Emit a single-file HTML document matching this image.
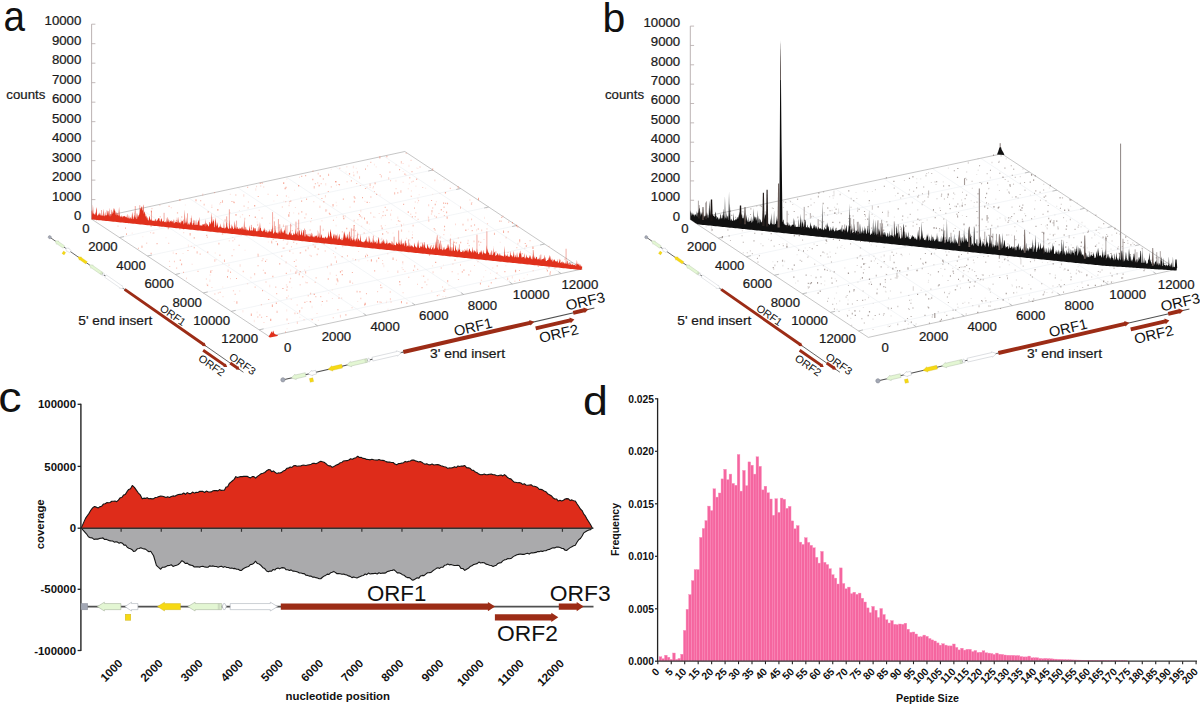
<!DOCTYPE html><html><head><meta charset="utf-8"><style>html,body{margin:0;padding:0;background:#fff;overflow:hidden}svg{display:block}text{font-family:"Liberation Sans",sans-serif}</style></head><body>
<svg width="1200" height="705" viewBox="0 0 1200 705">
<rect width="1200" height="705" fill="#fff"/>
<defs><g id="gm">
<line x1="0" y1="0" x2="512.5" y2="0" stroke="#505050" stroke-width="1.7"/>
<path d="M39.9,-3.05 L23.4,-3.05 L23.4,-4.4 L16.3,0 L23.4,4.4 L23.4,3.05 L39.9,3.05Z" fill="#e3f6d3" stroke="#a9b5a0" stroke-width="0.6"/>
<path d="M56.9,-3.05 L50.5,-3.05 L50.5,-4.4 L44,0 L50.5,4.4 L50.5,3.05 L56.9,3.05Z" fill="#ffffff" stroke="#aab0b8" stroke-width="0.6"/>
<rect x="44.2" y="7.6" width="5.6" height="6.1" fill="#f6d914" stroke="#c9b020" stroke-width="0.4"/>
<path d="M99.5,-3.05 L83.5,-3.05 L83.5,-4.4 L76.4,0 L83.5,4.4 L83.5,3.05 L99.5,3.05Z" fill="#f6d914" stroke="#c9b020" stroke-width="0.4"/>
<path d="M140.7,-3.05 L114.1,-3.05 L114.1,-4.4 L106.8,0 L114.1,4.4 L114.1,3.05 L140.7,3.05Z" fill="#e3f6d3" stroke="#a9b5a0" stroke-width="0.6"/>
<line x1="137.3" y1="-3" x2="137.3" y2="3" stroke="#a9b5a0" stroke-width="0.5"/>
<line x1="138.8" y1="-3" x2="138.8" y2="3" stroke="#a9b5a0" stroke-width="0.5"/>
<path d="M141.3,0 L142.5,-3 L144,-3 L145.3,0 L144,3 L142.5,3Z" fill="#ffffff" stroke="#aab0b8" stroke-width="0.6"/>
<path d="M149.2,-3.05 L189.3,-3.05 L189.3,-4.4 L196.6,0 L189.3,4.4 L189.3,3.05 L149.2,3.05Z" fill="#ffffff" stroke="#aab0b8" stroke-width="0.6"/>
<path d="M199.8,-3.15 L406.9,-3.15 L406.9,-4.6 L414.1,0 L406.9,4.6 L406.9,3.15 L199.8,3.15Z" fill="#9c2c16"/>
<path d="M477.8,-3.15 L495.7,-3.15 L495.7,-4.6 L502.8,0 L495.7,4.6 L495.7,3.15 L477.8,3.15Z" fill="#9c2c16"/>
<path d="M413.9,7.55 L470.3,7.55 L470.3,6.1 L477.3,10.7 L470.3,15.3 L470.3,13.85 L413.9,13.85Z" fill="#9c2c16"/>
</g>
<g id="gmt" font-size="22" fill="#111">
<text x="286.0" y="-6.0" textLength="59.3" lengthAdjust="spacingAndGlyphs">ORF1</text>
<text x="468.8" y="-5.7" textLength="60.9" lengthAdjust="spacingAndGlyphs">ORF3</text>
<text x="416.1" y="34.3" textLength="60.8" lengthAdjust="spacingAndGlyphs">ORF2</text>
</g>
<g id="gmt3" font-size="23" fill="#111">
<text x="286.0" y="-6.0" textLength="62" lengthAdjust="spacingAndGlyphs">ORF1</text>
<text x="468.8" y="-5.7" textLength="63.67" lengthAdjust="spacingAndGlyphs">ORF3</text>
<text x="416.1" y="35.0" textLength="63.56" lengthAdjust="spacingAndGlyphs">ORF2</text>
</g></defs>
<text transform="translate(3.6,31.4) scale(0.943,1.02)" font-size="41" fill="#111">a</text>
<text x="602.4" y="31.5" font-size="41" fill="#111">b</text>
<text transform="translate(-1.86,411.9) scale(1.11,1)" font-size="42" fill="#111">c</text>
<text transform="translate(583.0,414.8) scale(1.09,1.01)" font-size="41" fill="#111">d</text>
<line x1="91.6" y1="24.2" x2="91.6" y2="219.1" stroke="#b4aaaa" stroke-width="0.9"/>
<line x1="91.6" y1="219.1" x2="95.4" y2="219.1" stroke="#b4aaaa" stroke-width="0.8"/>
<text x="81.3" y="220" font-size="12" text-anchor="end" textLength="7.35" lengthAdjust="spacingAndGlyphs" fill="#1a1a1a" stroke="#1a1a1a" stroke-width="0.22">0</text>
<line x1="91.6" y1="199.61" x2="95.4" y2="199.61" stroke="#b4aaaa" stroke-width="0.8"/>
<text x="81.3" y="200.51" font-size="12" text-anchor="end" textLength="29.4" lengthAdjust="spacingAndGlyphs" fill="#1a1a1a" stroke="#1a1a1a" stroke-width="0.22">1000</text>
<line x1="91.6" y1="180.12" x2="95.4" y2="180.12" stroke="#b4aaaa" stroke-width="0.8"/>
<text x="81.3" y="181.02" font-size="12" text-anchor="end" textLength="29.4" lengthAdjust="spacingAndGlyphs" fill="#1a1a1a" stroke="#1a1a1a" stroke-width="0.22">2000</text>
<line x1="91.6" y1="160.63" x2="95.4" y2="160.63" stroke="#b4aaaa" stroke-width="0.8"/>
<text x="81.3" y="161.53" font-size="12" text-anchor="end" textLength="29.4" lengthAdjust="spacingAndGlyphs" fill="#1a1a1a" stroke="#1a1a1a" stroke-width="0.22">3000</text>
<line x1="91.6" y1="141.14" x2="95.4" y2="141.14" stroke="#b4aaaa" stroke-width="0.8"/>
<text x="81.3" y="142.04" font-size="12" text-anchor="end" textLength="29.4" lengthAdjust="spacingAndGlyphs" fill="#1a1a1a" stroke="#1a1a1a" stroke-width="0.22">4000</text>
<line x1="91.6" y1="121.65" x2="95.4" y2="121.65" stroke="#b4aaaa" stroke-width="0.8"/>
<text x="81.3" y="122.55" font-size="12" text-anchor="end" textLength="29.4" lengthAdjust="spacingAndGlyphs" fill="#1a1a1a" stroke="#1a1a1a" stroke-width="0.22">5000</text>
<line x1="91.6" y1="102.16" x2="95.4" y2="102.16" stroke="#b4aaaa" stroke-width="0.8"/>
<text x="81.3" y="103.06" font-size="12" text-anchor="end" textLength="29.4" lengthAdjust="spacingAndGlyphs" fill="#1a1a1a" stroke="#1a1a1a" stroke-width="0.22">6000</text>
<line x1="91.6" y1="82.67" x2="95.4" y2="82.67" stroke="#b4aaaa" stroke-width="0.8"/>
<text x="81.3" y="83.57" font-size="12" text-anchor="end" textLength="29.4" lengthAdjust="spacingAndGlyphs" fill="#1a1a1a" stroke="#1a1a1a" stroke-width="0.22">7000</text>
<line x1="91.6" y1="63.18" x2="95.4" y2="63.18" stroke="#b4aaaa" stroke-width="0.8"/>
<text x="81.3" y="64.08" font-size="12" text-anchor="end" textLength="29.4" lengthAdjust="spacingAndGlyphs" fill="#1a1a1a" stroke="#1a1a1a" stroke-width="0.22">8000</text>
<line x1="91.6" y1="43.69" x2="95.4" y2="43.69" stroke="#b4aaaa" stroke-width="0.8"/>
<text x="81.3" y="44.59" font-size="12" text-anchor="end" textLength="29.4" lengthAdjust="spacingAndGlyphs" fill="#1a1a1a" stroke="#1a1a1a" stroke-width="0.22">9000</text>
<line x1="91.6" y1="24.2" x2="95.4" y2="24.2" stroke="#b4aaaa" stroke-width="0.8"/>
<text x="81.3" y="25.1" font-size="12" text-anchor="end" textLength="36.75" lengthAdjust="spacingAndGlyphs" fill="#1a1a1a" stroke="#1a1a1a" stroke-width="0.22">10000</text>
<text x="6.3" y="98.7" font-size="12" textLength="39" lengthAdjust="spacingAndGlyphs" fill="#1a1a1a" stroke="#1a1a1a" stroke-width="0.22">counts</text>
<line x1="119.52" y1="237.56" x2="432.75" y2="170" stroke="#ebeef2" stroke-width="0.6"/>
<line x1="317.6" y1="325.84" x2="140.27" y2="208.59" stroke="#ebeef2" stroke-width="0.6"/>
<line x1="147.44" y1="256.01" x2="460.71" y2="188.51" stroke="#ebeef2" stroke-width="0.6"/>
<line x1="366.3" y1="315.38" x2="188.94" y2="198.09" stroke="#ebeef2" stroke-width="0.6"/>
<line x1="175.36" y1="274.47" x2="488.66" y2="207.01" stroke="#ebeef2" stroke-width="0.6"/>
<line x1="415.01" y1="304.92" x2="237.61" y2="187.58" stroke="#ebeef2" stroke-width="0.6"/>
<line x1="203.29" y1="292.93" x2="516.61" y2="225.52" stroke="#ebeef2" stroke-width="0.6"/>
<line x1="463.71" y1="294.47" x2="286.29" y2="177.08" stroke="#ebeef2" stroke-width="0.6"/>
<line x1="231.21" y1="311.38" x2="544.56" y2="244.02" stroke="#ebeef2" stroke-width="0.6"/>
<line x1="512.41" y1="284.01" x2="334.96" y2="166.57" stroke="#ebeef2" stroke-width="0.6"/>
<line x1="259.13" y1="329.84" x2="572.52" y2="262.52" stroke="#ebeef2" stroke-width="0.6"/>
<line x1="561.11" y1="273.55" x2="383.63" y2="156.07" stroke="#ebeef2" stroke-width="0.6"/>
<path d="M91.6,219.1 L404.8,151.5 L582.3,269 L268.9,336.3 Z" fill="none" stroke="#aeaeae" stroke-width="0.7"/>
<line x1="119.52" y1="237.56" x2="124.02" y2="236.56" stroke="#a8a8a8" stroke-width="0.7"/>
<line x1="432.75" y1="170" x2="428.25" y2="171" stroke="#a8a8a8" stroke-width="0.7"/>
<line x1="317.6" y1="325.84" x2="314.8" y2="323.94" stroke="#a8a8a8" stroke-width="0.7"/>
<line x1="147.44" y1="256.01" x2="151.94" y2="255.01" stroke="#a8a8a8" stroke-width="0.7"/>
<line x1="460.71" y1="188.51" x2="456.21" y2="189.51" stroke="#a8a8a8" stroke-width="0.7"/>
<line x1="366.3" y1="315.38" x2="363.5" y2="313.48" stroke="#a8a8a8" stroke-width="0.7"/>
<line x1="175.36" y1="274.47" x2="179.86" y2="273.47" stroke="#a8a8a8" stroke-width="0.7"/>
<line x1="488.66" y1="207.01" x2="484.16" y2="208.01" stroke="#a8a8a8" stroke-width="0.7"/>
<line x1="415.01" y1="304.92" x2="412.21" y2="303.02" stroke="#a8a8a8" stroke-width="0.7"/>
<line x1="203.29" y1="292.93" x2="207.79" y2="291.93" stroke="#a8a8a8" stroke-width="0.7"/>
<line x1="516.61" y1="225.52" x2="512.11" y2="226.52" stroke="#a8a8a8" stroke-width="0.7"/>
<line x1="463.71" y1="294.47" x2="460.91" y2="292.57" stroke="#a8a8a8" stroke-width="0.7"/>
<line x1="231.21" y1="311.38" x2="235.71" y2="310.38" stroke="#a8a8a8" stroke-width="0.7"/>
<line x1="544.56" y1="244.02" x2="540.06" y2="245.02" stroke="#a8a8a8" stroke-width="0.7"/>
<line x1="512.41" y1="284.01" x2="509.61" y2="282.11" stroke="#a8a8a8" stroke-width="0.7"/>
<line x1="259.13" y1="329.84" x2="263.63" y2="328.84" stroke="#a8a8a8" stroke-width="0.7"/>
<line x1="572.52" y1="262.52" x2="568.02" y2="263.52" stroke="#a8a8a8" stroke-width="0.7"/>
<line x1="561.11" y1="273.55" x2="558.31" y2="271.65" stroke="#a8a8a8" stroke-width="0.7"/>
<path d="M380.84,175.16h1v2.4h-1zM439.57,236.63h1v1.8h-1zM286.42,318.62h1.2v1.8h-1.2zM219.24,254.46h1.2v1.5h-1.2zM271,240.86h1.2v2.4h-1.2zM285.08,201.16h1.2v1h-1.2zM440.7,267.35h1v1.3h-1zM159.76,216.05h1v1.5h-1zM414.18,265.09h1v2.4h-1zM262.87,269.87h1v1h-1zM426.32,284.34h1v1h-1zM470.89,202.48h1.2v2.4h-1.2zM557.29,259.29h1v1.3h-1zM290.09,277.65h1v1.5h-1zM406.24,302.27h1.2v1.8h-1.2zM380.69,301.76h1v1.2h-1zM443.8,214.97h1.2v1h-1.2zM294.44,312.47h1v1.8h-1zM342.8,215.47h1.2v1.8h-1.2zM332.74,317.22h1.2v1h-1.2zM359.79,185.01h1v1h-1zM471.08,218.42h1v1.8h-1zM485.13,256.15h1.2v1h-1.2zM214.11,191.91h1v1.3h-1zM412.53,224.63h1.2v1.8h-1.2zM417.01,283.73h1v1h-1zM310.97,218.08h1v1h-1zM322.74,178.37h1.2v1.5h-1.2zM349.22,235.24h1v1h-1zM430.84,245.01h1.2v2.4h-1.2zM369.52,183.51h1.2v2.4h-1.2zM282.95,224.61h1v2.4h-1zM486.88,223.18h1.2v1h-1.2zM310.61,255.57h1.2v1.3h-1.2zM199.59,253.49h1.2v1.3h-1.2zM281.8,206.6h1.2v1h-1.2zM450.91,250.68h1v1.8h-1zM260.24,185.53h1v1h-1zM117.52,225.54h1v1.3h-1zM240.64,234.49h1v1.2h-1zM410.56,159.66h1v1.3h-1zM337.23,279.76h1.2v2.4h-1.2zM131.56,216.76h1.2v1.5h-1.2zM524.67,258.88h1v1.3h-1zM214.3,259.27h1v2.4h-1zM284.49,231.58h1v1h-1zM298.25,212.8h1v1.8h-1zM473.49,240.45h1v1.8h-1zM420.39,242.54h1.2v1h-1.2zM457.7,237.6h1.2v1h-1.2zM276.48,310.66h1.2v2.4h-1.2zM247.59,207.37h1v1.2h-1zM382.16,263.31h1.2v1h-1.2zM227.6,269.51h1v2.4h-1zM387.47,232.24h1v1.2h-1zM176.91,212.03h1.2v1.8h-1.2zM123.11,216.88h1v1.8h-1zM211.23,206.87h1.2v1h-1.2zM351.48,307.2h1.2v1h-1.2zM428.3,219.29h1v2.4h-1zM469.42,199.62h1v1h-1zM417.22,268.66h1v1.3h-1zM423.04,275.38h1.2v1.5h-1.2zM434.51,229.25h1.2v1.5h-1.2zM516.33,247h1v1.2h-1zM233.38,249.26h1v1h-1zM549.89,271.08h1v1.8h-1zM339.93,316.56h1v1h-1zM468.64,245.02h1v1.3h-1zM219.35,203.53h1v1h-1zM309.6,229.32h1v1.5h-1zM434.11,215.45h1v1h-1zM233.17,201.34h1.2v1.5h-1.2zM532.66,270.23h1v1h-1zM502.36,215.84h1.2v1h-1.2zM296.88,313.09h1v1h-1zM377.1,291.04h1v1.2h-1zM320.12,295.94h1.2v1.3h-1.2zM500.74,220.62h1v1.5h-1zM417.6,218.79h1v1.2h-1zM263.24,186.51h1v1h-1zM183.06,227.91h1.2v1.8h-1.2zM443.05,290.28h1v1.5h-1zM435.75,216.27h1.2v1.8h-1.2zM443.85,229.17h1.2v1.5h-1.2zM296.65,232.73h1v1.8h-1zM330.71,186.15h1.2v1.3h-1.2zM462.57,254.69h1.2v1.8h-1.2zM353.63,219.72h1v1.8h-1zM313.64,186.11h1.2v2.4h-1.2zM181.07,216.16h1.2v1.5h-1.2zM159.36,204.84h1v1h-1zM353.36,174.39h1v1.8h-1zM459.54,251.03h1v1.2h-1zM315.2,295.98h1.2v1.2h-1.2zM112.48,219.03h1.2v1h-1.2zM275.71,241.01h1v1h-1zM180.51,219.68h1v1h-1zM203.57,203.75h1.2v1.8h-1.2zM418.08,199.98h1v1.2h-1zM151.42,207.95h1v1.2h-1zM169.1,266.04h1.2v1h-1.2zM235.34,194.13h1v1.5h-1zM379.99,284.5h1.2v1.5h-1.2zM430.88,213.42h1.2v1.2h-1.2zM409.17,177.12h1.2v1.5h-1.2zM242.67,270.83h1.2v1.5h-1.2zM389.7,291.23h1v1.5h-1zM444.4,288.86h1v1.3h-1zM496.42,272.61h1.2v1h-1.2zM384.79,214.87h1.2v1.2h-1.2zM313.28,201.37h1v1h-1zM411.27,181.41h1v1.2h-1zM310.09,301.5h1.2v1h-1.2zM359.05,176.29h1v2.4h-1zM362.98,242.37h1v1h-1zM412.64,180.85h1.2v1h-1.2zM477.45,261.28h1v1h-1zM254.57,286.43h1.2v1.2h-1.2zM267.59,193.72h1v1h-1zM197.41,270.76h1.2v1.3h-1.2zM173.92,260.78h1v1.5h-1zM402.57,292.29h1v1h-1zM346.95,254.98h1v1.8h-1zM405.69,152.67h1v1.3h-1zM400.28,190.37h1.2v2.4h-1.2zM399.16,220.82h1.2v1.2h-1.2zM419.55,166.27h1v1.5h-1zM370.29,212.31h1v1.5h-1zM514.37,280.83h1v1h-1zM257.53,254.29h1.2v2.4h-1.2zM303.52,319.33h1v1h-1zM317.21,182.17h1v1.3h-1zM360.31,297.68h1v1.5h-1zM457.56,186.03h1.2v2.4h-1.2zM402.29,261.24h1v1.8h-1zM296.13,243.25h1.2v1h-1.2zM240.23,231.55h1v1.2h-1zM243.5,205.4h1.2v1.3h-1.2zM546.21,268.81h1.2v1h-1.2zM325.26,209.28h1.2v2.4h-1.2zM310.29,221.37h1v1h-1zM459.97,264.33h1v1.5h-1zM432.09,168.16h1.2v2.4h-1.2zM254.15,272.89h1v2.4h-1zM335.31,247.33h1v1.8h-1zM354.81,229.96h1.2v1.3h-1.2zM400.92,229.42h1.2v2.4h-1.2zM317.67,172.63h1v1.8h-1zM352.62,228.63h1.2v2.4h-1.2zM283.99,236.86h1v1.8h-1zM318.33,193.77h1v1.2h-1zM260.97,316.79h1.2v1.2h-1.2zM413.99,207.29h1v1.8h-1zM257.21,223.67h1v2.4h-1zM301.15,210.99h1.2v1.8h-1.2zM356.02,182.88h1.2v1h-1.2zM244.33,217.82h1v1.8h-1zM422.22,187.09h1v1h-1zM554.39,267.61h1.2v1.2h-1.2zM341.45,270.05h1.2v1.5h-1.2zM467.43,253.74h1v1.5h-1zM457.9,279.11h1.2v1h-1.2zM507.19,277.57h1v2.4h-1zM309.95,292.68h1.2v1.8h-1.2zM238.15,228.27h1.2v2.4h-1.2zM262.5,258.32h1v1.2h-1zM295.58,233.15h1v1h-1zM373.94,190.88h1v1.2h-1zM261.61,259.93h1v1.3h-1zM481.23,229.51h1v1.8h-1zM217.76,292.48h1v1h-1zM470.15,270.41h1v1.3h-1zM432.23,207.15h1v1.5h-1zM205.08,224.46h1v1h-1zM438.48,294.43h1v1h-1zM339.05,184h1v1.5h-1zM564.16,258.49h1.2v1.2h-1.2zM389.43,171.29h1v1.8h-1zM381.49,227.27h1.2v1.3h-1.2zM206.79,236.61h1v1.5h-1zM357.38,219.14h1v1h-1zM336.02,260.54h1v2.4h-1zM296.64,304.62h1v1h-1zM400.81,160.99h1v2.4h-1zM183.27,223.76h1v1.8h-1z" fill="#ef5a3a" fill-opacity="0.31"/>
<path d="M350.84,180.18h1.2v1.3h-1.2zM260.84,304.19h1v1h-1zM490.75,282.1h1v1.5h-1zM329.42,213.63h1.2v1.3h-1.2zM206.84,284.8h1.2v1h-1.2zM356.57,290.69h1v1.8h-1zM359.38,240.64h1v1.3h-1zM424.38,281.53h1.2v1h-1.2zM451.66,271.25h1v1h-1zM298.76,273.36h1v1.8h-1zM183,271.73h1v1.3h-1zM140.64,209.49h1v1.8h-1zM474.07,224.19h1v1.5h-1zM318.69,185.12h1.2v1.2h-1.2zM218.44,242.64h1v1.8h-1zM187.36,250.11h1.2v1h-1.2zM323.25,201.06h1.2v1.5h-1.2zM295.34,271.51h1v2.4h-1zM397.16,192.13h1.2v1.3h-1.2zM288.92,212.27h1v1.3h-1zM480.29,241.68h1v1.2h-1zM464.19,249.26h1.2v1.3h-1.2zM460,206.38h1v2.4h-1zM224.59,219.16h1v2.4h-1zM221.98,200.25h1v2.4h-1zM407.68,211.17h1.2v1.8h-1.2zM416.04,178.49h1.2v1.5h-1.2zM330.71,263.58h1v1.8h-1zM379.24,156.19h1.2v2.4h-1.2zM386.41,209.49h1.2v1.3h-1.2zM250.77,313.53h1.2v2.4h-1.2zM321.3,198.05h1.2v1h-1.2zM223.96,259.55h1v2.4h-1zM314.67,281.65h1v1h-1zM344.81,239.52h1.2v1.8h-1.2zM233.67,201.94h1v1.3h-1zM529.56,240.27h1v1h-1zM95.97,219.25h1v1.3h-1zM478.21,240.63h1v1.8h-1zM153.33,232.38h1v1h-1zM259.23,314.4h1.2v1h-1.2zM324.69,250.42h1v1h-1zM293.78,260.89h1.2v1.2h-1.2zM444.1,290.69h1v1h-1zM248.96,215.02h1v1.2h-1zM317.62,248.34h1v1.5h-1zM306.4,282.16h1.2v1h-1.2zM259.69,182.81h1.2v1.3h-1.2zM517.22,226.32h1.2v1.2h-1.2zM540.71,259.49h1v2.4h-1zM224.45,229.83h1v2.4h-1zM349.54,280.52h1v2.4h-1zM196.62,251.21h1v2.4h-1zM411.82,216.08h1v1.3h-1zM158.68,218.28h1v2.4h-1zM265.49,281.57h1v1h-1zM302.32,276.08h1v1.5h-1zM379.63,173.99h1v1h-1zM443.57,206.4h1v1.5h-1zM206.1,234.71h1.2v1.2h-1.2zM220.85,228.63h1v1.5h-1zM299.19,310.04h1v2.4h-1zM548.49,266.74h1v1.8h-1zM353.74,225.02h1v1h-1zM286.56,243.43h1v1.2h-1zM453.73,241.72h1.2v1.3h-1.2zM293.11,241.77h1.2v1h-1.2zM518.93,269.95h1v1h-1zM306.07,198.61h1v1.5h-1zM488.03,285.64h1.2v1.2h-1.2zM519.01,279.59h1v1.5h-1zM327.74,190.93h1.2v1h-1.2zM304.4,217.33h1v1.2h-1zM305.29,249.57h1v1.8h-1zM261.48,217.48h1.2v1.2h-1.2zM320.66,183.28h1v1h-1zM357.48,233.65h1.2v1h-1.2zM141.47,245.64h1v2.4h-1zM398.33,247.9h1.2v1h-1.2zM312.5,170.45h1v1.2h-1zM431.47,210.12h1v2.4h-1zM179.72,259.44h1.2v1.5h-1.2zM507.53,251.9h1v1h-1zM445.98,211.44h1.2v1.8h-1.2zM365.94,292.99h1v1.3h-1zM449.76,187.83h1v1.2h-1zM390.08,180.15h1v1.2h-1zM399.47,284.11h1v1.2h-1zM477.76,228.33h1v1.5h-1zM394.17,192.2h1v2.4h-1zM275.29,286.42h1v1.3h-1zM127.69,222.09h1.2v1.5h-1.2zM328.1,173.67h1v2.4h-1zM470.72,225.31h1v1.5h-1zM467.32,242.87h1v1.2h-1zM230.04,271.6h1v1.3h-1zM436.83,294.93h1v1.3h-1zM384.72,206.66h1v1.3h-1zM290.16,200.47h1.2v1.3h-1.2zM341.5,255.95h1.2v1.3h-1.2zM265.88,233.51h1.2v1.5h-1.2zM382.41,214.94h1v1.2h-1zM289.26,201.05h1v1h-1zM339.31,167.86h1v1h-1zM335.26,181.3h1.2v1.5h-1.2zM304.97,174.99h1.2v1.3h-1.2zM461.78,271.07h1v1.8h-1zM412.92,269.85h1.2v1h-1.2zM126.03,233.26h1v1.8h-1zM316.66,253.74h1v1.5h-1zM193.71,237.06h1v1.8h-1zM328.79,212.68h1.2v1.2h-1.2zM364.92,187.91h1.2v1h-1.2zM353.69,200.8h1.2v1.8h-1.2zM549.52,272.72h1v2.4h-1zM341.81,231.15h1v1.3h-1zM493.95,232.63h1v2.4h-1zM168.24,242.75h1v1h-1zM454.4,259.6h1.2v1.2h-1.2zM397.86,219.94h1v1.5h-1zM222.29,232.88h1v1.5h-1zM264.69,272.56h1.2v1.2h-1.2zM257.66,195.93h1.2v1h-1.2zM381.58,228.37h1.2v1h-1.2zM266.23,315.91h1.2v1.2h-1.2zM380.48,287.07h1v1.3h-1zM370.31,161.65h1v1.3h-1zM447.21,279.93h1v2.4h-1zM166.95,221.22h1v1.8h-1zM276.2,293.12h1v1.2h-1zM400.96,225.34h1v1.2h-1zM359.36,291.1h1.2v1.3h-1.2zM245.35,227.18h1v1h-1zM285.74,272.75h1.2v1.3h-1.2zM251.01,227.29h1v1.8h-1zM301.07,175.81h1.2v1.2h-1.2zM291.8,230h1v1.2h-1zM379.47,301.54h1v1h-1zM501.11,216.64h1.2v1.3h-1.2zM410.7,195.72h1.2v1h-1.2zM220.23,202.03h1v1h-1zM144.93,213.71h1.2v2.4h-1.2zM462.5,223.81h1v1.8h-1zM386.26,155.79h1.2v1.5h-1.2zM366.58,221.24h1.2v2.4h-1.2zM272.25,275.64h1.2v1.5h-1.2zM391.32,243.95h1v2.4h-1zM286.23,289.43h1.2v1.3h-1.2zM345.4,313.97h1v1.8h-1zM210.12,270.62h1.2v2.4h-1.2zM301.32,307.48h1.2v1h-1.2zM496.63,265.16h1.2v1.3h-1.2zM286.35,297.27h1v1.2h-1zM408.27,276.71h1v1h-1zM366.9,244.12h1v1.2h-1zM348.91,173.05h1.2v1.8h-1.2zM388.39,162.04h1.2v1.3h-1.2zM128.01,221.17h1v1.3h-1zM314.56,245.6h1v2.4h-1zM231.48,255.34h1.2v1h-1.2zM315.61,277.13h1v1.3h-1zM318.51,184.78h1v1.8h-1zM305.16,271.21h1v2.4h-1z" fill="#ef5a3a" fill-opacity="0.403"/>
<path d="M291.18,287.2h1v1h-1zM214.74,252.21h1v1.5h-1zM257.34,253.21h1.2v1.5h-1.2zM152.34,232.6h1v1.5h-1zM330.83,168.73h1v1h-1zM180.32,218.49h1v1h-1zM244.43,249.82h1.2v1h-1.2zM286.37,178.44h1v1.3h-1zM486.16,208.26h1v1h-1zM288.22,196.7h1v1h-1zM344.72,215.07h1v2.4h-1zM443.58,179.09h1v1.3h-1zM384.8,224.92h1.2v1h-1.2zM270.93,228.88h1v1.3h-1zM239.82,215.68h1v2.4h-1zM321.33,219.99h1.2v1.5h-1.2zM141.44,245.45h1v1h-1zM410.85,190.07h1v1.8h-1zM523.53,277.79h1v1.2h-1zM273.58,217.22h1v1.5h-1zM267.83,241.38h1v1.2h-1zM524.31,247.5h1v1.5h-1zM233.76,300.89h1v1h-1zM424.94,187.74h1.2v1h-1.2zM311.58,305.86h1v2.4h-1zM292.54,252.43h1v1.5h-1zM427.34,278.73h1.2v1.8h-1.2zM294.07,189.73h1v1h-1zM439.42,192.99h1v1h-1zM242.41,310h1v2.4h-1zM336.05,216.66h1v1h-1zM485.21,269.96h1v1h-1zM184.88,204.62h1v1h-1zM402.6,181.67h1.2v1.3h-1.2zM187.85,244.62h1v2.4h-1zM387.25,270.69h1.2v1h-1.2zM484.03,216.65h1v2.4h-1zM229.84,193.7h1.2v1.2h-1.2zM385.8,301.89h1v1.3h-1zM417.27,167.94h1.2v1h-1.2zM269.05,284.83h1.2v2.4h-1.2zM443.01,264.52h1v1h-1zM285.9,283.93h1.2v1.8h-1.2zM364.42,200.75h1v1.3h-1zM232.16,237.05h1v1h-1zM415.27,185.44h1.2v1.2h-1.2zM335.97,184.16h1v1.8h-1zM519.17,241.95h1v1h-1zM432.09,264.94h1v1.8h-1zM408.47,164.72h1v2.4h-1zM358.22,260.28h1.2v1.2h-1.2zM283.26,200.72h1v1h-1zM432.06,252.69h1.2v1.8h-1.2zM379.69,194.46h1.2v1h-1.2zM335.59,224.8h1v1.8h-1zM256.68,221.19h1v1.5h-1zM396.1,223.97h1.2v1h-1.2zM346.21,166.05h1.2v1.5h-1.2zM437.06,238.98h1.2v1.2h-1.2zM345.52,171.39h1v1h-1zM508.93,280.61h1v1h-1zM206.31,283.28h1v1.5h-1zM357.02,300.88h1.2v1.2h-1.2zM387.13,253.12h1.2v1.3h-1.2zM381.55,286.72h1.2v1.5h-1.2zM418.61,194.37h1.2v1h-1.2zM352.84,165.8h1.2v2.4h-1.2zM471.64,202.08h1v1h-1zM448.43,285.01h1v1.2h-1zM293.13,212.18h1v1.2h-1zM532.86,258.15h1.2v1.2h-1.2zM505.35,265.29h1v1h-1zM360.18,209.82h1.2v2.4h-1.2zM263.63,227.5h1v1.5h-1zM386.01,300.74h1.2v1h-1.2zM343.1,243.92h1v1h-1zM286.48,328.16h1.2v1h-1.2zM390.78,219.28h1v1h-1zM226.74,222.49h1v2.4h-1zM131.71,232.57h1v1.2h-1zM176.11,217.59h1.2v1.8h-1.2zM383.32,264.75h1v2.4h-1zM532.43,258.85h1.2v1.5h-1.2zM369.22,229.33h1v1h-1zM411.32,246.38h1.2v1.2h-1.2zM249.95,276.66h1.2v1.8h-1.2zM408.81,182.96h1v1.5h-1zM335.68,201.84h1v1.5h-1zM317.87,319.74h1v1.3h-1zM367.22,260.05h1v1.3h-1zM256.62,311.55h1v1.8h-1zM366.54,186.3h1v1.5h-1zM269.14,222.83h1.2v1.2h-1.2zM442.48,295.98h1v1.2h-1zM165.67,217.71h1v1h-1zM490.06,272.64h1v1.2h-1zM380.87,216.65h1v1.8h-1zM304.98,281.44h1v1.8h-1zM355.8,167.63h1v1h-1zM209.24,279.58h1.2v2.4h-1.2zM402.52,170.88h1.2v1.2h-1.2zM417,202.18h1.2v1h-1.2zM352.94,171.63h1v1.5h-1zM467.77,228.72h1v1.2h-1zM526.2,244.41h1.2v1.3h-1.2zM273.34,200.41h1v1h-1zM222.26,286.38h1v1.3h-1zM433.27,244.38h1.2v1.5h-1.2zM419.39,243.2h1v1.5h-1zM365.85,253.4h1.2v1.5h-1.2zM142.32,236.37h1v1h-1zM290.1,269.39h1v2.4h-1zM526.88,273.89h1v1.3h-1zM325.06,182.98h1.2v2.4h-1.2zM286.24,309.17h1v2.4h-1zM228.74,240.12h1.2v1.3h-1.2zM326.21,209.46h1.2v1.2h-1.2zM308.77,266.19h1v1h-1zM421.49,275.39h1v1.2h-1zM511.77,276.04h1.2v2.4h-1.2zM432.16,193.75h1v1h-1zM172.73,251.5h1v2.4h-1zM408.29,230.65h1v1.5h-1zM250.65,276.9h1.2v1.3h-1.2zM373.91,163.76h1v1.8h-1zM227.04,220.14h1v1.8h-1zM246.94,283.02h1.2v1.5h-1.2zM375.6,166.35h1.2v1.2h-1.2zM333.19,238.37h1v2.4h-1zM253.82,319.85h1v2.4h-1zM445.07,295.92h1.2v1.3h-1.2zM395.46,179.83h1v1.8h-1zM182.46,252.88h1.2v1.2h-1.2zM226.58,228.57h1.2v1h-1.2zM457.48,272.92h1.2v1.8h-1.2zM367.55,245.22h1v1.8h-1zM320.93,304.46h1v1h-1zM256.45,218.58h1v1h-1zM427.81,215.64h1v1.5h-1zM238.94,209.94h1v1h-1zM403.15,223.38h1v1.3h-1zM331.79,289.56h1v1h-1zM483,276.3h1.2v1.3h-1.2zM409.2,238.91h1.2v2.4h-1.2zM397.13,216.6h1.2v2.4h-1.2zM335.82,283.59h1.2v1.3h-1.2zM402.33,262.95h1v1.5h-1zM416.13,167.46h1.2v1h-1.2zM221.97,262.71h1v1h-1zM165.38,237.13h1.2v1h-1.2zM417.48,197.64h1v1.8h-1zM328.2,292.38h1v1.3h-1zM449.1,240.12h1.2v1.5h-1.2zM299.25,316.67h1.2v1h-1.2zM271.43,242.28h1v1.5h-1zM143.29,222.18h1v1.3h-1zM329.6,272.32h1v2.4h-1zM476.12,228.96h1v2.4h-1zM499.7,241.78h1v1.3h-1zM211.33,204.47h1v1.8h-1zM255.12,188.24h1.2v2.4h-1.2zM411.89,231.49h1v1h-1zM287.9,295.08h1v1.8h-1zM336.21,205.04h1v1.3h-1zM300.35,196.78h1v1h-1zM493.1,246.57h1v1.2h-1zM287.38,241.2h1v2.4h-1zM374.52,216.68h1.2v1h-1.2zM450.17,234.49h1v1h-1zM392.53,232.56h1v1.2h-1zM368.81,223.52h1.2v1h-1.2zM331.53,242.92h1v1.5h-1zM387.41,308.73h1.2v1h-1.2z" fill="#ef5a3a" fill-opacity="0.124"/>
<path d="M299,176.81h1v1h-1zM431.27,290.6h1v1.2h-1zM389.83,297.92h1.2v2.4h-1.2zM397.22,270.53h1.2v2.4h-1.2zM428.02,204.34h1.2v1.8h-1.2zM290.78,298.86h1v1.2h-1zM567.19,267h1v1.3h-1zM341.02,297.54h1.2v1.2h-1.2zM264.46,272.11h1v1.5h-1zM300.2,251.99h1v1.2h-1zM388.01,177.13h1.2v2.4h-1.2zM282.78,238.65h1v2.4h-1zM239.18,290.47h1v1h-1zM412.03,234.28h1v1.2h-1zM373.01,185.91h1v1.5h-1zM402.57,162.97h1v1h-1zM478.79,244.31h1v1.5h-1zM432.46,271.37h1.2v1.8h-1.2zM258.69,209.73h1v1h-1zM395.92,259.45h1v1.5h-1zM150.08,231.95h1v1.3h-1zM342.22,245.4h1v1.8h-1zM175.98,267.3h1.2v1.8h-1.2zM346.58,180.92h1v1.5h-1zM480.85,279.63h1.2v1.2h-1.2zM214.24,293.25h1.2v1.5h-1.2zM299.6,284.03h1.2v1.5h-1.2zM390.95,209.63h1v1h-1zM414.74,201.59h1.2v1h-1.2zM331.89,298.06h1v1h-1zM263.36,321.9h1.2v1h-1.2zM234,238.44h1.2v1.2h-1.2zM319.25,205.72h1.2v2.4h-1.2zM211.55,269.92h1v1.2h-1zM467.45,218.85h1v2.4h-1zM209.51,274.49h1v1h-1zM548.55,245.83h1v1.2h-1zM277.25,243.9h1v1.3h-1zM296.41,269.73h1v2.4h-1zM266.34,259.36h1v1h-1zM352.44,258.59h1v1h-1zM405.9,237.8h1.2v1h-1.2zM98.63,217.04h1.2v1.2h-1.2zM395.43,164.5h1.2v1.2h-1.2zM296.77,321.5h1.2v2.4h-1.2zM205.85,278.31h1v1.5h-1zM222.5,296.08h1v1.2h-1zM405.32,174.61h1.2v1h-1.2zM490.54,256.69h1.2v1h-1.2zM307.68,295.06h1.2v1.5h-1.2zM271.29,330.93h1v1h-1zM361.15,216.57h1.2v1.8h-1.2zM415.36,211.88h1v1.8h-1zM291.03,245.88h1v1.5h-1zM427.91,216.92h1.2v1.8h-1.2zM309.34,254.7h1.2v1h-1.2zM232.87,290.09h1.2v1.5h-1.2zM146.05,242.48h1.2v1.5h-1.2zM400.72,223.89h1.2v1h-1.2zM158.82,226.56h1v1.2h-1zM373.17,216.31h1.2v1.5h-1.2zM381.98,260.01h1v1h-1zM349.51,206.55h1v1.3h-1zM247.88,201.36h1v1.5h-1zM316.98,230.62h1v1.8h-1zM332.97,252.99h1v1h-1zM390.12,213.51h1v2.4h-1zM540.14,264.52h1v1.2h-1zM211.32,286.91h1.2v1h-1.2zM387.08,243.53h1.2v1h-1.2zM550.24,259.41h1v1.3h-1zM369.1,201.91h1v1.2h-1zM295.62,259.48h1.2v1.2h-1.2zM170.73,207.22h1.2v1h-1.2zM284.08,247.19h1v1.5h-1zM505.49,236.72h1.2v1.8h-1.2zM434.26,179.5h1.2v1.8h-1.2zM358.08,251.02h1v1h-1zM324.9,195.11h1v2.4h-1zM334.72,255.88h1v2.4h-1zM285.87,195.08h1v1.8h-1zM229.55,211.97h1v1.3h-1zM241.93,214.16h1.2v1.2h-1.2zM217.45,299.41h1v1h-1zM435.85,201.15h1v1h-1zM239.61,264.31h1v2.4h-1zM191.62,263.85h1v1h-1zM369.56,186.7h1.2v1h-1.2zM483.46,238.93h1v1h-1zM221.62,233.77h1v1h-1zM339.85,314.69h1.2v1.8h-1.2zM442.95,210.96h1v1h-1zM190.74,245.65h1v1h-1zM443.21,234.05h1.2v1.2h-1.2zM438.33,213.06h1.2v1h-1.2zM372.42,187.57h1v1h-1zM142.18,223.26h1v1h-1zM326.9,265.97h1v2.4h-1zM202.25,193.43h1v2.4h-1zM559.27,268.48h1v1h-1zM452.28,263.45h1.2v1.2h-1.2zM207.37,284.42h1v1.8h-1zM168.96,260.75h1v1.3h-1zM316.5,313.04h1v1h-1zM367.08,165.33h1v1.2h-1zM215.62,259.23h1v1h-1zM338.56,294.23h1v1h-1zM285.58,261.13h1v2.4h-1zM390.46,301.61h1.2v1.2h-1.2zM243.31,194.37h1v2.4h-1zM335.79,274.74h1.2v1.3h-1.2zM404.45,270.79h1v1.3h-1zM381.31,237.73h1v2.4h-1zM508.04,221.17h1.2v1.8h-1.2zM492.29,267.4h1v1h-1zM407.74,188.21h1v1h-1zM288.91,202.39h1v1h-1zM352.61,243.98h1v1.2h-1zM402.57,269.1h1.2v1h-1.2zM346.82,243.37h1v2.4h-1zM288.55,204.74h1v1.5h-1zM385.98,231.01h1.2v1.3h-1.2zM256.04,185.87h1v1.3h-1zM474.03,264.93h1v1h-1zM228.5,264.53h1v1.3h-1zM305.5,213.33h1.2v1.8h-1.2zM486.47,227.92h1v1.8h-1zM288.08,323.03h1v1h-1zM352.13,282.49h1v1.5h-1zM291,224.93h1.2v1.5h-1.2zM229.98,278.05h1v1.2h-1zM322.68,228.71h1.2v2.4h-1.2zM378.68,213.04h1v1h-1zM395.47,188.08h1.2v1.2h-1.2zM192.11,225.96h1.2v2.4h-1.2zM467.64,239.81h1v1.8h-1zM401.58,267.32h1v1h-1zM99.68,217.43h1v2.4h-1zM356.82,171.12h1v2.4h-1zM361.21,225.72h1v1h-1zM307.6,246.84h1.2v2.4h-1.2zM312.67,243.88h1v1.5h-1zM304.08,269.59h1v1h-1zM505.62,257.46h1v1.3h-1zM238.88,233.8h1v1h-1zM232.3,240.07h1.2v1.5h-1.2zM375.98,259.75h1.2v2.4h-1.2zM455.03,223.5h1v1.8h-1zM382.74,210.99h1.2v1.5h-1.2zM183.2,232.11h1v1.2h-1zM517.46,242.64h1v1.8h-1zM306.32,300.89h1.2v1.2h-1.2zM410.26,213.61h1v1.5h-1zM442.08,286.36h1v1.3h-1zM185.96,277.45h1v1.8h-1zM294.87,206.96h1v1h-1z" fill="#ef5a3a" fill-opacity="0.217"/>
<path d="M524.76,242.91h1v1h-1zM217.23,208.98h1.2v1.8h-1.2zM314.82,183.36h1v1h-1zM319.61,175.15h1.2v1.5h-1.2zM289.32,250.61h1v1.2h-1zM433.68,228.04h1v1.2h-1zM168.47,205.86h1.2v1h-1.2zM313.7,293.75h1.2v1.2h-1.2zM428.93,254.34h1v1.5h-1zM335.62,235.52h1v1h-1zM510.84,254.93h1.2v2.4h-1.2zM364.57,302.71h1.2v2.4h-1.2zM125.03,227.43h1v1.2h-1zM219.62,291.84h1v1h-1zM156.56,243.05h1v1.3h-1zM465.2,229.4h1.2v1.5h-1.2zM207.27,251.48h1v1.3h-1zM327.74,278.13h1v1.5h-1zM447.07,202.83h1v1.3h-1zM553.24,259.76h1v1h-1zM370.38,196.52h1v1h-1zM304.41,301.83h1v1.2h-1zM446.63,216.38h1v2.4h-1zM338.44,183.89h1v1.2h-1zM399.11,169.01h1v1.3h-1zM179.24,199.29h1.2v1.5h-1.2zM380.76,225.55h1v1h-1zM495.38,251.2h1v2.4h-1zM323.81,243.31h1v1h-1zM339.9,271.05h1v1.8h-1zM434.72,203.75h1v1.5h-1zM343.18,217.65h1.2v1.5h-1.2zM546.89,270h1v1.5h-1zM338.48,297.57h1v1.3h-1zM359.43,240.32h1.2v2.4h-1.2zM332.9,219.71h1v1h-1zM404.37,173.52h1v1.2h-1zM559.79,259.86h1v2.4h-1zM275.83,302.42h1v1.5h-1zM321.76,301.05h1.2v1h-1.2zM308.48,233.68h1.2v1.2h-1.2zM167.82,226.94h1v1.8h-1zM150.57,224.71h1v2.4h-1zM282.31,288.04h1.2v1h-1.2zM298.03,184.92h1.2v1.5h-1.2zM479.89,282.82h1v1.8h-1zM207.68,210.91h1v1.8h-1zM444.08,225.79h1v1.5h-1zM299.68,270.93h1v1.2h-1zM515.97,224.69h1.2v1.8h-1.2zM511.97,222h1v1.5h-1zM181.13,263.56h1v1.8h-1zM559.14,260.92h1v1.2h-1zM175.86,219.66h1.2v1.5h-1.2zM270.09,318.64h1.2v2.4h-1.2zM189.62,233.11h1v2.4h-1zM193.75,247.13h1v1.2h-1zM471.68,230h1v1.3h-1zM366.93,254.66h1v1.5h-1zM378.07,257.51h1.2v1.5h-1.2zM460.21,241.72h1v1.5h-1zM332.54,204.11h1v2.4h-1zM312.33,178.67h1v1.5h-1zM337.43,309.14h1v1.2h-1zM285.54,186.69h1v1.5h-1zM440.78,208.96h1v1.5h-1zM353.67,196.33h1v1.2h-1zM370.83,259.17h1.2v2.4h-1.2zM137.88,247.69h1v1h-1zM150.83,210.38h1.2v1.8h-1.2zM179.33,228.02h1v1.5h-1zM272.75,238.83h1v1h-1zM445.19,202.8h1v1.3h-1zM295.36,265.64h1.2v1h-1.2zM478.01,197.84h1v2.4h-1zM335.16,180.9h1.2v1h-1.2zM195.5,199.34h1v1.8h-1zM283.08,182.29h1.2v1.8h-1.2zM247.15,186.7h1v1h-1zM102.18,219.42h1.2v1h-1.2zM507.65,231.32h1.2v1.3h-1.2zM175.72,253.06h1v1.3h-1zM532.35,246.6h1.2v2.4h-1.2zM503.05,230.57h1v2.4h-1zM392.56,257.54h1v2.4h-1zM150.62,252.8h1v1.2h-1zM167.74,228.03h1v1.2h-1zM403.15,203.71h1v1.3h-1zM414.72,216.26h1v1h-1zM261.67,182.59h1v1.2h-1zM200.19,200.16h1v1h-1zM376.18,193.65h1v1.3h-1zM282.72,247.5h1v1.3h-1zM134.52,211.5h1v1h-1zM234.63,293.65h1v1h-1zM336.64,278.14h1v2.4h-1zM365.04,168.58h1v1.2h-1zM284.56,187.67h1.2v1.5h-1.2zM421.53,287.06h1v1.3h-1zM359.68,215.16h1v1.5h-1zM278.3,231.98h1.2v1.5h-1.2zM411.77,237.11h1v1.5h-1zM341.72,273.92h1.2v1.3h-1.2zM354.44,197.49h1v1.3h-1zM364.04,217.58h1v1.8h-1zM281.3,255.55h1v1.2h-1zM354.93,244.72h1v1.2h-1zM364.16,304.11h1v1.5h-1zM521.93,253.28h1v1h-1zM442.98,202.49h1.2v1.2h-1.2zM254.05,204.96h1.2v1.5h-1.2zM235.99,277.88h1v1h-1zM377.09,301.14h1v1.3h-1zM363.66,232.42h1v1h-1zM463.33,269.41h1.2v1.3h-1.2zM431.09,200h1v1h-1zM435.07,261.79h1.2v1.3h-1.2zM226.99,276.02h1v1.8h-1zM257.54,265.2h1v1h-1zM326.34,300.53h1v1h-1zM455.74,242.23h1v1.3h-1zM468.35,274.25h1v1.3h-1zM235.4,213.9h1.2v1.8h-1.2zM295.2,234.58h1v1h-1zM444.86,192.01h1.2v1.5h-1.2zM525.75,245.19h1v1.8h-1zM299.67,252.38h1v1h-1zM231.45,201.05h1v1h-1zM201.91,224.17h1.2v1h-1.2zM265.08,260.8h1v1.3h-1zM254.71,216.62h1.2v1.3h-1.2zM351.85,272.02h1v1h-1zM374.19,270.23h1v1.3h-1zM106.32,217.64h1v1.2h-1zM309.66,301.04h1.2v1.2h-1.2zM400.95,300.93h1v2.4h-1zM399.06,281.1h1.2v1.5h-1.2zM279.07,263.18h1.2v1.2h-1.2zM565.15,265.48h1.2v1h-1.2zM276.97,242.88h1v2.4h-1zM537.69,265.72h1.2v1h-1.2zM366.59,201.76h1.2v1.3h-1.2zM361.98,197.07h1v1.2h-1zM358.8,214.07h1.2v1h-1.2zM411.41,171.13h1.2v1.2h-1.2zM382.02,233.17h1.2v1.5h-1.2zM271.84,304.53h1v2.4h-1zM517.89,262.19h1v1h-1zM238.6,244.85h1v1h-1zM288.22,214.26h1.2v2.4h-1.2zM495.34,277.71h1v1.2h-1zM276.77,194.64h1v1h-1zM499.22,220.53h1v1.2h-1zM236.38,301.37h1v2.4h-1zM364.99,255.45h1v1.8h-1zM374.6,182.41h1v1.8h-1zM346.28,227.82h1v1.5h-1zM195,224.96h1v1.5h-1zM504.39,271.02h1v1.2h-1zM257.3,316.38h1v1.2h-1zM311.65,319.12h1v1.2h-1zM355.1,259.3h1v1h-1zM268.23,298.95h1v1h-1zM289.2,281.56h1.2v1h-1.2zM262.06,290.12h1v1.2h-1zM300.96,200.49h1.2v1.3h-1.2zM286.66,286.42h1.2v1h-1.2zM342.8,198.39h1v1.3h-1zM284.95,331.54h1v1h-1zM297.27,227.94h1v1.5h-1zM519.21,239.26h1v2.4h-1zM514.95,269.75h1.2v2.4h-1.2z" fill="#ef5a3a" fill-opacity="0.496"/>
<path d="M91.6,211.41 L92.05,209.85 L92.5,214.99 L92.95,204.39 L93.4,213.14 L93.85,213.7 L94.3,213.68 L94.75,215.17 L95.2,211.96 L95.65,215.26 L96.1,209.47 L96.55,206.94 L97,214.57 L97.45,215.58 L97.9,215.81 L98.35,214.87 L98.8,213.67 L99.25,212.31 L99.7,215.17 L100.15,213.01 L100.6,215.54 L101.05,215.22 L101.5,216.08 L101.95,214.82 L102.4,216.2 L102.85,214.62 L103.3,208.74 L103.75,215.76 L104.21,216.44 L104.66,215.29 L105.11,211.63 L105.56,215.49 L106.01,215.4 L106.46,215.02 L106.91,216.04 L107.36,213.3 L107.81,210.92 L108.26,210.88 L108.71,215.93 L109.16,207.49 L109.61,215.14 L110.06,216.66 L110.51,214.2 L110.96,213.66 L111.41,216.08 L111.86,211.55 L112.31,211.54 L112.76,213.92 L113.21,212.76 L113.66,207.62 L114.11,211.47 L114.56,208.32 L115.01,210.36 L115.46,212.32 L115.91,215.31 L116.36,211.5 L116.81,215.4 L117.26,215.02 L117.71,212.38 L118.16,216.35 L118.61,214.3 L119.06,206.85 L119.51,214.35 L119.96,216.6 L120.41,215.91 L120.86,217.57 L121.31,215.07 L121.76,217.25 L122.21,215.75 L122.66,217.84 L123.11,216.18 L123.56,216.43 L124.01,215.98 L124.46,216.47 L124.91,215.74 L125.36,216.67 L125.81,217.2 L126.26,217.14 L126.71,217.13 L127.16,213.43 L127.61,218.51 L128.06,217.24 L128.52,218.78 L128.97,214.65 L129.42,218.54 L129.87,218.58 L130.32,218.48 L130.77,216.74 L131.22,218.78 L131.67,218.67 L132.12,211.66 L132.57,214.82 L133.02,219.32 L133.47,218.82 L133.92,216.45 L134.37,214.67 L134.82,217.49 L135.27,217.03 L135.72,218.79 L136.17,212.54 L136.62,218.9 L137.07,218.98 L137.52,212.73 L137.97,217.53 L138.42,215.67 L138.87,214.97 L139.32,214.44 L139.77,212.44 L140.22,207.92 L140.67,209.87 L141.12,206.36 L141.57,206.99 L142.02,209.23 L142.47,210.92 L142.92,206.45 L143.37,204.16 L143.82,214.12 L144.27,211.76 L144.72,211.86 L145.17,215.21 L145.62,216.72 L146.07,215.42 L146.52,216.6 L146.97,218.72 L147.42,216.76 L147.87,220.11 L148.32,220.77 L148.77,219.6 L149.22,215.85 L149.67,217.11 L150.12,219.47 L150.57,220.49 L151.02,218.36 L151.47,220.02 L151.92,220.7 L152.37,220.92 L152.82,220.28 L153.28,220.85 L153.73,220.75 L154.18,221.14 L154.63,220.8 L155.08,218.92 L155.53,219.15 L155.98,221.46 L156.43,220.06 L156.88,221.51 L157.33,218.91 L157.78,220.77 L158.23,218.11 L158.68,218.5 L159.13,218.05 L159.58,220.95 L160.03,220.81 L160.48,222.07 L160.93,218.92 L161.38,218.2 L161.83,219.6 L162.28,222.02 L162.73,221.22 L163.18,220.4 L163.63,221 L164.08,222.03 L164.53,221.89 L164.98,222.36 L165.43,220.98 L165.88,222.57 L166.33,222.35 L166.78,218.94 L167.23,216.86 L167.68,221.84 L168.13,221.99 L168.58,218.27 L169.03,222.13 L169.48,222.13 L169.93,219.94 L170.38,221.13 L170.83,221.28 L171.28,221.89 L171.73,219.91 L172.18,221.85 L172.63,220.76 L173.08,223.42 L173.53,221.04 L173.98,219.01 L174.43,222.91 L174.88,223.26 L175.33,222.02 L175.78,221.52 L176.23,221.93 L176.68,221.15 L177.13,223.07 L177.59,221.37 L178.04,216.87 L178.49,220.45 L178.94,223.62 L179.39,221.78 L179.84,223.12 L180.29,223.76 L180.74,221.57 L181.19,222.69 L181.64,220.6 L182.09,221.36 L182.54,220.39 L182.99,221.86 L183.44,224.46 L183.89,224.3 L184.34,222.73 L184.79,209.1 L185.24,222.01 L185.69,223.68 L186.14,216.89 L186.59,223.78 L187.04,220.73 L187.49,224.63 L187.94,224.55 L188.39,222.86 L188.84,224.85 L189.29,224.65 L189.74,223.44 L190.19,221.4 L190.64,222.72 L191.09,223.85 L191.54,214.38 L191.99,225.27 L192.44,225.11 L192.89,222.98 L193.34,223.51 L193.79,219.64 L194.24,220.29 L194.69,224.98 L195.14,225.2 L195.59,224.27 L196.04,219.37 L196.49,224.73 L196.94,225.1 L197.39,225.05 L197.84,222.13 L198.29,220.09 L198.74,221.97 L199.19,216.66 L199.64,225.86 L200.09,224.81 L200.54,225.95 L200.99,225.08 L201.44,226.26 L201.89,224.87 L202.35,225.83 L202.8,224.59 L203.25,224.78 L203.7,224.15 L204.15,223.8 L204.6,223.7 L205.05,226.53 L205.5,218.73 L205.95,226.63 L206.4,223.71 L206.85,222.9 L207.3,224.79 L207.75,224.54 L208.2,226.44 L208.65,226.32 L209.1,225.24 L209.55,221.96 L210,221.98 L210.45,224.61 L210.9,223.33 L211.35,220.74 L211.8,212.49 L212.25,221.36 L212.7,223.7 L213.15,218.63 L213.6,221.1 L214.05,221.57 L214.5,227.36 L214.95,227.25 L215.4,217.17 L215.85,220.48 L216.3,224.07 L216.75,226.82 L217.2,224.74 L217.65,221.97 L218.1,227.94 L218.55,226.88 L219,227.91 L219.45,226.45 L219.9,226.59 L220.35,226.9 L220.8,223.28 L221.25,227.71 L221.7,227.15 L222.15,227.85 L222.6,227.99 L223.05,227.79 L223.5,228.28 L223.95,221.05 L224.4,228.13 L224.85,228.6 L225.3,228.34 L225.75,227.29 L226.2,227.2 L226.66,221.53 L227.11,225.04 L227.56,227.48 L228.01,227.68 L228.46,228.94 L228.91,228.9 L229.36,219.28 L229.81,228.58 L230.26,228.78 L230.71,227.55 L231.16,229.09 L231.61,223.78 L232.06,228.09 L232.51,225.35 L232.96,228.26 L233.41,228.74 L233.86,229.36 L234.31,227.29 L234.76,220.76 L235.21,225.16 L235.66,228.07 L236.11,229.34 L236.56,228.55 L237.01,226.76 L237.46,227.26 L237.91,228.9 L238.36,228.84 L238.81,229.14 L239.26,227.32 L239.71,229.81 L240.16,227.86 L240.61,228.95 L241.06,228.14 L241.51,226.56 L241.96,230.04 L242.41,228.01 L242.86,226.17 L243.31,229.89 L243.76,227.91 L244.21,218.11 L244.66,229.39 L245.11,229.96 L245.56,226.28 L246.01,230.58 L246.46,227.9 L246.91,230.76 L247.36,229.18 L247.81,230.43 L248.26,230.73 L248.71,230.16 L249.16,229.4 L249.61,225.28 L250.06,229.62 L250.51,231.09 L250.96,230.34 L251.42,229.78 L251.87,231.3 L252.32,230.22 L252.77,230.64 L253.22,226.9 L253.67,227.55 L254.12,231.3 L254.57,227.67 L255.02,228.71 L255.47,227.85 L255.92,231.09 L256.37,231.55 L256.82,231.06 L257.27,231.45 L257.72,230.6 L258.17,225.93 L258.62,230.8 L259.07,231.31 L259.52,228.37 L259.97,221.89 L260.42,228.29 L260.87,227.74 L261.32,231.26 L261.77,230.53 L262.22,231.46 L262.67,231.56 L263.12,231.06 L263.57,230.46 L264.02,228.4 L264.47,230.69 L264.92,227.56 L265.37,232.37 L265.82,231.67 L266.27,229.78 L266.72,232.5 L267.17,230.7 L267.62,232.71 L268.07,232.7 L268.52,230.68 L268.97,231.94 L269.42,229.16 L269.87,231.8 L270.32,231.91 L270.77,231.03 L271.22,231.91 L271.67,228.81 L272.12,231.14 L272.57,224.71 L273.02,233.08 L273.47,233.54 L273.92,233.5 L274.37,231.42 L274.82,232.5 L275.27,232.57 L275.73,228.99 L276.18,232.68 L276.63,233.08 L277.08,231.99 L277.53,233.61 L277.98,233.38 L278.43,233.54 L278.88,232.54 L279.33,230.57 L279.78,232.9 L280.23,233.6 L280.68,229.78 L281.13,227.76 L281.58,229.95 L282.03,232.75 L282.48,231 L282.93,233.21 L283.38,232.85 L283.83,231.29 L284.28,229.4 L284.73,231.51 L285.18,224.2 L285.63,233.78 L286.08,233.56 L286.53,233.53 L286.98,234.84 L287.43,234.06 L287.88,234.95 L288.33,234.59 L288.78,234.49 L289.23,232.03 L289.68,232.91 L290.13,229.82 L290.58,234.8 L291.03,233.51 L291.48,233.28 L291.93,235.38 L292.38,234.95 L292.83,235.33 L293.28,234.4 L293.73,232.17 L294.18,234.81 L294.63,234.29 L295.08,233.1 L295.53,228.72 L295.98,234.8 L296.43,233.65 L296.88,233.67 L297.33,229.98 L297.78,235.05 L298.23,235.95 L298.68,232.75 L299.13,230.36 L299.58,230.44 L300.03,235.41 L300.49,234.87 L300.94,234.29 L301.39,231.77 L301.84,229.56 L302.29,235.81 L302.74,234.94 L303.19,230.09 L303.64,230.27 L304.09,234.29 L304.54,236.64 L304.99,236.26 L305.44,236.67 L305.89,233.85 L306.34,233.92 L306.79,235.32 L307.24,236.44 L307.69,233.82 L308.14,236.68 L308.59,235.66 L309.04,234.94 L309.49,236.53 L309.94,237.01 L310.39,236.21 L310.84,233.22 L311.29,236.7 L311.74,232.46 L312.19,233.64 L312.64,237.08 L313.09,236.11 L313.54,237.08 L313.99,237.46 L314.44,237.04 L314.89,235.61 L315.34,235.81 L315.79,236.69 L316.24,235.38 L316.69,235.43 L317.14,237.4 L317.59,237.62 L318.04,231.04 L318.49,235.99 L318.94,236.95 L319.39,237.92 L319.84,232.17 L320.29,237.37 L320.74,237.98 L321.19,235.13 L321.64,233.9 L322.09,238.06 L322.54,237.62 L322.99,238.04 L323.44,237.35 L323.89,238.3 L324.34,238.46 L324.8,237.6 L325.25,236.55 L325.7,236.69 L326.15,238.63 L326.6,237.2 L327.05,238.39 L327.5,237.44 L327.95,236.39 L328.4,230.99 L328.85,235.81 L329.3,236.21 L329.75,237.93 L330.2,228.82 L330.65,231.58 L331.1,233.03 L331.55,235.89 L332,237.29 L332.45,238.31 L332.9,239.03 L333.35,233.17 L333.8,236.24 L334.25,233.58 L334.7,237.95 L335.15,238.78 L335.6,234.11 L336.05,236.44 L336.5,234.43 L336.95,238.93 L337.4,239.77 L337.85,232.92 L338.3,239.38 L338.75,237.62 L339.2,233.55 L339.65,236.69 L340.1,239 L340.55,239.32 L341,239.43 L341.45,240.38 L341.9,237.18 L342.35,240.26 L342.8,239.96 L343.25,231.87 L343.7,239.52 L344.15,234.3 L344.6,230.99 L345.05,234.5 L345.5,236.81 L345.95,238.42 L346.4,238.14 L346.85,236.21 L347.3,233.5 L347.75,237.02 L348.2,238.31 L348.65,239.47 L349.1,229.94 L349.56,239.42 L350.01,236.74 L350.46,236.35 L350.91,241.15 L351.36,237.77 L351.81,238.76 L352.26,240.69 L352.71,239.73 L353.16,236.45 L353.61,239.87 L354.06,239.47 L354.51,239.19 L354.96,241.72 L355.41,240.71 L355.86,239.31 L356.31,237.89 L356.76,240.57 L357.21,230.96 L357.66,241.89 L358.11,238.8 L358.56,238.61 L359.01,239.9 L359.46,241.39 L359.91,240.34 L360.36,234.07 L360.81,240.32 L361.26,242.25 L361.71,240.73 L362.16,241.64 L362.61,242.18 L363.06,241.53 L363.51,242.1 L363.96,242.64 L364.41,240.67 L364.86,241.89 L365.31,238.67 L365.76,240.8 L366.21,241.84 L366.66,236.2 L367.11,240.78 L367.56,242.48 L368.01,240.92 L368.46,241.82 L368.91,242.94 L369.36,240.83 L369.81,237.21 L370.26,241.48 L370.71,243.21 L371.16,241.37 L371.61,242.51 L372.06,242.22 L372.51,243.53 L372.96,237.47 L373.41,243.62 L373.87,239.69 L374.32,241.25 L374.77,243.12 L375.22,241.78 L375.67,242.76 L376.12,239.77 L376.57,243.41 L377.02,243.63 L377.47,243.01 L377.92,240.76 L378.37,238.99 L378.82,236.81 L379.27,241.84 L379.72,243.8 L380.17,243.53 L380.62,243.72 L381.07,241.38 L381.52,243.88 L381.97,240.72 L382.42,240.69 L382.87,243.29 L383.32,241.56 L383.77,239.1 L384.22,241.2 L384.67,243.55 L385.12,243.15 L385.57,243.98 L386.02,243.12 L386.47,243.14 L386.92,238.87 L387.37,242.92 L387.82,244.56 L388.27,243.31 L388.72,243.46 L389.17,242.32 L389.62,243.14 L390.07,242.96 L390.52,243.03 L390.97,244.6 L391.42,244.39 L391.87,240.66 L392.32,241.89 L392.77,245.1 L393.22,245.42 L393.67,242.57 L394.12,245.04 L394.57,244.58 L395.02,245.28 L395.47,245.25 L395.92,244.95 L396.37,241.2 L396.82,243.39 L397.27,244.03 L397.72,243.5 L398.17,245.13 L398.63,241.69 L399.08,243.42 L399.53,243.64 L399.98,239.16 L400.43,244.26 L400.88,245.01 L401.33,243.77 L401.78,238.15 L402.23,245.44 L402.68,243.19 L403.13,243.65 L403.58,242.39 L404.03,245.27 L404.48,246.57 L404.93,241.36 L405.38,240.06 L405.83,243.66 L406.28,242.59 L406.73,246.84 L407.18,246.28 L407.63,245.5 L408.08,245.4 L408.53,246.78 L408.98,244.49 L409.43,247.21 L409.88,242.07 L410.33,246.92 L410.78,245.76 L411.23,244.91 L411.68,246.12 L412.13,247.04 L412.58,245.44 L413.03,246.61 L413.48,247.57 L413.93,247.32 L414.38,242.56 L414.83,245.09 L415.28,246.88 L415.73,246.23 L416.18,247.38 L416.63,247.35 L417.08,247.88 L417.53,241.35 L417.98,246.69 L418.43,239.51 L418.88,246.66 L419.33,247.93 L419.78,247.83 L420.23,247.26 L420.68,245.83 L421.13,245.69 L421.58,246.97 L422.03,247.18 L422.48,244.06 L422.94,242.05 L423.39,248.54 L423.84,244.29 L424.29,246.39 L424.74,242.52 L425.19,247.44 L425.64,247.61 L426.09,248.69 L426.54,248.39 L426.99,247.74 L427.44,243.64 L427.89,245.46 L428.34,246.88 L428.79,248.35 L429.24,247.23 L429.69,249.22 L430.14,247.91 L430.59,245.17 L431.04,249.43 L431.49,249.22 L431.94,248.86 L432.39,246.81 L432.84,248.54 L433.29,244.22 L433.74,249.59 L434.19,249.35 L434.64,248.3 L435.09,248.03 L435.54,240.88 L435.99,247.76 L436.44,235.99 L436.89,248.72 L437.34,246.97 L437.79,248.62 L438.24,249.84 L438.69,249.39 L439.14,242.24 L439.59,244.45 L440.04,249.36 L440.49,249.35 L440.94,248.86 L441.39,249.42 L441.84,242.96 L442.29,250.42 L442.74,249.83 L443.19,249.87 L443.64,247.89 L444.09,246.44 L444.54,249.07 L444.99,250.34 L445.44,249.19 L445.89,249.08 L446.34,248.53 L446.79,248.11 L447.24,243.65 L447.7,248.28 L448.15,247.71 L448.6,243.51 L449.05,247.93 L449.5,251.12 L449.95,246.05 L450.4,247.19 L450.85,250.79 L451.3,251.21 L451.75,247.26 L452.2,247.14 L452.65,251.39 L453.1,249.37 L453.55,239.22 L454,250.45 L454.45,250.72 L454.9,251.05 L455.35,244.49 L455.8,247.69 L456.25,250.7 L456.7,249.33 L457.15,251.73 L457.6,251.26 L458.05,247.19 L458.5,251.18 L458.95,249.05 L459.4,249.92 L459.85,249.31 L460.3,252.3 L460.75,251.81 L461.2,251.94 L461.65,252.02 L462.1,251.72 L462.55,251.2 L463,249.62 L463.45,252.64 L463.9,250.28 L464.35,252.25 L464.8,250.72 L465.25,251.23 L465.7,250.09 L466.15,250.27 L466.6,251.59 L467.05,247.67 L467.5,252.86 L467.95,249.68 L468.4,252.68 L468.85,250.05 L469.3,248.23 L469.75,249.32 L470.2,251.03 L470.65,250.74 L471.1,253.1 L471.55,251.25 L472.01,252.22 L472.46,246.39 L472.91,251.33 L473.36,252.99 L473.81,249.99 L474.26,251.77 L474.71,249.8 L475.16,251.27 L475.61,251.53 L476.06,252.41 L476.51,253.54 L476.96,248.16 L477.41,252.36 L477.86,252.24 L478.31,254.17 L478.76,254.06 L479.21,253.85 L479.66,252.37 L480.11,251.84 L480.56,252.9 L481.01,250 L481.46,252.98 L481.91,249.99 L482.36,254.17 L482.81,254.43 L483.26,249.39 L483.71,252.81 L484.16,252.83 L484.61,253.51 L485.06,253.56 L485.51,253.19 L485.96,254.15 L486.41,250.84 L486.86,244.88 L487.31,252.22 L487.76,248.55 L488.21,252.19 L488.66,252.73 L489.11,253.32 L489.56,254.7 L490.01,255.22 L490.46,254.76 L490.91,252.12 L491.36,249.8 L491.81,255.25 L492.26,254.72 L492.71,255.47 L493.16,247.21 L493.61,254.6 L494.06,252.41 L494.51,252.59 L494.96,251.56 L495.41,255.89 L495.86,255.85 L496.31,255.05 L496.77,255.16 L497.22,253.36 L497.67,253.19 L498.12,255.65 L498.57,255.12 L499.02,253.46 L499.47,255.94 L499.92,253.04 L500.37,256.27 L500.82,254.53 L501.27,255.88 L501.72,255.2 L502.17,256.34 L502.62,255.76 L503.07,255.62 L503.52,256.52 L503.97,256.53 L504.42,245.79 L504.87,255.23 L505.32,256.89 L505.77,254.35 L506.22,255.73 L506.67,255.7 L507.12,256.43 L507.57,253.61 L508.02,257.05 L508.47,256.14 L508.92,256.58 L509.37,257.12 L509.82,256.24 L510.27,251.08 L510.72,255.1 L511.17,256.35 L511.62,254.98 L512.07,257.58 L512.52,255.89 L512.97,256.52 L513.42,254.36 L513.87,250.65 L514.32,256.65 L514.77,257.83 L515.22,254.49 L515.67,256.73 L516.12,257.58 L516.57,256.98 L517.02,251.97 L517.47,256.34 L517.92,257.84 L518.37,256.77 L518.82,257.7 L519.27,253.56 L519.72,253.28 L520.17,250.28 L520.62,254.09 L521.08,252.88 L521.53,256.47 L521.98,258.37 L522.43,256.6 L522.88,257.23 L523.33,256.94 L523.78,257.08 L524.23,253.12 L524.68,257.77 L525.13,258.91 L525.58,257.03 L526.03,258.15 L526.48,254.13 L526.93,256.83 L527.38,257.84 L527.83,257.28 L528.28,258.44 L528.73,257.82 L529.18,257.62 L529.63,254.84 L530.08,258.8 L530.53,255.01 L530.98,257.07 L531.43,259 L531.88,259.21 L532.33,259.52 L532.78,255.08 L533.23,258.91 L533.68,250.39 L534.13,259.4 L534.58,256.08 L535.03,258.34 L535.48,259.13 L535.93,257.49 L536.38,257.07 L536.83,256.85 L537.28,259.52 L537.73,259.17 L538.18,259.25 L538.63,259.24 L539.08,257.84 L539.53,260.28 L539.98,254.57 L540.43,259.36 L540.88,260.52 L541.33,260.3 L541.78,258.96 L542.23,259.33 L542.68,259.04 L543.13,259.25 L543.58,258.32 L544.03,258.44 L544.48,254.53 L544.93,260.35 L545.38,256.57 L545.84,260.91 L546.29,261.05 L546.74,261.08 L547.19,259.82 L547.64,260.15 L548.09,260.36 L548.54,257.16 L548.99,259.94 L549.44,254.66 L549.89,257.48 L550.34,260.5 L550.79,255.49 L551.24,260.02 L551.69,260.59 L552.14,258.49 L552.59,261.55 L553.04,261.79 L553.49,260 L553.94,260.75 L554.39,259.6 L554.84,259.39 L555.29,261.87 L555.74,261.09 L556.19,261.14 L556.64,261.77 L557.09,261.13 L557.54,260.11 L557.99,262.98 L558.44,262.69 L558.89,262.12 L559.34,258.38 L559.79,261.9 L560.24,262.37 L560.69,263.13 L561.14,261.74 L561.59,262.05 L562.04,263.73 L562.49,261.95 L562.94,261.15 L563.39,263.44 L563.84,261.65 L564.29,263.15 L564.74,263.4 L565.19,264.19 L565.64,262.32 L566.09,263.46 L566.54,264.2 L566.99,260.88 L567.44,260.52 L567.89,264.34 L568.34,264.59 L568.79,263.63 L569.24,262.04 L569.69,264.92 L570.15,264.38 L570.6,262.89 L571.05,265.05 L571.5,264.09 L571.95,265.33 L572.4,262.91 L572.85,265.35 L573.3,264.62 L573.75,265.23 L574.2,264.9 L574.65,264.85 L575.1,265.43 L575.55,265.73 L576,262.41 L576.45,265.88 L576.9,259.81 L577.35,264.39 L577.8,263.74 L578.25,265.33 L578.7,263.59 L579.15,263.87 L579.6,266.51 L580.05,263.75 L580.5,266.85 L580.95,264.67 L581.4,267.12 L581.85,266.02 L582.3,266.95 L581.4,270.01 L579.6,269.82 L577.8,269.63 L576,269.45 L574.2,269.26 L572.4,269.08 L570.6,268.89 L568.79,268.7 L566.99,268.52 L565.19,268.33 L563.39,268.15 L561.59,267.96 L559.79,267.77 L557.99,267.59 L556.19,267.4 L554.39,267.22 L552.59,267.03 L550.79,266.84 L548.99,266.66 L547.19,266.47 L545.38,266.29 L543.58,266.1 L541.78,265.91 L539.98,265.73 L538.18,265.54 L536.38,265.36 L534.58,265.17 L532.78,264.98 L530.98,264.8 L529.18,264.61 L527.38,264.43 L525.58,264.24 L523.78,264.05 L521.98,263.87 L520.17,263.68 L518.37,263.5 L516.57,263.31 L514.77,263.12 L512.97,262.94 L511.17,262.75 L509.37,262.56 L507.57,262.38 L505.77,262.19 L503.97,262.01 L502.17,261.82 L500.37,261.63 L498.57,261.45 L496.77,261.26 L494.96,261.08 L493.16,260.89 L491.36,260.7 L489.56,260.52 L487.76,260.33 L485.96,260.15 L484.16,259.96 L482.36,259.77 L480.56,259.59 L478.76,259.4 L476.96,259.22 L475.16,259.03 L473.36,258.84 L471.55,258.66 L469.75,258.47 L467.95,258.29 L466.15,258.1 L464.35,257.91 L462.55,257.73 L460.75,257.54 L458.95,257.36 L457.15,257.17 L455.35,256.98 L453.55,256.8 L451.75,256.61 L449.95,256.42 L448.15,256.24 L446.34,256.05 L444.54,255.87 L442.74,255.68 L440.94,255.49 L439.14,255.31 L437.34,255.12 L435.54,254.94 L433.74,254.75 L431.94,254.56 L430.14,254.38 L428.34,254.19 L426.54,254.01 L424.74,253.82 L422.94,253.63 L421.13,253.45 L419.33,253.26 L417.53,253.08 L415.73,252.89 L413.93,252.7 L412.13,252.52 L410.33,252.33 L408.53,252.15 L406.73,251.96 L404.93,251.77 L403.13,251.59 L401.33,251.4 L399.53,251.22 L397.72,251.03 L395.92,250.84 L394.12,250.66 L392.32,250.47 L390.52,250.29 L388.72,250.1 L386.92,249.91 L385.12,249.73 L383.32,249.54 L381.52,249.35 L379.72,249.17 L377.92,248.98 L376.12,248.8 L374.32,248.61 L372.51,248.42 L370.71,248.24 L368.91,248.05 L367.11,247.87 L365.31,247.68 L363.51,247.49 L361.71,247.31 L359.91,247.12 L358.11,246.94 L356.31,246.75 L354.51,246.56 L352.71,246.38 L350.91,246.19 L349.1,246.01 L347.3,245.82 L345.5,245.63 L343.7,245.45 L341.9,245.26 L340.1,245.08 L338.3,244.89 L336.5,244.7 L334.7,244.52 L332.9,244.33 L331.1,244.15 L329.3,243.96 L327.5,243.77 L325.7,243.59 L323.89,243.4 L322.09,243.22 L320.29,243.03 L318.49,242.84 L316.69,242.66 L314.89,242.47 L313.09,242.28 L311.29,242.1 L309.49,241.91 L307.69,241.73 L305.89,241.54 L304.09,241.35 L302.29,241.17 L300.49,240.98 L298.68,240.8 L296.88,240.61 L295.08,240.42 L293.28,240.24 L291.48,240.05 L289.68,239.87 L287.88,239.68 L286.08,239.49 L284.28,239.31 L282.48,239.12 L280.68,238.94 L278.88,238.75 L277.08,238.56 L275.27,238.38 L273.47,238.19 L271.67,238.01 L269.87,237.82 L268.07,237.63 L266.27,237.45 L264.47,237.26 L262.67,237.08 L260.87,236.89 L259.07,236.7 L257.27,236.52 L255.47,236.33 L253.67,236.14 L251.87,235.96 L250.06,235.77 L248.26,235.59 L246.46,235.4 L244.66,235.21 L242.86,235.03 L241.06,234.84 L239.26,234.66 L237.46,234.47 L235.66,234.28 L233.86,234.1 L232.06,233.91 L230.26,233.73 L228.46,233.54 L226.66,233.35 L224.85,233.17 L223.05,232.98 L221.25,232.8 L219.45,232.61 L217.65,232.42 L215.85,232.24 L214.05,232.05 L212.25,231.87 L210.45,231.68 L208.65,231.49 L206.85,231.31 L205.05,231.12 L203.25,230.94 L201.44,230.75 L199.64,230.56 L197.84,230.38 L196.04,230.19 L194.24,230.01 L192.44,229.82 L190.64,229.63 L188.84,229.45 L187.04,229.26 L185.24,229.07 L183.44,228.89 L181.64,228.7 L179.84,228.52 L178.04,228.33 L176.23,228.14 L174.43,227.96 L172.63,227.77 L170.83,227.59 L169.03,227.4 L167.23,227.21 L165.43,227.03 L163.63,226.84 L161.83,226.66 L160.03,226.47 L158.23,226.28 L156.43,226.1 L154.63,225.91 L152.82,225.73 L151.02,225.54 L149.22,225.35 L147.42,225.17 L145.62,224.98 L143.82,224.8 L142.02,224.61 L140.22,224.42 L138.42,224.24 L136.62,224.05 L134.82,223.87 L133.02,223.68 L131.22,223.49 L129.42,223.31 L127.61,223.12 L125.81,222.94 L124.01,222.75 L122.21,222.56 L120.41,222.38 L118.61,222.19 L116.81,222 L115.01,221.82 L113.21,221.63 L111.41,221.45 L109.61,221.26 L107.81,221.07 L106.01,220.89 L104.21,220.7 L102.4,220.52 L100.6,220.33 L98.8,220.14 L97,219.96 L95.2,219.77 L93.4,219.59 L91.6,219.4Z" fill="#e0301c"/>
<path d="M101.5,218.11V210.08M106.91,218.66V210.37M111.41,219.11V209.82M134.82,221.49V212.8M135.27,221.54V206.03M139.77,222V205.21M151.47,223.19V211.3M164.08,224.47V212.84M183.44,226.44V219.64M187.49,226.85V213.35M191.09,227.22V218.1M226.66,230.83V216.37M229.36,231.11V209.3M236.56,231.84V220.63M251.42,233.35V224.9M272.57,235.5V212.12M274.37,235.69V221.37M275.27,235.78V225.93M278.43,236.1V219.09M279.78,236.24V224.28M286.98,236.97V225.48M290.58,237.33V223.66M295.98,237.88V221.64M298.68,238.16V219.6M304.54,238.75V228.56M305.44,238.85V229.95M320.29,240.36V225.56M349.56,243.33V231.86M351.36,243.51V228.34M354.06,243.79V225.11M368.91,245.3V236.37M373.41,245.76V235.6M394.12,247.86V236.7M398.63,248.32V230.47M408.53,249.33V239.4M424.29,250.93V242.01M437.34,252.26V235.28M438.24,252.35V239.92M440.49,252.58V240.65M450.4,253.59V238.51M459.4,254.5V244.36M476.96,256.29V234.69M486.86,257.29V231.32M533.23,262.01V250M540.88,262.79V254.55M566.09,265.35V248.74" stroke="#e0301c" stroke-width="0.8" stroke-opacity="0.5" fill="none"/>
<text x="89.6" y="232.9" font-size="12" text-anchor="end" textLength="7.35" lengthAdjust="spacingAndGlyphs" fill="#1a1a1a" stroke="#1a1a1a" stroke-width="0.22">0</text>
<text x="117.68" y="251.3" font-size="12" text-anchor="end" textLength="29.4" lengthAdjust="spacingAndGlyphs" fill="#1a1a1a" stroke="#1a1a1a" stroke-width="0.22">2000</text>
<text x="145.76" y="269.7" font-size="12" text-anchor="end" textLength="29.4" lengthAdjust="spacingAndGlyphs" fill="#1a1a1a" stroke="#1a1a1a" stroke-width="0.22">4000</text>
<text x="173.84" y="288.1" font-size="12" text-anchor="end" textLength="29.4" lengthAdjust="spacingAndGlyphs" fill="#1a1a1a" stroke="#1a1a1a" stroke-width="0.22">6000</text>
<text x="201.92" y="306.5" font-size="12" text-anchor="end" textLength="29.4" lengthAdjust="spacingAndGlyphs" fill="#1a1a1a" stroke="#1a1a1a" stroke-width="0.22">8000</text>
<text x="230" y="324.9" font-size="12" text-anchor="end" textLength="36.75" lengthAdjust="spacingAndGlyphs" fill="#1a1a1a" stroke="#1a1a1a" stroke-width="0.22">10000</text>
<text x="258.08" y="343.3" font-size="12" text-anchor="end" textLength="36.75" lengthAdjust="spacingAndGlyphs" fill="#1a1a1a" stroke="#1a1a1a" stroke-width="0.22">12000</text>
<text x="287.7" y="351.6" font-size="12" text-anchor="middle" textLength="7.35" lengthAdjust="spacingAndGlyphs" fill="#1a1a1a" stroke="#1a1a1a" stroke-width="0.22">0</text>
<text x="336.4" y="341.13" font-size="12" text-anchor="middle" textLength="29.4" lengthAdjust="spacingAndGlyphs" fill="#1a1a1a" stroke="#1a1a1a" stroke-width="0.22">2000</text>
<text x="385.1" y="330.66" font-size="12" text-anchor="middle" textLength="29.4" lengthAdjust="spacingAndGlyphs" fill="#1a1a1a" stroke="#1a1a1a" stroke-width="0.22">4000</text>
<text x="433.8" y="320.19" font-size="12" text-anchor="middle" textLength="29.4" lengthAdjust="spacingAndGlyphs" fill="#1a1a1a" stroke="#1a1a1a" stroke-width="0.22">6000</text>
<text x="482.5" y="309.72" font-size="12" text-anchor="middle" textLength="29.4" lengthAdjust="spacingAndGlyphs" fill="#1a1a1a" stroke="#1a1a1a" stroke-width="0.22">8000</text>
<text x="531.2" y="299.25" font-size="12" text-anchor="middle" textLength="36.75" lengthAdjust="spacingAndGlyphs" fill="#1a1a1a" stroke="#1a1a1a" stroke-width="0.22">10000</text>
<text x="579.9" y="288.78" font-size="12" text-anchor="middle" textLength="36.75" lengthAdjust="spacingAndGlyphs" fill="#1a1a1a" stroke="#1a1a1a" stroke-width="0.22">12000</text>
<text x="78.3" y="325.3" font-size="12" textLength="74" lengthAdjust="spacingAndGlyphs" fill="#1a1a1a" stroke="#1a1a1a" stroke-width="0.22">5' end insert</text>
<text x="430" y="357.6" font-size="12" textLength="75" lengthAdjust="spacingAndGlyphs" fill="#1a1a1a" stroke="#1a1a1a" stroke-width="0.22">3' end insert</text>
<use href="#gm" transform="translate(48.8,236.5) rotate(34.9) scale(0.463)"/>
<circle cx="2.6" cy="0" r="3.4" fill="#a3a8b5" stroke="#80848e" stroke-width="0.8" transform="translate(48.8,236.5) rotate(34.9) scale(0.463)"/>
<use href="#gmt3" transform="translate(48.8,236.5) rotate(34.9) scale(0.463)"/>
<use href="#gm" transform="translate(281.3,380.2) rotate(-13.0) scale(0.627)"/>
<circle cx="2.6" cy="0" r="3.4" fill="#a3a8b5" stroke="#80848e" stroke-width="0.8" transform="translate(281.3,380.2) rotate(-13.0) scale(0.627)"/>
<use href="#gmt3" transform="translate(281.3,380.2) rotate(-13.0) scale(0.627)"/>
<path d="M268.5,336.8 L270.5,333.5 L271.5,331.5 L272.3,333 L273.2,330.5 L274.2,333.5 L276,334.8 L278,335.2 L277.5,336 L270,337.5Z" fill="#e0301c"/>
<line x1="690.3" y1="26.1" x2="690.3" y2="219.6" stroke="#b4aaaa" stroke-width="0.9"/>
<line x1="690.3" y1="219.6" x2="694.1" y2="219.6" stroke="#b4aaaa" stroke-width="0.8"/>
<text x="680.2" y="220.5" font-size="12" text-anchor="end" textLength="7.35" lengthAdjust="spacingAndGlyphs" fill="#1a1a1a" stroke="#1a1a1a" stroke-width="0.22">0</text>
<line x1="690.3" y1="200.25" x2="694.1" y2="200.25" stroke="#b4aaaa" stroke-width="0.8"/>
<text x="680.2" y="201.15" font-size="12" text-anchor="end" textLength="29.4" lengthAdjust="spacingAndGlyphs" fill="#1a1a1a" stroke="#1a1a1a" stroke-width="0.22">1000</text>
<line x1="690.3" y1="180.9" x2="694.1" y2="180.9" stroke="#b4aaaa" stroke-width="0.8"/>
<text x="680.2" y="181.8" font-size="12" text-anchor="end" textLength="29.4" lengthAdjust="spacingAndGlyphs" fill="#1a1a1a" stroke="#1a1a1a" stroke-width="0.22">2000</text>
<line x1="690.3" y1="161.55" x2="694.1" y2="161.55" stroke="#b4aaaa" stroke-width="0.8"/>
<text x="680.2" y="162.45" font-size="12" text-anchor="end" textLength="29.4" lengthAdjust="spacingAndGlyphs" fill="#1a1a1a" stroke="#1a1a1a" stroke-width="0.22">3000</text>
<line x1="690.3" y1="142.2" x2="694.1" y2="142.2" stroke="#b4aaaa" stroke-width="0.8"/>
<text x="680.2" y="143.1" font-size="12" text-anchor="end" textLength="29.4" lengthAdjust="spacingAndGlyphs" fill="#1a1a1a" stroke="#1a1a1a" stroke-width="0.22">4000</text>
<line x1="690.3" y1="122.85" x2="694.1" y2="122.85" stroke="#b4aaaa" stroke-width="0.8"/>
<text x="680.2" y="123.75" font-size="12" text-anchor="end" textLength="29.4" lengthAdjust="spacingAndGlyphs" fill="#1a1a1a" stroke="#1a1a1a" stroke-width="0.22">5000</text>
<line x1="690.3" y1="103.5" x2="694.1" y2="103.5" stroke="#b4aaaa" stroke-width="0.8"/>
<text x="680.2" y="104.4" font-size="12" text-anchor="end" textLength="29.4" lengthAdjust="spacingAndGlyphs" fill="#1a1a1a" stroke="#1a1a1a" stroke-width="0.22">6000</text>
<line x1="690.3" y1="84.15" x2="694.1" y2="84.15" stroke="#b4aaaa" stroke-width="0.8"/>
<text x="680.2" y="85.05" font-size="12" text-anchor="end" textLength="29.4" lengthAdjust="spacingAndGlyphs" fill="#1a1a1a" stroke="#1a1a1a" stroke-width="0.22">7000</text>
<line x1="690.3" y1="64.8" x2="694.1" y2="64.8" stroke="#b4aaaa" stroke-width="0.8"/>
<text x="680.2" y="65.7" font-size="12" text-anchor="end" textLength="29.4" lengthAdjust="spacingAndGlyphs" fill="#1a1a1a" stroke="#1a1a1a" stroke-width="0.22">8000</text>
<line x1="690.3" y1="45.45" x2="694.1" y2="45.45" stroke="#b4aaaa" stroke-width="0.8"/>
<text x="680.2" y="46.35" font-size="12" text-anchor="end" textLength="29.4" lengthAdjust="spacingAndGlyphs" fill="#1a1a1a" stroke="#1a1a1a" stroke-width="0.22">9000</text>
<line x1="690.3" y1="26.1" x2="694.1" y2="26.1" stroke="#b4aaaa" stroke-width="0.8"/>
<text x="680.2" y="27" font-size="12" text-anchor="end" textLength="36.75" lengthAdjust="spacingAndGlyphs" fill="#1a1a1a" stroke="#1a1a1a" stroke-width="0.22">10000</text>
<text x="605" y="99.2" font-size="12" textLength="39" lengthAdjust="spacingAndGlyphs" fill="#1a1a1a" stroke="#1a1a1a" stroke-width="0.22">counts</text>
<line x1="718.33" y1="238.15" x2="1029.39" y2="171.97" stroke="#ebeef2" stroke-width="0.6"/>
<line x1="916.27" y1="326.8" x2="738.71" y2="209.37" stroke="#ebeef2" stroke-width="0.6"/>
<line x1="746.36" y1="256.7" x2="1056.98" y2="190.15" stroke="#ebeef2" stroke-width="0.6"/>
<line x1="964.24" y1="316.2" x2="787.11" y2="199.15" stroke="#ebeef2" stroke-width="0.6"/>
<line x1="774.39" y1="275.25" x2="1084.57" y2="208.32" stroke="#ebeef2" stroke-width="0.6"/>
<line x1="1012.22" y1="305.61" x2="835.52" y2="188.92" stroke="#ebeef2" stroke-width="0.6"/>
<line x1="802.43" y1="293.8" x2="1112.16" y2="226.49" stroke="#ebeef2" stroke-width="0.6"/>
<line x1="1060.19" y1="295.01" x2="883.93" y2="178.7" stroke="#ebeef2" stroke-width="0.6"/>
<line x1="830.46" y1="312.36" x2="1139.75" y2="244.67" stroke="#ebeef2" stroke-width="0.6"/>
<line x1="1108.16" y1="284.41" x2="932.34" y2="168.47" stroke="#ebeef2" stroke-width="0.6"/>
<line x1="858.49" y1="330.91" x2="1167.34" y2="262.84" stroke="#ebeef2" stroke-width="0.6"/>
<line x1="1156.13" y1="273.81" x2="980.74" y2="158.25" stroke="#ebeef2" stroke-width="0.6"/>
<path d="M690.3,219.6 L1001.8,153.8 L1177,269.2 L868.3,337.4 Z" fill="none" stroke="#aeaeae" stroke-width="0.7"/>
<line x1="718.33" y1="238.15" x2="722.83" y2="237.15" stroke="#a8a8a8" stroke-width="0.7"/>
<line x1="1029.39" y1="171.97" x2="1024.89" y2="172.97" stroke="#a8a8a8" stroke-width="0.7"/>
<line x1="916.27" y1="326.8" x2="913.47" y2="324.9" stroke="#a8a8a8" stroke-width="0.7"/>
<line x1="746.36" y1="256.7" x2="750.86" y2="255.7" stroke="#a8a8a8" stroke-width="0.7"/>
<line x1="1056.98" y1="190.15" x2="1052.48" y2="191.15" stroke="#a8a8a8" stroke-width="0.7"/>
<line x1="964.24" y1="316.2" x2="961.44" y2="314.3" stroke="#a8a8a8" stroke-width="0.7"/>
<line x1="774.39" y1="275.25" x2="778.89" y2="274.25" stroke="#a8a8a8" stroke-width="0.7"/>
<line x1="1084.57" y1="208.32" x2="1080.07" y2="209.32" stroke="#a8a8a8" stroke-width="0.7"/>
<line x1="1012.22" y1="305.61" x2="1009.42" y2="303.71" stroke="#a8a8a8" stroke-width="0.7"/>
<line x1="802.43" y1="293.8" x2="806.93" y2="292.8" stroke="#a8a8a8" stroke-width="0.7"/>
<line x1="1112.16" y1="226.49" x2="1107.66" y2="227.49" stroke="#a8a8a8" stroke-width="0.7"/>
<line x1="1060.19" y1="295.01" x2="1057.39" y2="293.11" stroke="#a8a8a8" stroke-width="0.7"/>
<line x1="830.46" y1="312.36" x2="834.96" y2="311.36" stroke="#a8a8a8" stroke-width="0.7"/>
<line x1="1139.75" y1="244.67" x2="1135.25" y2="245.67" stroke="#a8a8a8" stroke-width="0.7"/>
<line x1="1108.16" y1="284.41" x2="1105.36" y2="282.51" stroke="#a8a8a8" stroke-width="0.7"/>
<line x1="858.49" y1="330.91" x2="862.99" y2="329.91" stroke="#a8a8a8" stroke-width="0.7"/>
<line x1="1167.34" y1="262.84" x2="1162.84" y2="263.84" stroke="#a8a8a8" stroke-width="0.7"/>
<line x1="1156.13" y1="273.81" x2="1153.33" y2="271.91" stroke="#a8a8a8" stroke-width="0.7"/>
<path d="M1155.72,268.85h1.1v1h-1.1zM1045.36,199.97h1.2v1.2h-1.2zM863.62,269.09h1v1h-1zM1078.03,224.42h1.2v1.5h-1.2zM948.41,251.14h1.1v1.3h-1.1zM1086.69,274.41h1v1h-1zM973.75,202.04h1.1v1h-1.1zM935.54,184.07h1v1h-1zM1017.53,197.18h1.1v1.2h-1.1zM789.86,200.82h1.1v1.5h-1.1zM999.2,266.45h1.2v1h-1.2zM931.96,313.98h1.2v1.8h-1.2zM997.29,225.47h1.2v1.8h-1.2zM989.89,291.68h1.1v1h-1.1zM1117.86,246.13h1.2v1.2h-1.2zM854.42,271.12h1.2v1.5h-1.2zM814.07,263.61h1.2v1.5h-1.2zM957.4,306.65h1.1v1h-1.1zM1087.81,251.54h1v1h-1zM1019.74,176.07h1v1.1h-1zM991.48,161.76h1v1.5h-1zM902.76,232.31h1.1v3.42h-1.1zM1109.87,272.42h1.2v1.3h-1.2zM1068.59,234.96h1.2v1.5h-1.2zM1040.83,223.96h1v1h-1zM979.34,201.65h1.2v1.1h-1.2zM1019.77,257.64h1v1h-1zM963.38,270.11h1v1h-1zM1101.19,247.8h1.2v1.2h-1.2zM1118.14,252.67h1v1h-1zM856.67,264.88h1.1v1h-1.1zM907.93,233.32h1v1.2h-1zM889.93,290.58h1v1h-1zM870.13,281.45h1.2v1h-1.2zM813.76,202.06h1v1.3h-1zM835.95,280.12h1.1v1.1h-1.1zM983.16,256.02h1.1v1h-1.1zM860.17,254.74h1.1v1.3h-1.1zM1059.58,266.68h1.1v1h-1.1zM909.85,235.18h1.2v1.1h-1.2zM810.36,198.58h1.1v1.2h-1.1zM749.77,250.26h1.1v1.3h-1.1zM960.49,266.6h1.2v1.1h-1.2zM1022.32,168.52h1.2v1h-1.2zM809.24,247.06h1v1h-1zM929.89,274.18h1.2v1.2h-1.2zM864.91,219.1h1v1h-1zM823.11,191.2h1v1.5h-1zM827.56,256.23h1.1v1.8h-1.1zM786.43,221.99h1v1.8h-1zM1020.51,297.38h1.1v1.5h-1.1zM835.13,252.75h1.1v1.2h-1.1zM797.35,280.38h1.2v1.1h-1.2zM851,324.8h1.2v1h-1.2zM908.19,295.01h1.2v1h-1.2zM1101.47,269.37h1.2v1.3h-1.2zM1052.35,285.58h1.2v1h-1.2zM822.87,265.16h1.2v1h-1.2zM829.93,256.29h1.1v1.1h-1.1zM756.13,205.87h1.2v1h-1.2zM884.82,281.47h1v1.5h-1zM1100.94,284.38h1v1.8h-1zM742.76,252.21h1v1h-1zM917.27,209.37h1v1.1h-1zM976.58,201.81h1v1h-1zM1046.65,228.27h1.2v1.1h-1.2zM787.72,228.84h1.2v1.1h-1.2zM968.56,230.61h1.1v1.8h-1.1zM787.85,213.76h1v1.2h-1zM1135.78,266.94h1v1.2h-1zM782.84,207.03h1v1h-1zM876.71,288.58h1.1v1.3h-1.1zM966.06,171.61h1.2v1h-1.2zM829.69,270.51h1v1.3h-1zM850.62,197.67h1.2v1.5h-1.2zM829.06,196.17h1.1v1.2h-1.1zM786.38,243.36h1v4.65h-1zM920.63,289.68h1v1h-1zM1028.36,299.78h1.2v1.1h-1.2zM875.03,258.22h1v1.2h-1zM900.35,291.74h1.1v1.5h-1.1zM968.52,247.66h1.1v1.1h-1.1zM810.45,204.51h1.2v1.2h-1.2zM917.09,269.5h1v1.8h-1zM817.72,230.43h1.1v1.5h-1.1zM1082.85,247.48h1.2v1h-1.2zM1054.31,233.76h1.1v1h-1.1zM967.74,161.84h1.1v1.8h-1.1zM1099.53,271.25h1.2v1.5h-1.2zM1127.34,242.79h1.1v1.2h-1.1zM1155.61,257.26h1.1v1h-1.1zM844.36,267.44h1v1.1h-1zM962.34,302.82h1.1v1.1h-1.1zM827.07,214.62h1.1v1.1h-1.1zM971.77,187.65h1.1v1.2h-1.1zM877.02,262.98h1.1v1h-1.1zM1007.14,256.37h1v1.5h-1zM998.73,160.72h1.1v1.5h-1.1zM944.4,245.72h1v1h-1zM930.78,181.99h1v1h-1zM1132.22,242.47h1.2v1h-1.2zM1007.53,180.78h1.2v1.1h-1.2zM992.29,273.81h1.2v1.2h-1.2zM943.25,224.56h1v1.2h-1zM770.29,240.28h1v1h-1zM924.15,199.96h1v1.8h-1zM922.32,221.93h1.2v1h-1.2zM988.9,275.25h1.1v1h-1.1zM783.07,201.31h1.1v1h-1.1zM812.66,215.82h1.1v1.2h-1.1zM989.93,305.59h1v1.1h-1zM1016,286.33h1.1v1.8h-1.1zM998.77,250.12h1v1h-1zM721.12,218.86h1.1v1.1h-1.1zM885.57,273.76h1v1h-1zM1127.22,240.07h1v1.3h-1zM953.15,192.25h1v1.8h-1zM920.34,219.47h1.1v1.1h-1.1zM1038.68,250.3h1v1.1h-1zM1049.27,242.18h1.2v1h-1.2zM1120.28,246.92h1v1.2h-1zM1095.39,245.59h1v1.3h-1zM888.1,211.9h1v1.3h-1zM1144.13,268.91h1.1v1.2h-1.1zM1008.29,234.14h1v1.3h-1zM1049.53,233.82h1v1h-1zM978.07,225.31h1.2v1h-1.2zM1043.18,183.72h1.1v1h-1.1zM972.12,305.33h1.2v1h-1.2zM908.96,189.17h1.1v1.3h-1.1zM954.22,205.65h1.1v1.2h-1.1zM959.95,287.4h1.1v1.2h-1.1zM1132.55,265.53h1.1v1h-1.1zM927.98,172.2h1v1h-1zM792.12,204.01h1.2v1.1h-1.2zM992.49,283.56h1.2v1.5h-1.2zM827.82,297.84h1.2v1.1h-1.2zM836.03,303.15h1v1h-1zM868.62,283.06h1.1v1.5h-1.1zM856.27,197.96h1.1v1h-1.1zM801.99,239.27h1.1v1.8h-1.1zM845.57,296.19h1.1v1.8h-1.1zM851.84,303.34h1.2v1.5h-1.2zM757.42,261.17h1.1v1.8h-1.1zM1020.39,258.84h1v5.59h-1zM874.86,189.09h1.1v1.2h-1.1zM912.75,286.28h1v4.39h-1zM852.23,228.2h1.1v1h-1.1zM867.57,315.41h1.2v1.1h-1.2zM868.07,296.75h1v1.5h-1zM911.83,201.72h1v1.8h-1zM903.91,179.96h1v1.1h-1zM1086.6,209.99h1.2v1.8h-1.2zM977.48,217.02h1v1.5h-1zM1051.49,292.13h1.2v1h-1.2zM939.24,207.41h1.1v1.2h-1.1zM791.96,268.8h1.2v1.5h-1.2zM918.87,219.76h1v1.2h-1zM774.29,264.41h1.2v1.8h-1.2zM903.48,328.77h1.2v1h-1.2zM1050.91,219.38h1v1.1h-1zM820.66,283.04h1.2v1.1h-1.2zM731.88,220.51h1v1.1h-1zM835.9,280.52h1v1.3h-1zM1095.29,214.15h1.2v1.8h-1.2zM871.78,205.62h1.2v4.01h-1.2zM882.93,314.59h1.1v1.5h-1.1zM1122.6,241.68h1v1h-1zM1075.73,272.67h1.1v1.5h-1.1zM893.66,187.26h1.2v1.8h-1.2zM1120.11,238.25h1v1.2h-1zM968.2,302.23h1.2v1.2h-1.2zM989.35,288.35h1v1.8h-1zM987.95,203.2h1.1v1h-1.1zM998.92,189.9h1.1v1.1h-1.1zM872.46,328.9h1.2v1h-1.2zM976.66,231.13h1v1.8h-1zM778.78,243.9h1.2v1.1h-1.2zM1012.95,183.4h1.1v1.5h-1.1zM961.07,199.41h1v1.2h-1zM1098.36,242.49h1.1v1.3h-1.1zM910.82,265.08h1.2v1h-1.2zM741.83,230.24h1.1v1h-1.1zM862.07,234.18h1.1v1.1h-1.1zM742.47,210.97h1v1.3h-1zM1136.42,261.5h1v1.3h-1zM832.35,195.24h1.1v1.1h-1.1zM1105.03,258.96h1v1.1h-1zM839.22,300.4h1v1h-1zM952.64,198.15h1.2v1.1h-1.2zM894.73,277.3h1.1v1.3h-1.1zM972.91,259.6h1v1.5h-1zM859.34,255.16h1v1.3h-1zM1068.58,236.44h1.2v1.8h-1.2zM927.73,272.95h1.2v1h-1.2zM924.23,236.88h1v1.8h-1zM887.47,266.72h1.1v1h-1.1zM839.93,233.91h1.2v1.2h-1.2zM918,194.75h1.2v1.3h-1.2zM988.04,188.29h1.2v1h-1.2zM977.18,256.88h1v1.1h-1zM908.82,309.09h1.2v1h-1.2zM883.49,246.81h1.1v1.2h-1.1zM895.91,252.66h1.2v1h-1.2zM933.24,264.28h1.2v1h-1.2zM1081.06,271.75h1.2v1h-1.2zM857.06,210.45h1v1.3h-1zM934.5,181.36h1.1v1.5h-1.1zM773.21,268.53h1.1v1.2h-1.1zM981.9,301.05h1.1v1.3h-1.1zM771.8,207.2h1v1.2h-1zM973.61,262.27h1v1h-1zM1033.99,259.54h1.1v1.8h-1.1zM935.83,237.65h1v1.3h-1zM998.55,260.98h1v1h-1zM926.02,173.09h1.2v1h-1.2zM1066.23,241.91h1.1v1h-1.1zM1052.24,291.45h1v1h-1zM1075.99,269.38h1.2v1.2h-1.2zM937.84,285.09h1.1v1.2h-1.1zM883.62,254.59h1.1v1.8h-1.1zM937.73,310.98h1v1.5h-1zM957.01,216.27h1.2v1.8h-1.2zM987.44,221.19h1.2v1.5h-1.2zM1015.86,279.52h1v1h-1zM889.32,201.17h1v1.2h-1zM887.61,210.41h1v6.7h-1zM990.08,301.5h1.1v1.1h-1.1zM807.2,256.58h1.2v1.5h-1.2z" fill="#5e4c47" fill-opacity="0.24499999999999997"/>
<path d="M1029.92,261.13h1v1.1h-1zM908.87,177.78h1.2v1.2h-1.2zM884.72,279.2h1.2v1.1h-1.2zM977.34,277.99h1.2v1.1h-1.2zM807.78,282.75h1v1.3h-1zM939.74,320.26h1v1.2h-1zM772.7,267.03h1.1v1.3h-1.1zM967.36,252.28h1v1.5h-1zM933.45,227.04h1.2v1.8h-1.2zM1045.13,195.41h1.1v1.1h-1.1zM868.9,311.02h1.2v1.5h-1.2zM841.58,225.52h1.2v1h-1.2zM1046.73,224.48h1.2v1.1h-1.2zM899.26,269.93h1v1.8h-1zM979.11,165.33h1v1h-1zM912.43,176.1h1v1.3h-1zM808.65,286.54h1v1h-1zM910.77,321.56h1.1v1.1h-1.1zM832.26,221.63h1.2v1.3h-1.2zM853.53,289.03h1.1v1.5h-1.1zM1011.22,215.99h1v1h-1zM1030.09,274.45h1v1h-1zM1019.14,205.67h1v1.2h-1zM1064.13,209.46h1.1v1.5h-1.1zM876.45,292.41h1v1.8h-1zM922.39,262.78h1v1h-1zM870.49,235.94h1v1.8h-1zM832.78,238.63h1.2v1.1h-1.2zM1070.61,276.49h1.2v1.1h-1.2zM817.57,292.54h1.1v1.1h-1.1zM994.75,252.23h1v1.5h-1zM935.83,227.41h1.1v1.5h-1.1zM987.11,182.2h1v1.8h-1zM974.54,281.19h1.1v1.2h-1.1zM879.77,283.34h1.1v1.8h-1.1zM1110.33,252.88h1v1h-1zM1021.51,287.57h1v1.3h-1zM953.8,170.27h1v1h-1zM955.78,205.77h1v1.5h-1zM1130.38,244.34h1v1.2h-1zM950.06,244.35h1v1.1h-1zM932.93,208.98h1v1.8h-1zM1068.25,209.61h1v1.5h-1zM963.4,223.45h1.2v1.8h-1.2zM1007.5,221.8h1.1v1h-1.1zM1031.06,218.29h1.1v1h-1.1zM934.69,217.01h1v1.3h-1zM979.61,243.03h1.2v1h-1.2zM981.22,299.93h1.1v1.2h-1.1zM907.47,267.36h1v1h-1zM927.56,196.55h1.1v1h-1.1zM1029.03,232.48h1.1v1.1h-1.1zM1072.45,246.93h1.1v1.2h-1.1zM1080.87,241.49h1.1v1.8h-1.1zM825.08,225.56h1.1v1.2h-1.1zM1043.66,196.47h1.1v1.2h-1.1zM834.24,212.25h1.2v1.8h-1.2zM1052.56,247.17h1v1.1h-1zM1094.77,284.85h1.2v1.2h-1.2zM825.57,239.38h1.2v1.5h-1.2zM1017.14,220.58h1v1.2h-1zM940.92,318.68h1v1.5h-1zM853.12,200.27h1.2v1h-1.2zM833.67,271.22h1.1v1.2h-1.1zM963.97,178.37h1.1v6.51h-1.1zM1015.36,196.15h1.2v1.3h-1.2zM901.33,241.37h1.2v1.1h-1.2zM967.82,279.44h1.2v1.2h-1.2zM817.01,281.96h1.1v1.8h-1.1zM893.75,239.43h1.1v1.2h-1.1zM1049.33,258.98h1.2v1.1h-1.2zM998.8,254.84h1v3.81h-1zM987.71,217.41h1v1h-1zM892.23,267.63h1.2v1.8h-1.2zM1030.97,173.88h1.2v1.8h-1.2zM942.21,259.84h1.2v1.8h-1.2zM793.7,264.58h1.2v1.2h-1.2zM754.29,232.82h1v1h-1zM883.22,286.17h1.2v1.1h-1.2zM1052.62,263.16h1.2v1.3h-1.2zM957.31,168h1.1v1h-1.1zM883.79,185.71h1.1v1.1h-1.1zM810.96,281.99h1.1v1.5h-1.1zM855.44,239.89h1.2v1.1h-1.2zM987.17,207.68h1.1v1.1h-1.1zM977.19,311.68h1.2v1.3h-1.2zM924.55,245.93h1.1v1.1h-1.1zM942.96,185.47h1.2v1h-1.2zM1047.35,238.66h1.2v1.2h-1.2zM1047.71,256.89h1v1.3h-1zM917.06,293.71h1.1v1.2h-1.1zM883.55,313.17h1v1h-1zM833.89,308.52h1v1h-1zM868.77,200.03h1.1v1.3h-1.1zM897.65,208.25h1.1v1.3h-1.1zM811.7,248.14h1.1v1.2h-1.1zM917.39,218.58h1v1.5h-1zM934.19,312.88h1.2v5h-1.2zM1080.55,245.65h1v1.3h-1zM986.18,192.84h1v1.5h-1zM958.87,266.88h1.1v1h-1.1zM820.22,255.27h1v1h-1zM1035.48,225.77h1v1.2h-1zM1015.3,239.24h1v1h-1zM985.08,196.97h1v1.2h-1zM919.76,240.95h1.1v1.3h-1.1zM1087.51,284.62h1.1v1.3h-1.1zM989.91,169.7h1.1v1.1h-1.1zM1094.87,245.63h1.2v1.1h-1.2zM819.72,290.4h1v1.5h-1zM1029.68,181.48h1.1v1.3h-1.1zM1095.54,263.13h1.1v1h-1.1zM958.01,278.8h1v1.1h-1zM988.69,243.36h1.2v1.1h-1.2zM964.39,266.15h1.2v1h-1.2zM1067.49,269.44h1.2v1.5h-1.2zM1034.7,175.34h1.1v1.2h-1.1zM904.63,320.58h1v1.5h-1zM798.62,234.93h1.2v1.2h-1.2zM1070.43,279.17h1v1.1h-1zM949.66,208.01h1v1.2h-1zM1021.55,206.93h1v1.8h-1zM961.62,204.85h1.2v1.8h-1.2zM925.13,261.69h1.2v1.5h-1.2zM939,228.22h1.2v1.1h-1.2zM867.08,218.39h1.2v1.3h-1.2zM852.43,229.15h1.1v1.8h-1.1zM956.92,176.8h1.2v1.3h-1.2zM861.91,258.29h1.2v1.1h-1.2zM1118.98,253.06h1v1.5h-1zM1143.5,269.9h1v1.3h-1zM957.27,203.38h1.1v1h-1.1zM1110.91,281.55h1v1.1h-1zM968.91,268.24h1.2v1h-1.2zM861.82,277.02h1.1v1.8h-1.1zM992.95,154.57h1.1v1.3h-1.1zM870.95,283.81h1.1v1.3h-1.1zM976.36,210.98h1.1v1h-1.1zM949.03,203.67h1v1.2h-1zM780.65,209.59h1.2v1h-1.2zM847.83,272.44h1.2v1.5h-1.2zM962.89,241.86h1.1v1h-1.1zM861.06,235.9h1.1v1.8h-1.1zM854.7,314.87h1.2v1.2h-1.2zM877.61,206.25h1.2v1.2h-1.2zM1066.2,225.29h1v1.5h-1zM835.69,227.81h1.1v1.1h-1.1zM1005.68,292.86h1.1v1.5h-1.1zM965.08,245.26h1.1v1.1h-1.1zM848.23,190.32h1.1v1.3h-1.1zM1056.15,220.62h1.2v1.1h-1.2zM1002.46,176.45h1.1v1.5h-1.1zM1002.63,298.98h1v1.8h-1zM1012.99,252.53h1.2v1.2h-1.2zM1032.26,300.73h1.2v1.3h-1.2zM893.35,180.77h1.1v1.2h-1.1zM868.89,278.4h1.2v1.5h-1.2zM1103.16,223.3h1.1v1h-1.1zM838.93,239.59h1v1.3h-1zM928.09,298.3h1.1v1.3h-1.1zM805.64,274.59h1v1.1h-1zM860.09,240.9h1v1.1h-1zM809.8,282.68h1v1.5h-1zM936.04,181.2h1.2v1h-1.2zM949.88,275.27h1v1.5h-1zM907.52,268.34h1v1.5h-1zM847.03,315.2h1.1v1.3h-1.1zM947.63,193.62h1.2v1.8h-1.2zM863.71,263.29h1v1.3h-1zM991.1,235.78h1v1.1h-1zM1059.91,207.83h1v1h-1zM802.98,250.34h1v1.3h-1zM930.88,253.03h1.1v1.8h-1.1zM731.29,214.87h1v1.1h-1zM1041.7,231.84h1v1.1h-1zM999.32,277h1v1h-1zM975.08,245.74h1.2v1.1h-1.2zM1105.47,237.69h1.2v1.8h-1.2zM729.73,210.4h1v1.3h-1zM834.27,234.7h1v1h-1zM1034.52,269.01h1.1v1.3h-1.1zM917.16,240.59h1.1v1.2h-1.1zM1107.04,235.77h1.1v1.1h-1.1zM824.16,268.73h1.1v1.5h-1.1zM902.34,195.28h1.1v1.3h-1.1zM804.19,219.9h1.2v1.2h-1.2zM1103.07,280.54h1.2v1.8h-1.2zM721.84,235.99h1.2v1.8h-1.2zM935.23,248.45h1.2v1.3h-1.2zM1123.77,242h1.1v1h-1.1zM864.13,214.1h1.2v1h-1.2zM868.67,266.83h1.1v1h-1.1zM1121.31,277.21h1v1.5h-1z" fill="#5e4c47" fill-opacity="0.5599999999999999"/>
<path d="M1028.8,294.43h1v1.2h-1zM1102.25,244.39h1v1h-1zM835.88,292.4h1.2v1h-1.2zM796.52,254.14h1.2v1h-1.2zM772.38,261.18h1v1h-1zM873.36,255.58h1.2v1.3h-1.2zM890.07,324.9h1v1.5h-1zM1024.48,249.54h1.1v1h-1.1zM766.92,222.68h1.2v1.2h-1.2zM1080.55,226.01h1.1v1.5h-1.1zM1076.88,286.07h1.1v1h-1.1zM1113.61,253.68h1.2v1.8h-1.2zM931.64,235.82h1.1v1h-1.1zM963.04,270.3h1.2v1.3h-1.2zM1065.94,220.42h1v1.2h-1zM829.47,251.52h1v1.3h-1zM936.04,241.6h1v1h-1zM1034.76,199.96h1.2v1.3h-1.2zM855.51,191.9h1v1.2h-1zM887.85,308.37h1.1v1.3h-1.1zM874.28,215.93h1v1h-1zM977.64,169.38h1.1v1.5h-1.1zM1054.33,214.47h1.1v1.1h-1.1zM907.39,326.91h1v1.5h-1zM868.5,202.71h1v1h-1zM1011.78,196.41h1.1v1.5h-1.1zM1011.75,284.96h1v1.8h-1zM834.58,278.22h1.1v1h-1.1zM863.58,190.54h1.2v1h-1.2zM920.13,178.22h1.1v1.2h-1.1zM1098.99,232.72h1.2v1h-1.2zM955.28,264.97h1.1v1.3h-1.1zM1112.66,254.16h1v1.3h-1zM833.4,190.57h1.2v5.69h-1.2zM1049.68,260.67h1.1v1.1h-1.1zM904.73,245.38h1.1v1.1h-1.1zM703.05,218.57h1.2v1.2h-1.2zM843.92,247.99h1v1h-1zM1008.77,264.25h1.2v1h-1.2zM872.71,302.99h1v1h-1zM989.8,176.74h1.2v1.8h-1.2zM1034.41,270.11h1v1.8h-1zM795.09,282.42h1v1h-1zM1063.2,269.44h1.2v1h-1.2zM952.16,267.8h1.1v1.1h-1.1zM705.57,226.37h1.1v1.2h-1.1zM1070.12,205.71h1v1h-1zM1081.38,221.63h1.2v1.5h-1.2zM893.85,216.57h1.1v1.1h-1.1zM1076.83,202.53h1v1h-1zM1024.21,212.92h1v1.3h-1zM710.93,226.15h1.2v5.12h-1.2zM897.55,275.54h1.1v1.8h-1.1zM814.95,229.9h1v1.8h-1zM988.46,187.68h1.1v1h-1.1zM1056.23,205.71h1v1.2h-1zM973.39,205.73h1v1h-1zM1091.31,236.91h1.1v1.8h-1.1zM887.56,325.4h1.1v1.8h-1.1zM1028.32,283.97h1v1h-1zM1046.42,227.05h1.1v1h-1.1zM1081.45,281.83h1v1.8h-1zM807.85,255.66h1.1v1h-1.1zM1110.42,248.48h1.1v1.2h-1.1zM1034.06,216.11h1.1v1.1h-1.1zM824.06,284.54h1.1v1h-1.1zM841.42,244.93h1.1v1.1h-1.1zM1041.84,261.83h1v1.2h-1zM907.14,216.85h1.2v1.5h-1.2zM782.36,243.26h1.1v1.1h-1.1zM916.19,182.03h1.1v1.5h-1.1zM981.59,274h1v1.3h-1zM1047.14,262.08h1.1v1.1h-1.1zM807.33,285.97h1.1v1.2h-1.1zM859.91,278.44h1v1.5h-1zM910.6,299.37h1.2v1.1h-1.2zM1084.48,225.59h1v1.2h-1zM947.84,167.6h1.1v1.2h-1.1zM1112.53,281.16h1v1h-1zM1053.41,242.4h1.2v1.8h-1.2zM929.67,298.34h1.1v1.5h-1.1zM901.56,254.83h1.2v1.3h-1.2zM961.87,214.96h1v1.1h-1zM961.91,202.34h1.1v1.8h-1.1zM942.71,181.28h1.2v1.2h-1.2zM1070.73,244.32h1v1.3h-1zM1011.44,284.33h1v1h-1zM847.62,299.62h1v1h-1zM1046.43,291.98h1v1.1h-1zM894.91,195.15h1v1.2h-1zM831.51,209.73h1.1v1.5h-1.1zM954.11,193.8h1.2v1.3h-1.2zM1128.26,256.4h1.1v1.1h-1.1zM800.83,223.72h1.1v1.1h-1.1zM1018.56,209.5h1v1h-1zM820.88,214.14h1v1.3h-1zM959.52,280.33h1.2v1.1h-1.2zM872.43,318.22h1.1v1.8h-1.1zM916.13,178.15h1.1v1.1h-1.1zM836.51,308.79h1.1v1.1h-1.1zM848.28,221.07h1v1.2h-1zM721.36,238.07h1.1v1h-1.1zM938.89,229.99h1.2v1.8h-1.2zM995.43,228.12h1v1.2h-1zM1048.3,259.61h1v1.3h-1zM1045.11,225.39h1v1.1h-1zM760.4,243.08h1v1.5h-1zM1082.65,232.56h1.2v1.2h-1.2zM1048.84,187.43h1v1h-1zM984.65,297.54h1v1.1h-1zM995.33,198.39h1v1.5h-1zM987.8,287.43h1.1v1.3h-1.1zM942.45,233.95h1v1h-1zM866.9,190.96h1.1v1.3h-1.1zM1011.17,234.47h1v1.3h-1zM1067.37,249.07h1.1v1.1h-1.1zM955.6,289.33h1.1v1h-1.1zM890.49,315.3h1.2v1.1h-1.2zM1094.03,233.67h1v1h-1zM871.87,191.07h1v1h-1zM857.08,207.3h1.1v4.14h-1.1zM1086.78,247.3h1v1.2h-1zM1015.96,230.34h1.1v1.3h-1.1zM848.5,309.78h1.2v1.2h-1.2zM944.24,312.18h1v1h-1zM837.23,286.37h1.1v1.2h-1.1zM862.79,306.92h1.1v1h-1.1zM827.43,225.66h1.1v1h-1.1zM1141.56,247.3h1.2v1.5h-1.2zM937.74,285.68h1.1v1.1h-1.1zM1097.74,232.08h1.1v1h-1.1zM840.36,246.47h1v1.5h-1zM768.08,238.75h1v1h-1zM959.18,205.54h1.1v1.8h-1.1zM1006.73,188.94h1.1v1.5h-1.1zM979.53,279.85h1.1v1.5h-1.1zM850.21,317.72h1.2v1.3h-1.2zM976.38,201.09h1.1v1.8h-1.1zM940.26,268.01h1.2v1.1h-1.2zM942.07,275.34h1v1.1h-1zM718.21,216.69h1.1v1.2h-1.1zM806.95,250.05h1.1v1h-1.1zM970.61,297.91h1.1v1h-1.1zM1023.23,234.86h1.1v1.3h-1.1zM857.44,281.41h1v1.5h-1zM994.38,307.93h1v1.2h-1zM873.87,260.36h1v1.1h-1zM1067.51,208.48h1.1v1.1h-1.1zM927.83,281.87h1v1.1h-1zM1001.76,261.66h1.2v1.1h-1.2zM833.95,297.65h1.1v1.5h-1.1zM823.8,213.86h1v1.2h-1zM1029.84,194.45h1.1v1.1h-1.1zM909.04,253.38h1v1.3h-1zM818.99,223.86h1.2v1.5h-1.2zM832.71,197.51h1v1.2h-1zM1005.65,157.96h1.1v1.5h-1.1zM1060.64,279.57h1v1.3h-1zM868.57,255.55h1.1v1h-1.1zM956.8,303.49h1.2v1.2h-1.2zM804.71,221.77h1.2v1.2h-1.2zM889.69,255.26h1v5.74h-1zM1005.01,219.46h1.2v1.8h-1.2zM1056.78,285.9h1.1v1h-1.1zM832.91,191.46h1.1v1h-1.1zM870.73,244.21h1.1v1.3h-1.1zM934.11,252.41h1.1v1.8h-1.1zM820.89,221.32h1.1v1.8h-1.1zM1126.74,262.78h1.1v1.5h-1.1zM826.68,235.18h1.2v1.2h-1.2zM846.47,314.05h1.1v1.2h-1.1zM884.89,290.66h1.2v1.5h-1.2zM928.09,279.8h1v1.5h-1zM885.56,291.04h1v1.8h-1zM949.44,291.62h1v1.1h-1zM1096.11,243.97h1v1.5h-1zM931.58,295.6h1v1h-1zM1054.81,274.57h1.1v1.8h-1.1zM1100.42,227h1.1v1.5h-1.1zM968.61,281.43h1.1v1h-1.1zM880.52,256.44h1.2v1h-1.2zM977.54,158.35h1.1v1h-1.1zM836.89,246.75h1.1v1.8h-1.1zM907.77,323.18h1v1.8h-1zM926.61,219.33h1v1.3h-1zM874.05,238.47h1.1v1.5h-1.1zM813.55,243.31h1.1v1.5h-1.1zM903.03,229.44h1v1h-1zM1077.53,266.2h1.1v1h-1.1zM948.78,185.35h1.1v1.3h-1.1zM747.34,228.62h1.1v1.3h-1.1zM1073.96,289.01h1v1.1h-1zM804.7,247.59h1v1h-1zM833.96,206.81h1.2v1.2h-1.2zM1136.28,242.46h1.2v1h-1.2zM999.02,243.28h1.1v1h-1.1zM838,208.53h1.1v5.45h-1.1zM1016.17,291.66h1.1v1.5h-1.1zM979.36,237.46h1.2v3.88h-1.2zM1072.8,260.25h1v1h-1zM964.24,301.69h1.1v1.1h-1.1zM976.17,174.01h1.1v1.1h-1.1zM935.06,212h1.2v1.1h-1.2zM967.72,270.93h1.2v1.3h-1.2zM915.48,323.34h1.2v1.3h-1.2zM996.63,218.69h1.2v1h-1.2zM945.53,240.43h1.2v1.8h-1.2zM1094.22,234.73h1.2v1.2h-1.2zM1111.35,234.33h1.1v1.5h-1.1zM945.24,251h1.1v1.5h-1.1zM981.26,182.55h1.2v1.1h-1.2zM823.84,252.28h1.1v1.2h-1.1zM1008.1,298.87h1v1.5h-1zM1004.54,217.62h1v1.8h-1zM1108.93,256.57h1.2v1.1h-1.2zM887.98,297.23h1.2v1.8h-1.2zM970.69,200.07h1v1.3h-1zM836.3,213.6h1v1.5h-1zM896.52,238.82h1.2v1.1h-1.2zM1120.01,252.66h1.1v1h-1.1zM1115.09,259.19h1.1v1.2h-1.1zM782.25,264.8h1.2v1.8h-1.2zM825.36,242.92h1.2v1.2h-1.2zM772.81,228.61h1v1.1h-1zM962.73,274.64h1.2v1.5h-1.2zM865.07,262.92h1.2v1h-1.2zM1069.92,272.65h1.2v1.3h-1.2zM1097.33,274.22h1.1v1.8h-1.1zM784.13,260.44h1v1.8h-1zM875.86,245.61h1.2v1.2h-1.2zM997.07,184.3h1.2v1.3h-1.2zM810.6,275.11h1.1v1.1h-1.1zM999.39,216.91h1.1v1.8h-1.1zM824.17,280.38h1.2v1.1h-1.2z" fill="#5e4c47" fill-opacity="0.13999999999999999"/>
<path d="M893.15,254.73h1v1.3h-1zM1022.28,204.51h1.1v1.2h-1.1zM797.41,216.39h1v1.8h-1zM1086.25,274.34h1v1.8h-1zM1042.5,213.79h1.1v1h-1.1zM826.74,269.68h1.2v1.1h-1.2zM977.5,193.1h1.1v1.3h-1.1zM856.68,300.1h1.1v1h-1.1zM945.34,212.86h1v1h-1zM1049.43,273.37h1v1h-1zM827.22,207.17h1.1v1.5h-1.1zM927.48,306.45h1.1v1h-1.1zM902.12,215.45h1.2v1.2h-1.2zM1116.62,273.29h1v1.1h-1zM826.27,240.68h1v1.3h-1zM776.92,261.25h1.2v1.1h-1.2zM1091.29,252.25h1v1h-1zM954.77,289.09h1.1v1.5h-1.1zM946.15,254.42h1.2v1.3h-1.2zM886.21,221.14h1.2v1h-1.2zM983.41,239.35h1.1v1h-1.1zM931.66,316.39h1.1v1h-1.1zM988.2,234.79h1.2v1.2h-1.2zM840.69,212.96h1v1.2h-1zM766.87,228.83h1.1v1.5h-1.1zM850.1,243.28h1v1.2h-1zM920.12,258.27h1v1.2h-1zM969.7,281.56h1.1v1.2h-1.1zM990.98,250h1v1.3h-1zM946.82,296.51h1.2v1h-1.2zM942.31,263.66h1.1v1.1h-1.1zM1087.81,230.61h1.2v1.1h-1.2zM908.51,193.81h1v1.2h-1zM867.69,236.96h1v1.8h-1zM867.66,314.81h1.1v1.3h-1.1zM863.8,322.49h1v1h-1zM862.82,272.3h1.2v1.3h-1.2zM998.16,161.77h1.1v1h-1.1zM1052.81,234.35h1v1.8h-1zM1062.97,291.47h1.1v1.3h-1.1zM856.77,257.5h1.2v1.1h-1.2zM890.86,307.85h1.1v1.1h-1.1zM923.07,186.48h1.2v1h-1.2zM897.43,192.75h1v1.3h-1zM798.15,249.52h1v1.5h-1zM1017.51,253.45h1v1.2h-1zM818.38,192.51h1v1.5h-1zM993.02,206.35h1.2v1.2h-1.2zM1078.21,270.48h1.1v1h-1.1zM1141.65,248.36h1v1h-1zM883.62,260.93h1.2v1.3h-1.2zM1069.4,198.92h1.1v1.5h-1.1zM955.18,309.45h1.1v1.3h-1.1zM817.83,195.73h1v1.8h-1zM830.9,261.54h1.1v1h-1.1zM1059.46,197.01h1.2v1.5h-1.2zM916.11,186.92h1v1.5h-1zM759.72,205.32h1.2v1h-1.2zM880.56,266.15h1.2v1.3h-1.2zM928.9,322.59h1.1v1.2h-1.1zM906.47,274.07h1v1.8h-1zM946.16,314.65h1.2v1.2h-1.2zM1079.27,271.4h1v1.1h-1zM1125.27,236.03h1v1.3h-1zM924.37,314.83h1.2v1.2h-1.2zM1095.69,229.86h1v1h-1zM993.74,206.15h1.1v1.3h-1.1zM861.26,318.27h1.2v1.1h-1.2zM1070.38,199.41h1.1v1.3h-1.1zM1048.18,217.87h1.1v1.3h-1.1zM1043.1,189.44h1.1v1h-1.1zM852.57,215.56h1.1v1h-1.1zM816.49,244.89h1.2v1h-1.2zM981.66,218.54h1v1.8h-1zM827.76,228.44h1.2v1h-1.2zM1047.6,205.05h1.2v1h-1.2zM1011.72,174.84h1.2v1h-1.2zM943.87,198.5h1v1.1h-1zM964.35,241.3h1.2v1h-1.2zM862.06,299.8h1.2v1.2h-1.2zM728.57,235.3h1.1v1.1h-1.1zM781.95,259.86h1.2v1.8h-1.2zM1122.5,273.58h1.2v1.2h-1.2zM832.22,303.86h1v1h-1zM756.88,257.81h1v1.3h-1zM1049.67,184.83h1.2v1.3h-1.2zM988.28,305.58h1.2v1h-1.2zM964.55,198.27h1.2v1h-1.2zM1007.41,243.38h1v1.2h-1zM931.14,297.33h1.1v1.5h-1.1zM965.94,194.52h1.2v1.3h-1.2zM1057.63,227.82h1v1.8h-1zM950.48,232.85h1v5.92h-1zM1018.72,286.14h1.1v1h-1.1zM916.26,269.64h1.1v1.5h-1.1zM1092.49,253.98h1.2v1h-1.2zM858.59,208.79h1.1v1.1h-1.1zM799.68,259.69h1v1h-1zM928.05,307.09h1.2v1.3h-1.2zM1026.51,251.41h1.2v1.1h-1.2zM883.09,229.46h1.2v1.8h-1.2zM1048.32,243.22h1.1v1h-1.1zM893.5,261.87h1.2v1.5h-1.2zM793.32,276.2h1.1v1.8h-1.1zM906.94,317.9h1.1v1.1h-1.1zM1102.13,260.41h1.1v1.3h-1.1zM1024.1,181.91h1v1h-1zM793.73,234.7h1.2v1.8h-1.2zM910.38,302.65h1.1v1.1h-1.1zM966.05,264.84h1.2v1.1h-1.2zM1019.81,182.65h1v1.1h-1zM1009.8,184.59h1.2v1.1h-1.2zM1054.77,277.32h1v1.2h-1zM1006.5,275.2h1.1v1.1h-1.1zM1063.8,284.03h1.1v1h-1.1zM885.09,286.77h1v1.1h-1zM801.24,260.74h1v1h-1zM839.15,221.68h1.1v1.5h-1.1zM827.06,300.71h1v1h-1zM882.02,211.73h1v1.2h-1zM766.76,225.38h1.2v1h-1.2zM853.28,290.6h1.1v1h-1.1zM952.57,309.6h1v1.1h-1zM938.54,283.91h1.2v1.8h-1.2zM859.06,236.79h1.1v1.8h-1.1zM999.2,172.67h1.2v1h-1.2zM924.8,252.89h1.2v1h-1.2zM716.71,218.38h1.1v1.2h-1.1zM761.15,205.39h1v1.5h-1zM732.76,225.66h1.1v1h-1.1zM922.49,201.58h1.1v1h-1.1zM958.24,255.85h1.2v1.8h-1.2zM916.26,223.66h1.1v1h-1.1zM941.2,229.07h1.1v1.8h-1.1zM863.11,263.21h1v1.8h-1zM986.51,215.02h1.2v5.82h-1.2zM1049.81,221.03h1.1v1.8h-1.1zM734.96,216.84h1.2v1h-1.2zM973.71,285.56h1v1.1h-1zM1064.28,268.54h1.2v1h-1.2zM851.73,312.77h1.1v1.8h-1.1zM1087.36,231.81h1v1.3h-1zM854.34,309.88h1.2v1.8h-1.2zM1126.09,257.97h1.1v1.1h-1.1zM1013.67,213.25h1.1v1.1h-1.1zM1065.17,246.14h1.2v1.8h-1.2zM722.96,217.17h1.2v1.1h-1.2zM1006.27,234.56h1.2v1h-1.2zM1110,260.36h1.1v1.8h-1.1zM997.66,206.91h1.2v1.8h-1.2zM742.72,241.64h1.1v1h-1.1zM1008.27,216.98h1v1.5h-1zM1074.5,228.79h1.1v1.2h-1.1zM847.38,303.43h1.1v1.2h-1.1zM958.06,211.9h1v1h-1zM1075.58,249.03h1v1h-1zM1129.69,254.11h1.1v1h-1.1zM1057.39,226.45h1v1h-1zM1058.63,244.08h1v1.5h-1zM896.96,269.89h1.1v1.5h-1.1zM1102.52,236.49h1.1v1.8h-1.1zM831.23,277.58h1v1.1h-1zM890.32,278.71h1v1h-1zM835.59,208.39h1v1.5h-1zM829.5,210.17h1.1v1h-1.1zM758.85,255.26h1.1v1h-1.1zM750,213.91h1v1.1h-1zM821.32,229.72h1.1v6.41h-1.1zM1043.22,232.49h1.1v1.8h-1.1zM1102.34,255.39h1v1h-1zM753.38,240.29h1.2v1.2h-1.2zM1114.36,227.74h1.2v1.8h-1.2zM870.74,260.49h1v1.3h-1zM867.4,226.16h1.2v1h-1.2zM793.62,211.1h1.2v1h-1.2zM952.56,270.41h1.2v1.8h-1.2zM991.78,236.33h1.1v1.5h-1.1zM1125.21,236.73h1v1.2h-1zM1013.22,292.24h1v1.3h-1zM770.62,233.04h1.2v1.1h-1.2zM812.17,232.23h1v1.2h-1zM956.54,285.46h1.2v1h-1.2zM980.96,183.14h1v1.2h-1zM997.12,297.98h1.2v1h-1.2zM1061.33,240.15h1v1h-1zM823.66,212.36h1v1h-1zM948.44,184.89h1.2v1.3h-1.2zM1041.19,283.21h1.1v1h-1.1zM849.36,215.25h1.2v1.3h-1.2zM1033.18,298.42h1.1v1.2h-1.1zM939.93,209.97h1.1v1.1h-1.1zM1117.34,247.65h1v1.8h-1zM849.07,290.72h1v1.8h-1zM1033.01,179.16h1.2v1.8h-1.2zM1042.61,294.21h1.1v1.3h-1.1zM738.27,220.44h1v1.8h-1zM1047.34,210.76h1.1v1.5h-1.1zM910.54,316.03h1.2v1h-1.2zM905.33,225.31h1v1.8h-1zM765.99,214.16h1.2v1.1h-1.2zM917.43,195.99h1v1.8h-1zM807.69,206.02h1.1v1.2h-1.1zM822.36,251.58h1.2v1.1h-1.2zM1052.52,222.25h1v1.2h-1zM863.97,210.91h1.1v1.2h-1.1zM1035.23,190.34h1.1v1.2h-1.1zM921.94,193.3h1v1h-1zM849.75,226.34h1.2v1.5h-1.2zM911.58,242.65h1v1.3h-1zM1063.62,234.18h1.1v1.5h-1.1zM937.84,271.08h1.2v1.3h-1.2zM1024.97,215.25h1.2v1h-1.2zM1019.98,209.14h1.2v1.5h-1.2zM1000.1,307.98h1v1.1h-1zM864.85,215.57h1.1v1h-1.1zM1009.2,184.25h1.1v1.5h-1.1zM1119.69,233.59h1.2v1.1h-1.2zM885.85,176.92h1v1.5h-1zM1043.88,291.57h1.2v1h-1.2zM925.27,293.75h1.1v1.8h-1.1zM786.34,246.06h1.2v1.5h-1.2zM1133.12,254.27h1v1.1h-1zM835.73,230.04h1.1v1.8h-1.1zM969.06,286.63h1v1.5h-1zM761.43,233.6h1.1v1h-1.1zM874.62,314.91h1.2v1.1h-1.2zM1151.61,259.6h1.2v1.3h-1.2zM727.29,229.42h1.2v1h-1.2zM1039.53,191.77h1.1v1h-1.1zM782.77,245.25h1.1v1.1h-1.1zM815.52,276.63h1v1.5h-1zM878.86,313.76h1.1v1h-1.1zM1010.72,165.25h1.1v1h-1.1zM822.73,202.67h1.1v1.5h-1.1zM946.19,314.65h1.1v1.3h-1.1zM984.12,205.71h1.2v1.8h-1.2zM886.6,237.06h1.2v1h-1.2zM1060.31,285.71h1.1v1.8h-1.1zM980.24,278.71h1v1.2h-1zM912.54,225.58h1.1v1h-1.1zM1065.65,228.44h1.1v1.5h-1.1zM961.01,253.92h1v1.2h-1zM750.32,208.3h1.1v1.3h-1.1zM1003.89,259.24h1.2v1.1h-1.2zM940.87,195.54h1v1.3h-1zM1009.73,186.03h1v1h-1zM986.05,202.13h1v1.3h-1z" fill="#5e4c47" fill-opacity="0.45499999999999996"/>
<path d="M1060.89,263.33h1.2v1.8h-1.2zM948.56,293.07h1.1v1.2h-1.1zM1111.5,275h1.2v1.8h-1.2zM891.52,251.57h1v1.5h-1zM943.21,218.16h1.1v1.5h-1.1zM1069.75,218.83h1.2v1.3h-1.2zM948.07,262.89h1v1.3h-1zM974.2,270.97h1v1.1h-1zM805.5,214.24h1.2v1h-1.2zM975.71,275.09h1.1v1.5h-1.1zM944.18,240.05h1.1v1.1h-1.1zM965.23,177.72h1v1.2h-1zM857.95,238.42h1.1v1.1h-1.1zM909.63,213.82h1.2v1.2h-1.2zM964.57,203.99h1.2v1.3h-1.2zM1056.41,255.86h1.2v1.8h-1.2zM864.41,230.75h1v1h-1zM860.65,266.15h1.2v1.8h-1.2zM1107.27,281.27h1.1v1.1h-1.1zM741.53,235.16h1v1.2h-1zM1021.87,220.73h1.1v1.3h-1.1zM839.37,235.86h1.1v1h-1.1zM905.5,202.84h1v1.5h-1zM1091.16,276.42h1.1v1h-1.1zM921.65,203.77h1v1.5h-1zM823.05,221.21h1.2v1.1h-1.2zM859.16,310.57h1v1.2h-1zM831.51,282.14h1.2v1.8h-1.2zM820.3,276.13h1.2v1.5h-1.2zM1010.17,217.4h1.1v1h-1.1zM991.24,224.64h1.1v1.5h-1.1zM1030.25,288.27h1.2v1.2h-1.2zM711.67,229.04h1.2v1.8h-1.2zM943.06,261.24h1v1.5h-1zM1021.36,210.12h1v1h-1zM1008.84,192.49h1.2v1.3h-1.2zM819.46,220.27h1.2v1h-1.2zM791.5,268.59h1.1v1h-1.1zM755.34,225.75h1v1.2h-1zM897.28,323.54h1v1.8h-1zM1133.69,244.05h1.1v1h-1.1zM1113.47,267.58h1.2v1.3h-1.2zM887.07,224.09h1.2v1.8h-1.2zM975.64,224.45h1.2v1.8h-1.2zM809.87,213.07h1.1v5.34h-1.1zM848.21,217.89h1.2v1h-1.2zM1004.69,179.06h1v1h-1zM987.63,255.14h1v1.8h-1zM765.4,211.21h1.2v1.8h-1.2zM912.71,221.64h1.1v1h-1.1zM1063.08,217.1h1v1.1h-1zM1039.94,199.65h1.1v1.1h-1.1zM836.78,203.56h1v1h-1zM728.51,218.33h1v1h-1zM1043.34,293.39h1v1.2h-1zM908,308.22h1.2v1h-1.2zM776.54,226.48h1.1v1.3h-1.1zM771.03,239.82h1v1h-1zM973.64,226.44h1.1v1.2h-1.1zM789.25,230.87h1v1.1h-1zM925.47,174.65h1v1.8h-1zM907.67,240.57h1.2v1.1h-1.2zM751.77,252.96h1.1v1.3h-1.1zM1116.15,232.53h1v1.5h-1zM1033.97,208.44h1.2v1h-1.2zM1060.76,203.67h1v1.1h-1zM971.48,180.77h1.2v1h-1.2zM967.44,258.44h1.2v1.8h-1.2zM819.61,230.12h1.2v1h-1.2zM1008.14,220.05h1.2v1.1h-1.2zM870.97,227.41h1.2v1.3h-1.2zM957.4,268.63h1.2v1h-1.2zM1122.14,277.37h1.1v1.1h-1.1zM859.87,247.33h1.2v1.1h-1.2zM746.8,252.35h1v1h-1zM1011.52,206.46h1v1.2h-1zM895.36,267.05h1.2v1.2h-1.2zM1105.87,239.76h1v1h-1zM841.84,233.46h1.2v1.5h-1.2zM986.63,173.1h1v1.2h-1zM953,272.82h1.1v1.3h-1.1zM947.84,301.88h1.1v1h-1.1zM1111.57,240.41h1v1.2h-1zM1090.39,252.41h1.2v1.2h-1.2zM998.31,206.24h1.2v1.8h-1.2zM941.08,193.38h1.1v1.8h-1.1zM1022.66,265.58h1.1v1.1h-1.1zM1053.4,220.02h1.1v6.16h-1.1zM1008.21,255.77h1.1v1h-1.1zM1155.83,257.15h1v1.3h-1zM900.19,228.8h1v1.3h-1zM962.53,266.49h1v1h-1zM927.96,190.42h1.2v5.14h-1.2zM956.79,260.17h1v1.8h-1zM1014.56,269.39h1.1v1.3h-1.1zM875.68,274.63h1.2v1.8h-1.2zM947.13,196.61h1v1.3h-1zM1024.47,189.62h1v1.3h-1zM762.4,245.26h1.1v1.1h-1.1zM965.61,313.39h1.2v1.2h-1.2zM1079.15,289.64h1.2v1h-1.2zM987.47,228.63h1v1h-1zM899.85,226.33h1.2v1.1h-1.2zM758.43,219.45h1.2v1.5h-1.2zM921.64,267.79h1.2v1.5h-1.2zM1034.02,192.78h1v1.1h-1zM1082.12,286.96h1.1v1.1h-1.1zM900.57,253.69h1.2v1.3h-1.2zM913.03,190.64h1.2v1h-1.2zM1055.05,240.89h1.1v1h-1.1zM922.73,263.65h1.2v1.1h-1.2zM729.96,239.9h1v1h-1zM1004.37,167.26h1.1v1.8h-1.1zM839.59,193.74h1.1v1.5h-1.1zM985.63,225.9h1v1.3h-1zM965.97,215.93h1.2v1h-1.2zM888.92,325.92h1.1v1h-1.1zM1083.36,246.52h1.2v1.3h-1.2zM921.99,239.38h1v1.1h-1zM952.58,317.21h1.1v1.3h-1.1zM982.53,274.3h1.1v1.8h-1.1zM954.66,227.9h1.1v1h-1.1zM1004.47,258.26h1v1.2h-1zM1014.71,176.7h1.1v1.2h-1.1zM862.55,290.44h1.1v1h-1.1zM817.28,269.2h1.2v1h-1.2zM912.37,307.36h1.2v1.5h-1.2zM1007.47,259.76h1.2v1.5h-1.2zM850.53,206.75h1v1h-1zM952.93,230.37h1.2v1.5h-1.2zM970.89,236.11h1v1h-1zM835.92,231.6h1.1v1.1h-1.1zM1008.35,191.25h1v1.8h-1zM1077.56,226.49h1.2v1.3h-1.2zM871.54,213.83h1.1v1h-1.1zM1021.77,218.63h1.2v1.2h-1.2zM838.43,311.01h1.2v1.1h-1.2zM864.69,299.2h1v1.1h-1zM1121.7,245.92h1v1h-1zM909.1,299.83h1v1.2h-1zM1049.81,220.08h1.1v1.8h-1.1zM932.61,236.69h1.2v1.1h-1.2zM885.99,274h1.2v1h-1.2zM787.72,267.98h1v1.2h-1zM901.81,219.32h1v1.2h-1zM807.82,287.42h1.2v1h-1.2zM847.98,285.05h1v1h-1zM1097.76,270.9h1.2v1.1h-1.2zM985.29,300h1.2v1.5h-1.2zM944,291.8h1v1.5h-1zM810.78,216.24h1.2v1.3h-1.2zM931.09,172.98h1.2v1h-1.2zM1000.47,155.32h1.2v1.1h-1.2zM947.54,279.97h1v1.1h-1zM957.09,215.09h1v1.8h-1zM815.58,235.68h1.2v1h-1.2zM978.48,305.37h1.1v1.8h-1.1zM846.67,294.88h1v1h-1zM1014.36,226.2h1v1h-1zM962.46,275.6h1.1v1.8h-1.1zM930.37,288.44h1v1.3h-1zM1098.31,226.65h1.2v1.1h-1.2zM982.68,278.72h1v1.8h-1zM1129.08,261.26h1.2v1h-1.2zM1058.71,284.09h1v1.5h-1zM796.97,198.58h1.2v1.3h-1.2zM1019.63,193.91h1v1.2h-1zM897.34,305.82h1v1.5h-1zM896.43,272.76h1v6.02h-1zM1168.48,264.34h1.2v1.5h-1.2zM941.61,230.31h1.1v1h-1.1zM916.73,242.7h1v1.3h-1zM900.19,197.46h1v1h-1zM1100.96,256.92h1v1.5h-1zM962.01,191.81h1v1h-1zM936.47,198.2h1v1h-1zM1031.82,276.18h1.2v1.5h-1.2zM869.02,241.88h1.2v1h-1.2zM956.29,213.62h1.2v1.3h-1.2zM1022.34,220.87h1.1v1.3h-1.1zM1007.03,277.35h1v1.8h-1zM785.15,201.85h1.1v1.2h-1.1zM971.67,269.44h1.1v1h-1.1zM985.21,261.56h1.1v1.5h-1.1zM1061.88,197.32h1.2v1.1h-1.2zM965.98,179.32h1.2v1h-1.2zM826.63,253.55h1v1h-1zM944.28,268.78h1.1v1h-1.1zM773.61,245.45h1.1v1.3h-1.1zM887.66,307.32h1v1.3h-1zM1106.2,233.96h1v1.1h-1zM1013.07,168.46h1.2v1.5h-1.2zM1133.81,257.83h1v1.1h-1zM852.06,237.64h1.1v1h-1.1zM979.47,181.97h1.1v1h-1.1zM1073.35,237.26h1v1.1h-1zM772.67,208h1.2v1h-1.2z" fill="#5e4c47" fill-opacity="0.35"/>
<path d="M690.3,213.08 L690.75,210.29 L691.2,216.33 L691.65,212.78 L692.1,212.54 L692.55,214.84 L693,214.27 L693.45,215.55 L693.9,212.96 L694.35,216.76 L694.8,214.46 L695.25,214.67 L695.7,214.03 L696.15,216.47 L696.6,210.72 L697.05,217.16 L697.5,212.14 L697.95,213.22 L698.4,212.21 L698.85,209.68 L699.3,207.46 L699.75,209.26 L700.21,216.83 L700.66,210.88 L701.11,214.9 L701.56,213.55 L702.01,211.99 L702.46,213.67 L702.91,215.74 L703.36,217.5 L703.81,218.02 L704.26,217.04 L704.71,215.65 L705.16,215.52 L705.61,216.55 L706.06,212.36 L706.51,216.4 L706.96,210.91 L707.41,218.49 L707.86,212.9 L708.31,218.46 L708.76,214.33 L709.21,200.39 L709.66,208.03 L710.11,215.93 L710.56,213.37 L711.01,208.78 L711.46,215.64 L711.91,213.74 L712.36,214.34 L712.81,214.82 L713.26,216.03 L713.71,215.27 L714.16,217.09 L714.61,216.43 L715.06,213.18 L715.51,211.61 L715.96,216.48 L716.41,215.32 L716.86,219.37 L717.31,216.82 L717.76,217.38 L718.21,217.9 L718.66,219.38 L719.11,219.51 L719.57,217.58 L720.02,219.47 L720.47,214.3 L720.92,214.6 L721.37,218.36 L721.82,218.45 L722.27,218.29 L722.72,214.26 L723.17,215.91 L723.62,208.16 L724.07,215.6 L724.52,219.83 L724.97,196.14 L725.42,216.66 L725.87,218.78 L726.32,212.1 L726.77,218.9 L727.22,216.58 L727.67,215.44 L728.12,220.55 L728.57,214.79 L729.02,191.71 L729.47,216.55 L729.92,203.06 L730.37,218.55 L730.82,220.63 L731.27,220.29 L731.72,218.57 L732.17,220.48 L732.62,220.96 L733.07,221.05 L733.52,212.63 L733.97,220.18 L734.42,220.21 L734.87,220.57 L735.32,220.08 L735.77,218.52 L736.22,219.85 L736.67,219.3 L737.12,216.65 L737.57,217.81 L738.02,219.58 L738.47,214.19 L738.92,217.71 L739.38,211.48 L739.83,214.25 L740.28,217.28 L740.73,213.46 L741.18,215.59 L741.63,213.37 L742.08,218.23 L742.53,218.2 L742.98,213.97 L743.43,218.68 L743.88,217.8 L744.33,212.62 L744.78,220.93 L745.23,220.11 L745.68,221.78 L746.13,218.1 L746.58,214.47 L747.03,222.12 L747.48,219.37 L747.93,222.19 L748.38,221.92 L748.83,216.52 L749.28,222.36 L749.73,221.21 L750.18,220.57 L750.63,221.2 L751.08,216.24 L751.53,221.5 L751.98,223.16 L752.43,218.26 L752.88,221.96 L753.33,220.26 L753.78,208.04 L754.23,219.16 L754.68,215.88 L755.13,217.67 L755.58,216.43 L756.03,221.33 L756.48,216.44 L756.93,220.48 L757.38,210.1 L757.83,223.56 L758.28,222.36 L758.74,215.24 L759.19,223.88 L759.64,218.15 L760.09,219.59 L760.54,219.86 L760.99,222.56 L761.44,222.15 L761.89,221.57 L762.34,220.93 L762.79,217.41 L763.24,201.47 L763.69,205.52 L764.14,216.56 L764.59,219.39 L765.04,214.13 L765.49,215.82 L765.94,212.9 L766.39,212.02 L766.84,221.9 L767.29,219.28 L767.74,222.6 L768.19,223.72 L768.64,223.68 L769.09,224.3 L769.54,224.38 L769.99,224.93 L770.44,218.21 L770.89,223.7 L771.34,223.29 L771.79,213 L772.24,224.44 L772.69,224.32 L773.14,223.82 L773.59,224.88 L774.04,210.17 L774.49,225.35 L774.94,223.64 L775.39,223.97 L775.84,223.87 L776.29,215.69 L776.74,222.11 L777.19,218.08 L777.64,221.28 L778.1,221.41 L778.55,219.64 L779,219.53 L779.45,222.82 L779.9,219.15 L780.35,220.18 L780.8,218.65 L781.25,221.19 L781.7,221.26 L782.15,222.16 L782.6,221.62 L783.05,219.83 L783.5,219.85 L783.95,224.22 L784.4,223.24 L784.85,225.17 L785.3,224.62 L785.75,225.17 L786.2,225.5 L786.65,224.78 L787.1,225.34 L787.55,221.68 L788,224.84 L788.45,226.27 L788.9,222.3 L789.35,225.99 L789.8,224.44 L790.25,225.24 L790.7,227.13 L791.15,224.6 L791.6,226.56 L792.05,225.11 L792.5,224.14 L792.95,225.17 L793.4,224.39 L793.85,217.94 L794.3,220.94 L794.75,227.14 L795.2,224.11 L795.65,226.73 L796.1,227.12 L796.55,227.08 L797,226.61 L797.46,226.87 L797.91,227.1 L798.36,226.95 L798.81,218.19 L799.26,226.89 L799.71,226.95 L800.16,221.72 L800.61,213.71 L801.06,227.89 L801.51,224.76 L801.96,218.17 L802.41,224.1 L802.86,221.12 L803.31,226.72 L803.76,226.8 L804.21,218.17 L804.66,226.31 L805.11,221.36 L805.56,219.87 L806.01,228.13 L806.46,226.9 L806.91,227.12 L807.36,224.28 L807.81,227.63 L808.26,227.52 L808.71,227.05 L809.16,227.85 L809.61,228.65 L810.06,225.29 L810.51,222.03 L810.96,226.69 L811.41,225.14 L811.86,227.82 L812.31,229.22 L812.76,227.67 L813.21,228.29 L813.66,224.38 L814.11,227.84 L814.56,224.38 L815.01,225.47 L815.46,228.92 L815.91,225.53 L816.36,228.87 L816.81,225.59 L817.27,228.63 L817.72,229.73 L818.17,226.46 L818.62,227.3 L819.07,228.64 L819.52,228.61 L819.97,228.49 L820.42,228.5 L820.87,228.18 L821.32,229.03 L821.77,230.02 L822.22,202.04 L822.67,228.46 L823.12,230.05 L823.57,230.19 L824.02,228.52 L824.47,226.81 L824.92,229.91 L825.37,228.95 L825.82,228.87 L826.27,223.15 L826.72,229.97 L827.17,226.91 L827.62,222.28 L828.07,227.08 L828.52,226.26 L828.97,229.25 L829.42,230.83 L829.87,231.13 L830.32,226.49 L830.77,230.77 L831.22,228.88 L831.67,231.23 L832.12,227.74 L832.57,230.45 L833.02,225.56 L833.47,229.83 L833.92,230.15 L834.37,231.41 L834.82,231.3 L835.27,230.71 L835.72,228.38 L836.17,228.51 L836.63,231.6 L837.08,230.07 L837.53,230.8 L837.98,230.78 L838.43,229.74 L838.88,230.33 L839.33,229.99 L839.78,229.6 L840.23,229.09 L840.68,230.7 L841.13,226.54 L841.58,232.04 L842.03,224.98 L842.48,232.15 L842.93,230.42 L843.38,228.17 L843.83,229.98 L844.28,229.18 L844.73,231.19 L845.18,227.56 L845.63,231.37 L846.08,226.49 L846.53,224.79 L846.98,230.3 L847.43,231.85 L847.88,232.86 L848.33,229.38 L848.78,224.98 L849.23,226.74 L849.68,203.52 L850.13,227.13 L850.58,233.09 L851.03,228.86 L851.48,231.09 L851.93,223.61 L852.38,233.35 L852.83,232.38 L853.28,232.1 L853.73,232.25 L854.18,231.4 L854.63,223.3 L855.08,233.59 L855.53,232.21 L855.99,229.43 L856.44,231.14 L856.89,230.95 L857.34,232.57 L857.79,228.83 L858.24,232.32 L858.69,231.3 L859.14,223.12 L859.59,232.9 L860.04,233.98 L860.49,223.16 L860.94,233.9 L861.39,230.43 L861.84,233.95 L862.29,226.37 L862.74,232.04 L863.19,233.76 L863.64,230.22 L864.09,231.03 L864.54,225.81 L864.99,234.1 L865.44,227.43 L865.89,229.67 L866.34,233.73 L866.79,233.92 L867.24,229.93 L867.69,225.19 L868.14,233.39 L868.59,232.21 L869.04,209.38 L869.49,228.51 L869.94,232.38 L870.39,235 L870.84,234.77 L871.29,233.35 L871.74,234.32 L872.19,229.42 L872.64,234.86 L873.09,218.15 L873.54,230.72 L873.99,233.27 L874.44,225.75 L874.89,235.24 L875.35,231.86 L875.8,219.58 L876.25,233.75 L876.7,235.52 L877.15,219.75 L877.6,233.43 L878.05,234.66 L878.5,230.09 L878.95,228.4 L879.4,230.51 L879.85,231.92 L880.3,235.93 L880.75,234.32 L881.2,225.6 L881.65,235.67 L882.1,228.63 L882.55,235.37 L883,231.12 L883.45,235.24 L883.9,232.48 L884.35,231.78 L884.8,234.68 L885.25,235.68 L885.7,232.04 L886.15,235.69 L886.6,236.83 L887.05,236.57 L887.5,233.53 L887.95,232.53 L888.4,235.86 L888.85,237.22 L889.3,235.72 L889.75,230.61 L890.2,236.88 L890.65,234.87 L891.1,235.29 L891.55,235.39 L892,226.56 L892.45,235.86 L892.9,235.87 L893.35,237.41 L893.8,235.16 L894.25,234.03 L894.7,221.98 L895.16,236.74 L895.61,234.96 L896.06,233.75 L896.51,225.34 L896.96,228.08 L897.41,233.4 L897.86,233.28 L898.31,231.15 L898.76,237.97 L899.21,236.71 L899.66,230.72 L900.11,238.38 L900.56,238.39 L901.01,238.28 L901.46,237.48 L901.91,233.15 L902.36,238.52 L902.81,233.06 L903.26,225.66 L903.71,223.4 L904.16,237.83 L904.61,231.22 L905.06,231.72 L905.51,237.86 L905.96,238.3 L906.41,231.86 L906.86,237.57 L907.31,235.98 L907.76,237.86 L908.21,230.96 L908.66,238.77 L909.11,236.72 L909.56,238.89 L910.01,239.18 L910.46,239.07 L910.91,238.57 L911.36,237.52 L911.81,236.35 L912.26,234.68 L912.71,236.83 L913.16,236.22 L913.61,237.01 L914.06,236.4 L914.52,239.12 L914.97,238.1 L915.42,239.34 L915.87,236.63 L916.32,239.35 L916.77,239.85 L917.22,239.58 L917.67,234.51 L918.12,229.66 L918.57,234.94 L919.02,237.13 L919.47,240.28 L919.92,234.81 L920.37,238.84 L920.82,240.05 L921.27,235.03 L921.72,221.34 L922.17,239.22 L922.62,229.64 L923.07,237.81 L923.52,237.91 L923.97,239.61 L924.42,239.84 L924.87,240.31 L925.32,239.2 L925.77,240.79 L926.22,233.96 L926.67,240.66 L927.12,234.64 L927.57,237.23 L928.02,232.9 L928.47,241.32 L928.92,239.67 L929.37,239.98 L929.82,235.75 L930.27,240.72 L930.72,240.86 L931.17,240.38 L931.62,233.71 L932.07,241.52 L932.52,236.81 L932.97,237.01 L933.42,240.27 L933.88,237.26 L934.33,241.12 L934.78,241.16 L935.23,240.26 L935.68,239.28 L936.13,239.51 L936.58,238.72 L937.03,232.57 L937.48,241.57 L937.93,235.32 L938.38,240.68 L938.83,241.67 L939.28,241.63 L939.73,240.93 L940.18,242.08 L940.63,241.27 L941.08,235.42 L941.53,241.58 L941.98,241.71 L942.43,236.39 L942.88,241.94 L943.33,224.97 L943.78,235.98 L944.23,240.08 L944.68,242.98 L945.13,242.65 L945.58,242.15 L946.03,239.19 L946.48,239.77 L946.93,218.41 L947.38,241.98 L947.83,241.6 L948.28,241.81 L948.73,237.84 L949.18,241.89 L949.63,236.9 L950.08,237.14 L950.53,243.41 L950.98,242.7 L951.43,241.81 L951.88,236.02 L952.33,243.5 L952.78,240.82 L953.24,243.39 L953.69,242.1 L954.14,233.34 L954.59,244.01 L955.04,238.06 L955.49,239.82 L955.94,243.39 L956.39,239.76 L956.84,242.28 L957.29,242.76 L957.74,244.18 L958.19,239.97 L958.64,235.13 L959.09,244.51 L959.54,244.41 L959.99,243.58 L960.44,235.93 L960.89,240.73 L961.34,243.46 L961.79,237.69 L962.24,237.02 L962.69,240.7 L963.14,241.75 L963.59,242.96 L964.04,227.61 L964.49,241.92 L964.94,234.5 L965.39,241.63 L965.84,237.93 L966.29,241.19 L966.74,237.52 L967.19,241.82 L967.64,241.84 L968.09,241.89 L968.54,230.59 L968.99,226.88 L969.44,237.78 L969.89,237.36 L970.34,237.21 L970.79,232.94 L971.24,236.7 L971.69,245.58 L972.14,244.42 L972.6,243.08 L973.05,244.96 L973.5,245.93 L973.95,226.9 L974.4,228.27 L974.85,242.46 L975.3,243.62 L975.75,243.3 L976.2,245.26 L976.65,239.68 L977.1,238.76 L977.55,245.83 L978,245.72 L978.45,246.4 L978.9,241.95 L979.35,244.53 L979.8,237.2 L980.25,241.23 L980.7,235.64 L981.15,246.73 L981.6,245.82 L982.05,240.63 L982.5,245.77 L982.95,240.64 L983.4,242.84 L983.85,243.92 L984.3,245.17 L984.75,245.52 L985.2,247.1 L985.65,244.5 L986.1,243.59 L986.55,235.11 L987,243.92 L987.45,242.68 L987.9,241.14 L988.35,247.51 L988.8,245.63 L989.25,244.11 L989.7,234.19 L990.15,237.28 L990.6,242.79 L991.05,244.14 L991.5,239.28 L991.95,246.47 L992.41,247.73 L992.86,243.83 L993.31,246.9 L993.76,243.88 L994.21,245.14 L994.66,247.41 L995.11,245.17 L995.56,245.5 L996.01,238.94 L996.46,246.68 L996.91,245.44 L997.36,245.85 L997.81,241.35 L998.26,245.35 L998.71,247.85 L999.16,240.17 L999.61,248.51 L1000.06,248.54 L1000.51,235.47 L1000.96,245.19 L1001.41,241.29 L1001.86,248.67 L1002.31,247.47 L1002.76,232.85 L1003.21,243.7 L1003.66,246.72 L1004.11,241.02 L1004.56,239.77 L1005.01,243.77 L1005.46,248.42 L1005.91,245.78 L1006.36,247.13 L1006.81,247.31 L1007.26,246.22 L1007.71,245.72 L1008.16,248.65 L1008.61,249.37 L1009.06,244.1 L1009.51,246.18 L1009.96,248.26 L1010.41,247.97 L1010.86,247.43 L1011.31,246.36 L1011.77,246.44 L1012.22,249.49 L1012.67,246.34 L1013.12,248.36 L1013.57,246.1 L1014.02,249.55 L1014.47,247.38 L1014.92,246.95 L1015.37,247.2 L1015.82,250.35 L1016.27,250.19 L1016.72,245.78 L1017.17,247.27 L1017.62,246.23 L1018.07,244.85 L1018.52,242.97 L1018.97,250.3 L1019.42,249.25 L1019.87,246.68 L1020.32,249.36 L1020.77,245.58 L1021.22,250.8 L1021.67,250.37 L1022.12,249.77 L1022.57,247.88 L1023.02,250.43 L1023.47,250.39 L1023.92,246.47 L1024.37,246.67 L1024.82,249.9 L1025.27,250.93 L1025.72,246.71 L1026.17,242.56 L1026.62,250.16 L1027.07,250.93 L1027.52,248.1 L1027.97,248.53 L1028.42,251.61 L1028.87,248.98 L1029.32,246.54 L1029.77,249.57 L1030.22,249.09 L1030.67,247.43 L1031.13,249.32 L1031.58,247.14 L1032.03,246.71 L1032.48,239.05 L1032.93,252.09 L1033.38,251.6 L1033.83,244.19 L1034.28,246.77 L1034.73,249.78 L1035.18,245.07 L1035.63,234.2 L1036.08,251.42 L1036.53,252.16 L1036.98,247.16 L1037.43,248.05 L1037.88,250.4 L1038.33,241.83 L1038.78,246.26 L1039.23,248.68 L1039.68,250.09 L1040.13,242.46 L1040.58,245.21 L1041.03,248.4 L1041.48,248.08 L1041.93,249.44 L1042.38,247.41 L1042.83,247.84 L1043.28,244.8 L1043.73,247.27 L1044.18,253.03 L1044.63,247.13 L1045.08,251.65 L1045.53,252.17 L1045.98,247.5 L1046.43,249.54 L1046.88,252.83 L1047.33,252.86 L1047.78,251.57 L1048.23,246.77 L1048.68,252.92 L1049.13,248.88 L1049.58,253.07 L1050.03,252.2 L1050.49,247.29 L1050.94,251.05 L1051.39,249.02 L1051.84,252 L1052.29,242.38 L1052.74,249.99 L1053.19,245.71 L1053.64,245.7 L1054.09,253.58 L1054.54,254.08 L1054.99,253.75 L1055.44,250.24 L1055.89,254.36 L1056.34,249.7 L1056.79,252.76 L1057.24,251.29 L1057.69,253.69 L1058.14,254.57 L1058.59,249.18 L1059.04,252.35 L1059.49,254.84 L1059.94,250.52 L1060.39,253.57 L1060.84,251.12 L1061.29,251.05 L1061.74,239.09 L1062.19,246.64 L1062.64,255.01 L1063.09,239.57 L1063.54,247.49 L1063.99,254.15 L1064.44,252.3 L1064.89,250.43 L1065.34,254.1 L1065.79,255.42 L1066.24,252.97 L1066.69,249.65 L1067.14,252.62 L1067.59,254.24 L1068.04,251.03 L1068.49,254.49 L1068.94,245.46 L1069.39,254.18 L1069.84,252.74 L1070.3,255.09 L1070.75,249.18 L1071.2,250.2 L1071.65,254.7 L1072.1,249.88 L1072.55,253.26 L1073,249.44 L1073.45,253.33 L1073.9,252.77 L1074.35,255.82 L1074.8,248.13 L1075.25,249.89 L1075.7,252.16 L1076.15,250.85 L1076.6,247.98 L1077.05,244.82 L1077.5,256.06 L1077.95,254.58 L1078.4,252.25 L1078.85,246.32 L1079.3,252.5 L1079.75,247.77 L1080.2,248.42 L1080.65,250.52 L1081.1,255.86 L1081.55,250.19 L1082,253.97 L1082.45,254.56 L1082.9,254.9 L1083.35,256.79 L1083.8,254.05 L1084.25,256.78 L1084.7,250 L1085.15,252.23 L1085.6,253.28 L1086.05,253.07 L1086.5,255.29 L1086.95,257.66 L1087.4,255.06 L1087.85,257.4 L1088.3,256.79 L1088.75,257.54 L1089.2,250.13 L1089.66,257.86 L1090.11,255.31 L1090.56,256.96 L1091.01,253.43 L1091.46,255.15 L1091.91,255.37 L1092.36,256.07 L1092.81,255.85 L1093.26,255.05 L1093.71,252.12 L1094.16,255.38 L1094.61,258.29 L1095.06,257.84 L1095.51,257.83 L1095.96,255.92 L1096.41,250.94 L1096.86,253.65 L1097.31,257.32 L1097.76,248.05 L1098.21,253.75 L1098.66,247.22 L1099.11,256.41 L1099.56,255.56 L1100.01,255.35 L1100.46,256.08 L1100.91,254.61 L1101.36,257.41 L1101.81,257.44 L1102.26,253.63 L1102.71,249.1 L1103.16,257.9 L1103.61,255.64 L1104.06,251.3 L1104.51,256.12 L1104.96,254.97 L1105.41,254.94 L1105.86,248.76 L1106.31,258.73 L1106.76,258.01 L1107.21,257.33 L1107.66,254.59 L1108.11,253.69 L1108.56,255.83 L1109.02,258.76 L1109.47,256.19 L1109.92,258.47 L1110.37,257.78 L1110.82,260.1 L1111.27,252.14 L1111.72,257.98 L1112.17,254.61 L1112.62,258.08 L1113.07,258.29 L1113.52,260.42 L1113.97,257.69 L1114.42,253.17 L1114.87,260.55 L1115.32,259.4 L1115.77,258.83 L1116.22,252.05 L1116.67,256.39 L1117.12,258.23 L1117.57,260.32 L1118.02,257.4 L1118.47,260.28 L1118.92,260.5 L1119.37,251.87 L1119.82,258.8 L1120.27,260.47 L1120.72,257.39 L1121.17,251.61 L1121.62,250.31 L1122.07,260.78 L1122.52,254.58 L1122.97,250.01 L1123.42,258.29 L1123.87,261.4 L1124.32,261.12 L1124.77,259.23 L1125.22,259.61 L1125.67,251.19 L1126.12,260.94 L1126.57,251.74 L1127.02,260.78 L1127.47,258.69 L1127.92,260.65 L1128.38,261.16 L1128.83,248.6 L1129.28,258.13 L1129.73,247.88 L1130.18,261.28 L1130.63,253.61 L1131.08,258.59 L1131.53,261.61 L1131.98,259.7 L1132.43,259.35 L1132.88,262.01 L1133.33,252.95 L1133.78,258.09 L1134.23,252.69 L1134.68,256.99 L1135.13,260.58 L1135.58,262.37 L1136.03,259.47 L1136.48,259.37 L1136.93,262.51 L1137.38,261.9 L1137.83,258.81 L1138.28,261.23 L1138.73,256.78 L1139.18,259.82 L1139.63,257.72 L1140.08,256.49 L1140.53,250.71 L1140.98,250.92 L1141.43,262.28 L1141.88,262.97 L1142.33,262.64 L1142.78,247.64 L1143.23,262.55 L1143.68,263.11 L1144.13,257.29 L1144.58,262.56 L1145.03,263.09 L1145.48,260.36 L1145.93,260.59 L1146.38,263.76 L1146.83,263.8 L1147.28,262.72 L1147.73,263.91 L1148.19,259.26 L1148.64,260.03 L1149.09,256.14 L1149.54,252.35 L1149.99,262.12 L1150.44,258.97 L1150.89,261.75 L1151.34,262.5 L1151.79,264.2 L1152.24,262.76 L1152.69,261.11 L1153.14,264.26 L1153.59,262.59 L1154.04,263.09 L1154.49,265.02 L1154.94,262.23 L1155.39,262.01 L1155.84,260.68 L1156.29,264.97 L1156.74,259.75 L1157.19,262.79 L1157.64,264.54 L1158.09,262.4 L1158.54,264.64 L1158.99,265.51 L1159.44,263.76 L1159.89,263.07 L1160.34,265.82 L1160.79,259.14 L1161.24,261.78 L1161.69,256.29 L1162.14,260.26 L1162.59,266.03 L1163.04,266.09 L1163.49,257.4 L1163.94,264.07 L1164.39,265.15 L1164.84,264.71 L1165.29,264.7 L1165.74,266.39 L1166.19,264.37 L1166.64,264.98 L1167.09,266.22 L1167.55,265.78 L1168,264.75 L1168.45,264.98 L1168.9,256.33 L1169.35,266.42 L1169.8,265.6 L1170.25,265.01 L1170.7,267.02 L1171.15,262.15 L1171.6,263.93 L1172.05,267.36 L1172.5,267.22 L1172.95,256.25 L1173.4,267.29 L1173.85,267.03 L1174.3,266.64 L1174.75,267.3 L1175.2,267.58 L1175.65,267.16 L1176.1,266.33 L1176.55,268.04 L1177,266.36 L1176.55,270.57 L1174.75,270.45 L1172.95,270.33 L1171.15,270.21 L1169.35,270.09 L1167.55,269.97 L1165.74,269.85 L1163.94,269.73 L1162.14,269.61 L1160.34,269.5 L1158.54,269.38 L1156.74,269.26 L1154.94,269.14 L1153.14,269.02 L1151.34,268.9 L1149.54,268.78 L1147.73,268.66 L1145.93,268.54 L1144.13,268.42 L1142.33,268.3 L1140.53,268.18 L1138.73,268.06 L1136.93,267.94 L1135.13,267.82 L1133.33,267.7 L1131.53,267.59 L1129.73,267.47 L1127.92,267.35 L1126.12,267.23 L1124.32,267.11 L1122.52,266.99 L1120.72,266.87 L1118.92,266.75 L1117.12,266.63 L1115.32,266.51 L1113.52,266.39 L1111.72,266.27 L1109.92,266.15 L1108.11,266.03 L1106.31,265.91 L1104.51,265.79 L1102.71,265.63 L1100.91,265.45 L1099.11,265.26 L1097.31,265.08 L1095.51,264.9 L1093.71,264.71 L1091.91,264.53 L1090.11,264.34 L1088.3,264.16 L1086.5,263.98 L1084.7,263.79 L1082.9,263.61 L1081.1,263.43 L1079.3,263.24 L1077.5,263.06 L1075.7,262.88 L1073.9,262.69 L1072.1,262.51 L1070.3,262.33 L1068.49,262.14 L1066.69,261.96 L1064.89,261.78 L1063.09,261.59 L1061.29,261.41 L1059.49,261.22 L1057.69,261.04 L1055.89,260.86 L1054.09,260.67 L1052.29,260.49 L1050.49,260.31 L1048.68,260.12 L1046.88,259.94 L1045.08,259.76 L1043.28,259.57 L1041.48,259.39 L1039.68,259.21 L1037.88,259.02 L1036.08,258.84 L1034.28,258.65 L1032.48,258.47 L1030.67,258.29 L1028.87,258.1 L1027.07,257.92 L1025.27,257.74 L1023.47,257.55 L1021.67,257.37 L1019.87,257.19 L1018.07,257 L1016.27,256.82 L1014.47,256.64 L1012.67,256.45 L1010.86,256.27 L1009.06,256.09 L1007.26,255.9 L1005.46,255.72 L1003.66,255.53 L1001.86,255.35 L1000.06,255.17 L998.26,254.98 L996.46,254.8 L994.66,254.62 L992.86,254.43 L991.05,254.25 L989.25,254.07 L987.45,253.88 L985.65,253.7 L983.85,253.52 L982.05,253.33 L980.25,253.15 L978.45,252.97 L976.65,252.78 L974.85,252.6 L973.05,252.41 L971.24,252.23 L969.44,252.05 L967.64,251.86 L965.84,251.68 L964.04,251.5 L962.24,251.31 L960.44,251.13 L958.64,250.95 L956.84,250.76 L955.04,250.58 L953.24,250.4 L951.43,250.21 L949.63,250.03 L947.83,249.85 L946.03,249.66 L944.23,249.48 L942.43,249.29 L940.63,249.11 L938.83,248.93 L937.03,248.74 L935.23,248.56 L933.42,248.38 L931.62,248.19 L929.82,248.01 L928.02,247.83 L926.22,247.64 L924.42,247.46 L922.62,247.28 L920.82,247.09 L919.02,246.91 L917.22,246.73 L915.42,246.54 L913.61,246.36 L911.81,246.17 L910.01,245.99 L908.21,245.81 L906.41,245.62 L904.61,245.44 L902.81,245.26 L901.01,245.07 L899.21,244.89 L897.41,244.71 L895.61,244.52 L893.8,244.34 L892,244.16 L890.2,243.97 L888.4,243.79 L886.6,243.61 L884.8,243.42 L883,243.24 L881.2,243.05 L879.4,242.87 L877.6,242.69 L875.8,242.5 L873.99,242.32 L872.19,242.14 L870.39,241.95 L868.59,241.77 L866.79,241.59 L864.99,241.4 L863.19,241.22 L861.39,241.04 L859.59,240.85 L857.79,240.67 L855.99,240.49 L854.18,240.3 L852.38,240.12 L850.58,239.93 L848.78,239.75 L846.98,239.57 L845.18,239.38 L843.38,239.2 L841.58,239.02 L839.78,238.83 L837.98,238.65 L836.17,238.47 L834.37,238.28 L832.57,238.1 L830.77,237.92 L828.97,237.73 L827.17,237.55 L825.37,237.37 L823.57,237.18 L821.77,237 L819.97,236.81 L818.17,236.63 L816.36,236.45 L814.56,236.26 L812.76,236.08 L810.96,235.9 L809.16,235.71 L807.36,235.53 L805.56,235.35 L803.76,235.16 L801.96,234.98 L800.16,234.8 L798.36,234.61 L796.55,234.43 L794.75,234.24 L792.95,234.06 L791.15,233.88 L789.35,233.69 L787.55,233.51 L785.75,233.33 L783.95,233.14 L782.15,232.96 L780.35,232.78 L778.55,232.59 L776.74,232.41 L774.94,232.23 L773.14,232.04 L771.34,231.86 L769.54,231.68 L767.74,231.49 L765.94,231.31 L764.14,231.12 L762.34,230.94 L760.54,230.76 L758.74,230.57 L756.93,230.39 L755.13,230.21 L753.33,230.02 L751.53,229.84 L749.73,229.66 L747.93,229.47 L746.13,229.29 L744.33,229.11 L742.53,228.92 L740.73,228.74 L738.92,228.56 L737.12,228.37 L735.32,228.19 L733.52,228 L731.72,227.82 L729.92,227.64 L728.12,227.45 L726.32,227.27 L724.52,227.09 L722.72,226.9 L720.92,226.72 L719.11,226.54 L717.31,226.35 L715.51,226.17 L713.71,225.99 L711.91,225.8 L710.11,225.62 L708.31,225.44 L706.51,225.25 L704.71,225.07 L702.91,224.88 L701.11,224.7 L699.3,224.52 L697.5,224.33 L695.7,223.24 L693.9,222.03 L692.1,220.81 L690.3,219.6Z" fill="#111111"/>
<path d="M698.4,218.43V200.67M699.3,218.52V205.16M705.61,219.16V202.54M706.51,219.25V201.37M787.1,227.46V210.82M804.21,229.21V206.9M818.17,230.63V219.17M844.73,233.34V224.5M850.58,233.93V217.76M853.73,234.26V218.98M857.34,234.62V221.88M858.24,234.71V221.76M878.05,236.73V220.26M880.3,236.96V223.19M881.65,237.1V219.84M882.55,237.19V223.39M894.25,238.39V221.45M898.31,238.8V224.34M901.46,239.12V227.41M904.16,239.39V227.2M919.47,240.95V227.05M944.68,243.52V230.46M945.13,243.57V236.97M984.75,247.61V231.64M990.6,248.2V228.02M992.86,248.43V233.63M996.46,248.8V233.82M1014.47,250.64V235.51M1043.73,253.62V231.88M1105.86,259.95V236.41M1122.97,261.69V238.79M1135.13,262.93V249.33M1136.93,263.12V252.2M1156.74,265.14V252.18M1158.09,265.27V257.07M1160.34,265.5V251.17" stroke="#4a3a36" stroke-width="0.8" stroke-opacity="0.55" fill="none"/>
<path d="M779.3,226 L779.8,140 L780.2,70 L780.5,40 L780.9,70 L781.5,140 L782.5,226Z" fill="#0d0d0d"/>
<path d="M780.1,80 L780.5,40.5 L780.9,80Z" fill="#7a6a66"/>
<path d="M777.8,224 L778.5,183.4 L779.2,224Z" fill="#6a5c58"/>
<line x1="979.3" y1="188.5" x2="979.3" y2="243" stroke="#8a7f7c" stroke-width="1"/>
<path d="M710.25,220.76 L710.85,199.5 L712.15,199.5 L712.75,220.76Z" fill="#1a1412"/>
<path d="M739.25,223.72 L739.85,205.5 L741.15,205.5 L741.75,223.72Z" fill="#1a1412"/>
<path d="M762.25,226.05 L762.85,192.7 L763.95,192.7 L764.55,226.05Z" fill="#2a2220"/>
<path d="M765.95,226.43 L766.55,189.8 L767.65,189.8 L768.25,226.43Z" fill="#2a2220"/>
<path d="M777.5,227.6 L778.1,183.4 L779.1,183.4 L779.7,227.6Z" fill="#6a5c58"/>
<path d="M968.35,247.03 L968.95,226.7 L969.65,226.7 L970.25,247.03Z" fill="#6a5c58"/>
<path d="M958.35,246.01 L958.95,230.7 L959.65,230.7 L960.25,246.01Z" fill="#6a5c58"/>
<path d="M998.35,250.09 L998.95,234.3 L999.65,234.3 L1000.25,250.09Z" fill="#6a5c58"/>
<path d="M1023.75,252.68 L1024.35,229.8 L1025.05,229.8 L1025.65,252.68Z" fill="#6a5c58"/>
<path d="M1083.85,258.8 L1084.45,235.5 L1085.15,235.5 L1085.75,258.8Z" fill="#6a5c58"/>
<path d="M1151.85,265.73 L1152.45,248 L1153.15,248 L1153.75,265.73Z" fill="#6a5c58"/>
<path d="M744,224.17 L744.6,207 L745.4,207 L746,224.17Z" fill="#4a3e3a"/>
<path d="M702,219.89 L702.6,207 L703.4,207 L704,219.89Z" fill="#4a3e3a"/>
<path d="M1174.8,268.09 L1175.4,259.5 L1176.6,259.5 L1177.2,268.09Z" fill="#111"/>
<line x1="1120.6" y1="143.6" x2="1120.6" y2="258" stroke="#8d8583" stroke-width="1"/>
<path d="M997,154.6 L998.2,151.5 L999.2,148.2 L999.8,147 L1001,147 L1001.6,149.5 L1002.6,151.2 L1003.6,153 L1004.4,155 Z" fill="#111"/>
<rect x="999.6" y="143.2" width="1.2" height="4.2" fill="#9a908d"/>
<text x="688.6" y="232.9" font-size="12" text-anchor="end" textLength="7.35" lengthAdjust="spacingAndGlyphs" fill="#1a1a1a" stroke="#1a1a1a" stroke-width="0.22">0</text>
<text x="716.47" y="251.3" font-size="12" text-anchor="end" textLength="29.4" lengthAdjust="spacingAndGlyphs" fill="#1a1a1a" stroke="#1a1a1a" stroke-width="0.22">2000</text>
<text x="744.34" y="269.7" font-size="12" text-anchor="end" textLength="29.4" lengthAdjust="spacingAndGlyphs" fill="#1a1a1a" stroke="#1a1a1a" stroke-width="0.22">4000</text>
<text x="772.21" y="288.1" font-size="12" text-anchor="end" textLength="29.4" lengthAdjust="spacingAndGlyphs" fill="#1a1a1a" stroke="#1a1a1a" stroke-width="0.22">6000</text>
<text x="800.08" y="306.5" font-size="12" text-anchor="end" textLength="29.4" lengthAdjust="spacingAndGlyphs" fill="#1a1a1a" stroke="#1a1a1a" stroke-width="0.22">8000</text>
<text x="827.95" y="324.9" font-size="12" text-anchor="end" textLength="36.75" lengthAdjust="spacingAndGlyphs" fill="#1a1a1a" stroke="#1a1a1a" stroke-width="0.22">10000</text>
<text x="855.82" y="343.3" font-size="12" text-anchor="end" textLength="36.75" lengthAdjust="spacingAndGlyphs" fill="#1a1a1a" stroke="#1a1a1a" stroke-width="0.22">12000</text>
<text x="885.2" y="351.6" font-size="12" text-anchor="middle" textLength="7.35" lengthAdjust="spacingAndGlyphs" fill="#1a1a1a" stroke="#1a1a1a" stroke-width="0.22">0</text>
<text x="933.7" y="341.13" font-size="12" text-anchor="middle" textLength="29.4" lengthAdjust="spacingAndGlyphs" fill="#1a1a1a" stroke="#1a1a1a" stroke-width="0.22">2000</text>
<text x="982.2" y="330.66" font-size="12" text-anchor="middle" textLength="29.4" lengthAdjust="spacingAndGlyphs" fill="#1a1a1a" stroke="#1a1a1a" stroke-width="0.22">4000</text>
<text x="1030.7" y="320.19" font-size="12" text-anchor="middle" textLength="29.4" lengthAdjust="spacingAndGlyphs" fill="#1a1a1a" stroke="#1a1a1a" stroke-width="0.22">6000</text>
<text x="1079.2" y="309.72" font-size="12" text-anchor="middle" textLength="29.4" lengthAdjust="spacingAndGlyphs" fill="#1a1a1a" stroke="#1a1a1a" stroke-width="0.22">8000</text>
<text x="1127.7" y="299.25" font-size="12" text-anchor="middle" textLength="36.75" lengthAdjust="spacingAndGlyphs" fill="#1a1a1a" stroke="#1a1a1a" stroke-width="0.22">10000</text>
<text x="1176.2" y="288.78" font-size="12" text-anchor="middle" textLength="36.75" lengthAdjust="spacingAndGlyphs" fill="#1a1a1a" stroke="#1a1a1a" stroke-width="0.22">12000</text>
<text x="677.3" y="325.3" font-size="12" textLength="74" lengthAdjust="spacingAndGlyphs" fill="#1a1a1a" stroke="#1a1a1a" stroke-width="0.22">5' end insert</text>
<text x="1027" y="357.6" font-size="12" textLength="75" lengthAdjust="spacingAndGlyphs" fill="#1a1a1a" stroke="#1a1a1a" stroke-width="0.22">3' end insert</text>
<use href="#gm" transform="translate(645.3,236.5) rotate(34.9) scale(0.463)"/>
<circle cx="2.6" cy="0" r="3.4" fill="#a3a8b5" stroke="#80848e" stroke-width="0.8" transform="translate(645.3,236.5) rotate(34.9) scale(0.463)"/>
<use href="#gmt3" transform="translate(645.3,236.5) rotate(34.9) scale(0.463)"/>
<use href="#gm" transform="translate(876.3,381.2) rotate(-13.0) scale(0.627)"/>
<circle cx="2.6" cy="0" r="3.4" fill="#a3a8b5" stroke="#80848e" stroke-width="0.8" transform="translate(876.3,381.2) rotate(-13.0) scale(0.627)"/>
<use href="#gmt3" transform="translate(876.3,381.2) rotate(-13.0) scale(0.627)"/>
<path d="M81.3,528 L81.3,527.9 L83.4,523.15 L85.5,518.39 L87.28,515.77 L89.05,513.31 L90.82,510.28 L92.6,507.88 L94.5,506.45 L96.4,507.14 L98.3,507.91 L100,506.6 L101.7,506.16 L103.4,504.06 L105.1,503.79 L106.8,502.59 L108.45,502.74 L110.1,502.45 L111.75,501.22 L113.4,501.21 L115.05,500.98 L116.7,501.67 L118.4,500.11 L120.1,497.82 L121.8,497.52 L123.5,495.14 L125.2,494.59 L126.98,491.7 L128.75,489.4 L130.53,488.69 L132.3,485.54 L134.4,487.34 L136.5,490.37 L138.4,493.03 L140.3,494.93 L142.2,498.84 L143.83,498.16 L145.46,498.38 L147.09,497.63 L148.71,498.81 L150.34,498.41 L151.97,498.85 L153.6,498.73 L155.38,497.43 L157.15,497.18 L158.92,496.52 L160.7,496.13 L162.45,496.23 L164.2,496.83 L165.95,497.54 L167.7,496.81 L169.47,497.42 L171.25,496.42 L173.03,495.91 L174.8,496.26 L176.57,495.26 L178.35,494.53 L180.12,494.33 L181.9,494.23 L183.68,493.02 L185.45,494.31 L187.22,492.61 L189,493.6 L190.78,493.58 L192.55,492.08 L194.32,493.14 L196.1,492.29 L197.8,492.48 L199.5,491.41 L201.2,491.32 L202.9,491.39 L204.6,492.48 L206.3,491.11 L208,491.86 L209.7,491.99 L211.4,491.86 L213.1,490.75 L214.71,490.57 L216.33,490.64 L217.94,490.84 L219.56,489.57 L221.17,490.4 L222.79,490.28 L224.4,490.18 L226.03,487.04 L227.66,486.68 L229.29,483.5 L230.91,482.09 L232.54,480.71 L234.17,479.38 L235.8,476.64 L237.41,477.58 L239.03,476.97 L240.64,476.6 L242.26,476.61 L243.87,476.38 L245.49,476.23 L247.1,476.34 L248.8,477.3 L250.5,477.89 L252.2,476.66 L253.9,476.58 L255.6,478.18 L257.43,476.37 L259.26,475.08 L261.09,473.72 L262.91,473.21 L264.74,472.49 L266.57,470.81 L268.4,469.67 L270.05,469.71 L271.7,471.7 L273.35,470.9 L275,472.26 L276.65,473.42 L278.3,472.91 L280,472.95 L281.7,472.38 L283.4,470.95 L285.1,470.28 L286.8,468.27 L288.5,468.12 L290.2,466.98 L291.9,467.41 L293.6,465.85 L295.3,465.43 L297.07,466.24 L298.85,465.94 L300.62,466.07 L302.4,465.18 L304.18,465.17 L305.95,465.49 L307.73,465.03 L309.5,464.67 L311.11,464.32 L312.73,463.38 L314.34,463.22 L315.96,463.67 L317.57,463.09 L319.19,462.03 L320.8,461.3 L322.43,461.84 L324.06,462.24 L325.69,463.34 L327.31,464.95 L328.94,465.89 L330.57,465.88 L332.2,467.36 L333.81,466.54 L335.43,465.61 L337.04,464.76 L338.66,464.12 L340.27,462.68 L341.89,462.43 L343.5,460.95 L345.27,460.74 L347.05,460.66 L348.82,459.99 L350.6,458.82 L352.38,459.33 L354.15,458.31 L355.93,457.67 L357.7,456.22 L359.48,457.46 L361.27,457.37 L363.05,458.42 L364.83,458.47 L366.62,459.42 L368.4,459.54 L370.16,459.84 L371.92,459.18 L373.69,459.72 L375.45,459.93 L377.21,460.14 L378.98,459.44 L380.74,460.29 L382.5,460.39 L384.27,460.64 L386.05,461.64 L387.82,462.14 L389.6,461.98 L391.38,462.53 L393.15,462.49 L394.93,464.1 L396.7,464.8 L398.4,463.63 L400.1,463.55 L401.8,463.16 L403.5,462.75 L405.2,461.42 L406.9,461.97 L408.6,461.22 L410.3,460.92 L412,460.1 L413.7,460 L415.31,460.85 L416.93,461.25 L418.54,462 L420.16,461.5 L421.77,462.33 L423.39,463.39 L425,464.34 L426.77,463.83 L428.55,464.75 L430.32,464.83 L432.1,464.07 L433.88,464.93 L435.65,464.71 L437.43,464.61 L439.2,464.91 L440.9,465.79 L442.6,466.15 L444.3,466.75 L446,467.08 L447.7,468.34 L449.4,467.91 L451.1,467.98 L452.8,467.64 L454.5,466.78 L456.2,467.55 L457.92,465.94 L459.64,466.43 L461.36,466.07 L463.08,466.12 L464.8,465.48 L466.56,467.62 L468.32,467.87 L470.09,468.32 L471.85,470.23 L473.61,470.39 L475.38,472.1 L477.14,472.76 L478.9,474.13 L480.67,474.81 L482.45,474.66 L484.23,474.1 L486,474.8 L487.77,474.6 L489.55,474.24 L491.33,473.95 L493.1,474.75 L494.71,474.82 L496.33,475.56 L497.94,475.69 L499.56,475.23 L501.17,474.93 L502.79,475.92 L504.4,474.6 L506.03,475.79 L507.66,477.53 L509.29,478.63 L510.91,478.88 L512.54,480.68 L514.17,482.11 L515.8,482.3 L517.5,482.68 L519.2,482.64 L520.9,483.04 L522.6,484.42 L524.3,483.76 L526,484.98 L527.7,485.19 L529.4,484.97 L531.1,484.73 L532.8,486.17 L534.41,486.19 L536.03,486.86 L537.64,487.51 L539.26,489.37 L540.87,489.39 L542.49,489.86 L544.1,490.96 L545.88,491.65 L547.65,493.69 L549.42,494.66 L551.2,495.67 L552.98,497.7 L554.75,499.02 L556.52,498.97 L558.3,501.05 L560,500.24 L561.7,500.9 L563.4,500.25 L565.1,498.99 L566.8,498.63 L568.5,498.85 L570.2,500.58 L571.9,499.87 L573.6,500.77 L575.3,500.96 L577,503.77 L578.7,506.25 L580.4,509.01 L582.1,510.55 L583.8,514.12 L585.5,516.22 L587.2,519.43 L588.9,521.96 L590.6,524.73 L592.3,527.9 L592.3,528Z" fill="#de2c1a"/>
<path d="M81.3,528 L81.3,527.9 L83.08,530.07 L84.85,532.09 L86.62,534.05 L88.4,536.79 L90.27,537.68 L92.13,537.92 L94,539.4 L95.9,539.06 L97.8,539.13 L99.7,538.42 L101.31,538.29 L102.93,537.85 L104.54,539.49 L106.16,539.34 L107.77,539.99 L109.39,540.62 L111,540.91 L112.63,541.07 L114.26,542.16 L115.89,541.72 L117.51,542.13 L119.14,543.26 L120.77,542.61 L122.4,543.17 L124.01,545.11 L125.63,544.98 L127.24,547.3 L128.86,548.15 L130.47,548.82 L132.09,549.67 L133.7,551.55 L135.47,550.91 L137.25,548.83 L139.03,548.52 L140.8,547.78 L142.45,548.41 L144.1,548.86 L145.75,549.3 L147.4,550.7 L149.05,551.78 L150.7,551.31 L153.6,555.77 L156.4,565.31 L158.55,567.37 L160.7,569.26 L162.45,567.19 L164.2,567.26 L165.95,566.62 L167.7,565.6 L169.47,565.47 L171.25,564.78 L173.03,566.4 L174.8,565.75 L176.58,565.21 L178.35,564.47 L180.12,562.86 L181.9,560.72 L183.68,561.76 L185.45,563.54 L187.22,563.1 L189,564.63 L190.78,565.1 L192.55,565.48 L194.32,567.01 L196.1,566.87 L197.8,566.83 L199.5,567.13 L201.2,566.5 L202.9,566.33 L204.6,567.02 L206.3,567.15 L208,567.23 L209.7,565.89 L211.4,566.23 L213.1,565.9 L214.8,566.5 L216.5,566.46 L218.2,567.32 L219.9,566.56 L221.6,566.19 L223.3,567.36 L225,566.62 L226.7,567.53 L228.4,567.47 L230.1,568.26 L231.73,568.09 L233.36,568.59 L234.99,568.42 L236.61,569.28 L238.24,569.21 L239.87,570.4 L241.5,570.43 L243.26,568.75 L245.03,567.85 L246.79,567.01 L248.55,566.53 L250.31,564.57 L252.07,564.37 L253.84,563.21 L255.6,561.24 L257.43,563.58 L259.26,564.07 L261.09,565.54 L262.91,567.71 L264.74,568.55 L266.57,570.99 L268.4,571.77 L270,570.99 L271.6,571.22 L273.2,569.47 L274.8,570.06 L276.4,568.46 L278,568.09 L279.6,568.85 L281.2,567.89 L282.85,567.63 L284.5,567.94 L286.15,569.78 L287.8,569.76 L289.45,570.49 L291.1,569.87 L292.75,571.12 L294.4,571.17 L296.05,571.45 L297.7,572.08 L299.35,573.01 L301,573.06 L302.65,573.58 L304.3,573.65 L305.95,575.23 L307.6,575.4 L309.25,576.12 L310.9,575.99 L312.55,577.13 L314.2,577.06 L315.85,577.65 L317.5,578.08 L319.15,578.82 L320.8,578.73 L322.43,577.24 L324.06,576.12 L325.69,575.38 L327.31,574.11 L328.94,574.45 L330.57,572.78 L332.2,572.22 L333.81,571.41 L335.43,572.58 L337.04,573.67 L338.66,573.65 L340.27,573.76 L341.89,574.23 L343.5,574.06 L345.19,574.61 L346.88,575.08 L348.56,575.89 L350.25,576.37 L351.94,577.62 L353.62,576.92 L355.31,577.54 L357,578.04 L358.63,577.13 L360.26,576.6 L361.89,575.79 L363.51,575.46 L365.14,574.01 L366.77,574.71 L368.4,573.09 L370.16,574 L371.92,573.6 L373.69,573.58 L375.45,573.25 L377.21,574.01 L378.98,572.69 L380.74,573.57 L382.5,572.97 L384.13,573.16 L385.76,572.84 L387.39,571.52 L389.01,571.16 L390.64,570.47 L392.27,570.38 L393.9,569.73 L395.6,571.1 L397.3,572.88 L399,572.76 L400.7,573.54 L402.4,574.65 L404.05,575.2 L405.7,576.77 L407.35,577.6 L409,577.56 L410.65,578.53 L412.3,580.08 L413.95,579.89 L415.6,578.8 L417.25,577.84 L418.9,578.09 L420.55,575.93 L422.2,575.4 L423.97,575.66 L425.75,574.18 L427.52,572.71 L429.3,572.63 L431.07,572.45 L432.85,570.81 L434.62,569.65 L436.4,568.35 L438.01,567.71 L439.63,568.44 L441.24,567.19 L442.86,567.3 L444.47,565.29 L446.09,564.99 L447.7,564.08 L449.33,564.84 L450.96,564.5 L452.59,565.01 L454.21,565.45 L455.84,565.49 L457.47,565.28 L459.1,565.46 L461,568.35 L462.9,568.49 L464.8,570.41 L466.56,569.18 L468.32,568.33 L470.09,566.55 L471.85,565.85 L473.61,564.46 L475.38,564.09 L477.14,563.64 L478.9,562.06 L480.67,563.01 L482.45,562.52 L484.23,562.74 L486,564.11 L487.77,564.57 L489.55,565.24 L491.33,565.47 L493.1,566.4 L494.71,565.75 L496.33,565.23 L497.94,563.45 L499.56,562.86 L501.17,562.65 L502.79,560.87 L504.4,559.89 L506.17,559.49 L507.95,558.42 L509.73,558.8 L511.5,558.16 L513.27,556.64 L515.05,555.63 L516.83,554.84 L518.6,554.39 L520.38,553.96 L522.15,554.34 L523.92,554.4 L525.7,553.69 L527.48,553.22 L529.25,554.07 L531.02,552.85 L532.8,552.92 L534.41,552.66 L536.03,552.4 L537.64,551.56 L539.26,551.67 L540.87,551.1 L542.49,551.4 L544.1,550.69 L545.88,550.7 L547.65,549.77 L549.42,549.4 L551.2,548.57 L552.98,547.82 L554.75,547.88 L556.52,547.09 L558.3,547.03 L560,547.52 L561.7,548.34 L563.4,548.51 L565.1,550.24 L566.8,550.41 L568.5,548.87 L570.2,547.63 L571.9,546.65 L573.6,545.66 L575.3,545.18 L577,542.3 L578.7,539.68 L580.4,538.54 L582.1,535.95 L583.8,532.84 L585.5,531.74 L587.2,530.73 L588.9,529.95 L590.6,529.62 L592.3,527.9 L592.3,528Z" fill="#aaaaac"/>
<path d="M81.3,527.9 L83.4,523.15 L85.5,518.39 L87.28,515.77 L89.05,513.31 L90.82,510.28 L92.6,507.88 L94.5,506.45 L96.4,507.14 L98.3,507.91 L100,506.6 L101.7,506.16 L103.4,504.06 L105.1,503.79 L106.8,502.59 L108.45,502.74 L110.1,502.45 L111.75,501.22 L113.4,501.21 L115.05,500.98 L116.7,501.67 L118.4,500.11 L120.1,497.82 L121.8,497.52 L123.5,495.14 L125.2,494.59 L126.98,491.7 L128.75,489.4 L130.53,488.69 L132.3,485.54 L134.4,487.34 L136.5,490.37 L138.4,493.03 L140.3,494.93 L142.2,498.84 L143.83,498.16 L145.46,498.38 L147.09,497.63 L148.71,498.81 L150.34,498.41 L151.97,498.85 L153.6,498.73 L155.38,497.43 L157.15,497.18 L158.92,496.52 L160.7,496.13 L162.45,496.23 L164.2,496.83 L165.95,497.54 L167.7,496.81 L169.47,497.42 L171.25,496.42 L173.03,495.91 L174.8,496.26 L176.57,495.26 L178.35,494.53 L180.12,494.33 L181.9,494.23 L183.68,493.02 L185.45,494.31 L187.22,492.61 L189,493.6 L190.78,493.58 L192.55,492.08 L194.32,493.14 L196.1,492.29 L197.8,492.48 L199.5,491.41 L201.2,491.32 L202.9,491.39 L204.6,492.48 L206.3,491.11 L208,491.86 L209.7,491.99 L211.4,491.86 L213.1,490.75 L214.71,490.57 L216.33,490.64 L217.94,490.84 L219.56,489.57 L221.17,490.4 L222.79,490.28 L224.4,490.18 L226.03,487.04 L227.66,486.68 L229.29,483.5 L230.91,482.09 L232.54,480.71 L234.17,479.38 L235.8,476.64 L237.41,477.58 L239.03,476.97 L240.64,476.6 L242.26,476.61 L243.87,476.38 L245.49,476.23 L247.1,476.34 L248.8,477.3 L250.5,477.89 L252.2,476.66 L253.9,476.58 L255.6,478.18 L257.43,476.37 L259.26,475.08 L261.09,473.72 L262.91,473.21 L264.74,472.49 L266.57,470.81 L268.4,469.67 L270.05,469.71 L271.7,471.7 L273.35,470.9 L275,472.26 L276.65,473.42 L278.3,472.91 L280,472.95 L281.7,472.38 L283.4,470.95 L285.1,470.28 L286.8,468.27 L288.5,468.12 L290.2,466.98 L291.9,467.41 L293.6,465.85 L295.3,465.43 L297.07,466.24 L298.85,465.94 L300.62,466.07 L302.4,465.18 L304.18,465.17 L305.95,465.49 L307.73,465.03 L309.5,464.67 L311.11,464.32 L312.73,463.38 L314.34,463.22 L315.96,463.67 L317.57,463.09 L319.19,462.03 L320.8,461.3 L322.43,461.84 L324.06,462.24 L325.69,463.34 L327.31,464.95 L328.94,465.89 L330.57,465.88 L332.2,467.36 L333.81,466.54 L335.43,465.61 L337.04,464.76 L338.66,464.12 L340.27,462.68 L341.89,462.43 L343.5,460.95 L345.27,460.74 L347.05,460.66 L348.82,459.99 L350.6,458.82 L352.38,459.33 L354.15,458.31 L355.93,457.67 L357.7,456.22 L359.48,457.46 L361.27,457.37 L363.05,458.42 L364.83,458.47 L366.62,459.42 L368.4,459.54 L370.16,459.84 L371.92,459.18 L373.69,459.72 L375.45,459.93 L377.21,460.14 L378.98,459.44 L380.74,460.29 L382.5,460.39 L384.27,460.64 L386.05,461.64 L387.82,462.14 L389.6,461.98 L391.38,462.53 L393.15,462.49 L394.93,464.1 L396.7,464.8 L398.4,463.63 L400.1,463.55 L401.8,463.16 L403.5,462.75 L405.2,461.42 L406.9,461.97 L408.6,461.22 L410.3,460.92 L412,460.1 L413.7,460 L415.31,460.85 L416.93,461.25 L418.54,462 L420.16,461.5 L421.77,462.33 L423.39,463.39 L425,464.34 L426.77,463.83 L428.55,464.75 L430.32,464.83 L432.1,464.07 L433.88,464.93 L435.65,464.71 L437.43,464.61 L439.2,464.91 L440.9,465.79 L442.6,466.15 L444.3,466.75 L446,467.08 L447.7,468.34 L449.4,467.91 L451.1,467.98 L452.8,467.64 L454.5,466.78 L456.2,467.55 L457.92,465.94 L459.64,466.43 L461.36,466.07 L463.08,466.12 L464.8,465.48 L466.56,467.62 L468.32,467.87 L470.09,468.32 L471.85,470.23 L473.61,470.39 L475.38,472.1 L477.14,472.76 L478.9,474.13 L480.67,474.81 L482.45,474.66 L484.23,474.1 L486,474.8 L487.77,474.6 L489.55,474.24 L491.33,473.95 L493.1,474.75 L494.71,474.82 L496.33,475.56 L497.94,475.69 L499.56,475.23 L501.17,474.93 L502.79,475.92 L504.4,474.6 L506.03,475.79 L507.66,477.53 L509.29,478.63 L510.91,478.88 L512.54,480.68 L514.17,482.11 L515.8,482.3 L517.5,482.68 L519.2,482.64 L520.9,483.04 L522.6,484.42 L524.3,483.76 L526,484.98 L527.7,485.19 L529.4,484.97 L531.1,484.73 L532.8,486.17 L534.41,486.19 L536.03,486.86 L537.64,487.51 L539.26,489.37 L540.87,489.39 L542.49,489.86 L544.1,490.96 L545.88,491.65 L547.65,493.69 L549.42,494.66 L551.2,495.67 L552.98,497.7 L554.75,499.02 L556.52,498.97 L558.3,501.05 L560,500.24 L561.7,500.9 L563.4,500.25 L565.1,498.99 L566.8,498.63 L568.5,498.85 L570.2,500.58 L571.9,499.87 L573.6,500.77 L575.3,500.96 L577,503.77 L578.7,506.25 L580.4,509.01 L582.1,510.55 L583.8,514.12 L585.5,516.22 L587.2,519.43 L588.9,521.96 L590.6,524.73 L592.3,527.9" fill="none" stroke="#151515" stroke-width="1.1" stroke-linejoin="round"/>
<path d="M81.3,527.9 L83.08,530.07 L84.85,532.09 L86.62,534.05 L88.4,536.79 L90.27,537.68 L92.13,537.92 L94,539.4 L95.9,539.06 L97.8,539.13 L99.7,538.42 L101.31,538.29 L102.93,537.85 L104.54,539.49 L106.16,539.34 L107.77,539.99 L109.39,540.62 L111,540.91 L112.63,541.07 L114.26,542.16 L115.89,541.72 L117.51,542.13 L119.14,543.26 L120.77,542.61 L122.4,543.17 L124.01,545.11 L125.63,544.98 L127.24,547.3 L128.86,548.15 L130.47,548.82 L132.09,549.67 L133.7,551.55 L135.47,550.91 L137.25,548.83 L139.03,548.52 L140.8,547.78 L142.45,548.41 L144.1,548.86 L145.75,549.3 L147.4,550.7 L149.05,551.78 L150.7,551.31 L153.6,555.77 L156.4,565.31 L158.55,567.37 L160.7,569.26 L162.45,567.19 L164.2,567.26 L165.95,566.62 L167.7,565.6 L169.47,565.47 L171.25,564.78 L173.03,566.4 L174.8,565.75 L176.58,565.21 L178.35,564.47 L180.12,562.86 L181.9,560.72 L183.68,561.76 L185.45,563.54 L187.22,563.1 L189,564.63 L190.78,565.1 L192.55,565.48 L194.32,567.01 L196.1,566.87 L197.8,566.83 L199.5,567.13 L201.2,566.5 L202.9,566.33 L204.6,567.02 L206.3,567.15 L208,567.23 L209.7,565.89 L211.4,566.23 L213.1,565.9 L214.8,566.5 L216.5,566.46 L218.2,567.32 L219.9,566.56 L221.6,566.19 L223.3,567.36 L225,566.62 L226.7,567.53 L228.4,567.47 L230.1,568.26 L231.73,568.09 L233.36,568.59 L234.99,568.42 L236.61,569.28 L238.24,569.21 L239.87,570.4 L241.5,570.43 L243.26,568.75 L245.03,567.85 L246.79,567.01 L248.55,566.53 L250.31,564.57 L252.07,564.37 L253.84,563.21 L255.6,561.24 L257.43,563.58 L259.26,564.07 L261.09,565.54 L262.91,567.71 L264.74,568.55 L266.57,570.99 L268.4,571.77 L270,570.99 L271.6,571.22 L273.2,569.47 L274.8,570.06 L276.4,568.46 L278,568.09 L279.6,568.85 L281.2,567.89 L282.85,567.63 L284.5,567.94 L286.15,569.78 L287.8,569.76 L289.45,570.49 L291.1,569.87 L292.75,571.12 L294.4,571.17 L296.05,571.45 L297.7,572.08 L299.35,573.01 L301,573.06 L302.65,573.58 L304.3,573.65 L305.95,575.23 L307.6,575.4 L309.25,576.12 L310.9,575.99 L312.55,577.13 L314.2,577.06 L315.85,577.65 L317.5,578.08 L319.15,578.82 L320.8,578.73 L322.43,577.24 L324.06,576.12 L325.69,575.38 L327.31,574.11 L328.94,574.45 L330.57,572.78 L332.2,572.22 L333.81,571.41 L335.43,572.58 L337.04,573.67 L338.66,573.65 L340.27,573.76 L341.89,574.23 L343.5,574.06 L345.19,574.61 L346.88,575.08 L348.56,575.89 L350.25,576.37 L351.94,577.62 L353.62,576.92 L355.31,577.54 L357,578.04 L358.63,577.13 L360.26,576.6 L361.89,575.79 L363.51,575.46 L365.14,574.01 L366.77,574.71 L368.4,573.09 L370.16,574 L371.92,573.6 L373.69,573.58 L375.45,573.25 L377.21,574.01 L378.98,572.69 L380.74,573.57 L382.5,572.97 L384.13,573.16 L385.76,572.84 L387.39,571.52 L389.01,571.16 L390.64,570.47 L392.27,570.38 L393.9,569.73 L395.6,571.1 L397.3,572.88 L399,572.76 L400.7,573.54 L402.4,574.65 L404.05,575.2 L405.7,576.77 L407.35,577.6 L409,577.56 L410.65,578.53 L412.3,580.08 L413.95,579.89 L415.6,578.8 L417.25,577.84 L418.9,578.09 L420.55,575.93 L422.2,575.4 L423.97,575.66 L425.75,574.18 L427.52,572.71 L429.3,572.63 L431.07,572.45 L432.85,570.81 L434.62,569.65 L436.4,568.35 L438.01,567.71 L439.63,568.44 L441.24,567.19 L442.86,567.3 L444.47,565.29 L446.09,564.99 L447.7,564.08 L449.33,564.84 L450.96,564.5 L452.59,565.01 L454.21,565.45 L455.84,565.49 L457.47,565.28 L459.1,565.46 L461,568.35 L462.9,568.49 L464.8,570.41 L466.56,569.18 L468.32,568.33 L470.09,566.55 L471.85,565.85 L473.61,564.46 L475.38,564.09 L477.14,563.64 L478.9,562.06 L480.67,563.01 L482.45,562.52 L484.23,562.74 L486,564.11 L487.77,564.57 L489.55,565.24 L491.33,565.47 L493.1,566.4 L494.71,565.75 L496.33,565.23 L497.94,563.45 L499.56,562.86 L501.17,562.65 L502.79,560.87 L504.4,559.89 L506.17,559.49 L507.95,558.42 L509.73,558.8 L511.5,558.16 L513.27,556.64 L515.05,555.63 L516.83,554.84 L518.6,554.39 L520.38,553.96 L522.15,554.34 L523.92,554.4 L525.7,553.69 L527.48,553.22 L529.25,554.07 L531.02,552.85 L532.8,552.92 L534.41,552.66 L536.03,552.4 L537.64,551.56 L539.26,551.67 L540.87,551.1 L542.49,551.4 L544.1,550.69 L545.88,550.7 L547.65,549.77 L549.42,549.4 L551.2,548.57 L552.98,547.82 L554.75,547.88 L556.52,547.09 L558.3,547.03 L560,547.52 L561.7,548.34 L563.4,548.51 L565.1,550.24 L566.8,550.41 L568.5,548.87 L570.2,547.63 L571.9,546.65 L573.6,545.66 L575.3,545.18 L577,542.3 L578.7,539.68 L580.4,538.54 L582.1,535.95 L583.8,532.84 L585.5,531.74 L587.2,530.73 L588.9,529.95 L590.6,529.62 L592.3,527.9" fill="none" stroke="#151515" stroke-width="1.1" stroke-linejoin="round"/>
<line x1="80.6" y1="528.2" x2="593.4" y2="528.2" stroke="#333" stroke-width="1.5"/>
<line x1="121.12" y1="528.2" x2="121.12" y2="531.8" stroke="#333" stroke-width="1.2"/>
<line x1="161.24" y1="528.2" x2="161.24" y2="531.8" stroke="#333" stroke-width="1.2"/>
<line x1="201.36" y1="528.2" x2="201.36" y2="531.8" stroke="#333" stroke-width="1.2"/>
<line x1="241.48" y1="528.2" x2="241.48" y2="531.8" stroke="#333" stroke-width="1.2"/>
<line x1="281.6" y1="528.2" x2="281.6" y2="531.8" stroke="#333" stroke-width="1.2"/>
<line x1="321.72" y1="528.2" x2="321.72" y2="531.8" stroke="#333" stroke-width="1.2"/>
<line x1="361.84" y1="528.2" x2="361.84" y2="531.8" stroke="#333" stroke-width="1.2"/>
<line x1="401.96" y1="528.2" x2="401.96" y2="531.8" stroke="#333" stroke-width="1.2"/>
<line x1="442.08" y1="528.2" x2="442.08" y2="531.8" stroke="#333" stroke-width="1.2"/>
<line x1="482.2" y1="528.2" x2="482.2" y2="531.8" stroke="#333" stroke-width="1.2"/>
<line x1="522.32" y1="528.2" x2="522.32" y2="531.8" stroke="#333" stroke-width="1.2"/>
<line x1="562.44" y1="528.2" x2="562.44" y2="531.8" stroke="#333" stroke-width="1.2"/>
<line x1="80.9" y1="403.7" x2="80.9" y2="651" stroke="#222" stroke-width="1.4"/>
<line x1="77.6" y1="404.3" x2="80.9" y2="404.3" stroke="#222" stroke-width="1.3"/>
<text x="76" y="408.4" font-size="11.4" font-weight="bold" text-anchor="end" fill="#111">100000</text>
<line x1="77.6" y1="466.4" x2="80.9" y2="466.4" stroke="#222" stroke-width="1.3"/>
<text x="76" y="470.5" font-size="11.4" font-weight="bold" text-anchor="end" fill="#111">50000</text>
<line x1="77.6" y1="528.2" x2="80.9" y2="528.2" stroke="#222" stroke-width="1.3"/>
<text x="76" y="532.3" font-size="11.4" font-weight="bold" text-anchor="end" fill="#111">0</text>
<line x1="77.6" y1="589.3" x2="80.9" y2="589.3" stroke="#222" stroke-width="1.3"/>
<text x="76" y="593.4" font-size="11.4" font-weight="bold" text-anchor="end" fill="#111">-50000</text>
<line x1="77.6" y1="650.5" x2="80.9" y2="650.5" stroke="#222" stroke-width="1.3"/>
<text x="76" y="654.6" font-size="11.4" font-weight="bold" text-anchor="end" fill="#111">-100000</text>
<text transform="translate(44,524.3) rotate(-90)" font-size="11.4" font-weight="bold" text-anchor="middle" fill="#111">coverage</text>
<text transform="translate(123.42,664.2) rotate(-45)" font-size="11.6" font-weight="bold" text-anchor="end" fill="#111">1000</text>
<text transform="translate(163.54,664.2) rotate(-45)" font-size="11.6" font-weight="bold" text-anchor="end" fill="#111">2000</text>
<text transform="translate(203.66,664.2) rotate(-45)" font-size="11.6" font-weight="bold" text-anchor="end" fill="#111">3000</text>
<text transform="translate(243.78,664.2) rotate(-45)" font-size="11.6" font-weight="bold" text-anchor="end" fill="#111">4000</text>
<text transform="translate(283.9,664.2) rotate(-45)" font-size="11.6" font-weight="bold" text-anchor="end" fill="#111">5000</text>
<text transform="translate(324.02,664.2) rotate(-45)" font-size="11.6" font-weight="bold" text-anchor="end" fill="#111">6000</text>
<text transform="translate(364.14,664.2) rotate(-45)" font-size="11.6" font-weight="bold" text-anchor="end" fill="#111">7000</text>
<text transform="translate(404.26,664.2) rotate(-45)" font-size="11.6" font-weight="bold" text-anchor="end" fill="#111">8000</text>
<text transform="translate(444.38,664.2) rotate(-45)" font-size="11.6" font-weight="bold" text-anchor="end" fill="#111">9000</text>
<text transform="translate(484.5,664.2) rotate(-45)" font-size="11.6" font-weight="bold" text-anchor="end" fill="#111">10000</text>
<text transform="translate(524.62,664.2) rotate(-45)" font-size="11.6" font-weight="bold" text-anchor="end" fill="#111">11000</text>
<text transform="translate(564.74,664.2) rotate(-45)" font-size="11.6" font-weight="bold" text-anchor="end" fill="#111">12000</text>
<text x="285.6" y="699.6" font-size="11.4" font-weight="bold" fill="#111">nucleotide position</text>
<use href="#gm" transform="translate(81,606.6)"/>
<rect x="81" y="603.5" width="6.7" height="6.3" fill="#a3a8b5" stroke="#8a8e99" stroke-width="0.5"/>
<use href="#gmt" transform="translate(81,606.6)"/>
<g fill="#f5659f" stroke="#f98fbd" stroke-width="0.4"><rect x="659.15" y="656.8" width="2.69" height="4.2"/><rect x="661.84" y="658.7" width="2.69" height="2.3"/><rect x="664.53" y="655.2" width="2.69" height="5.8"/><rect x="667.22" y="657.2" width="2.69" height="3.8"/><rect x="669.91" y="659.4" width="2.69" height="1.6"/><rect x="672.6" y="653" width="2.69" height="8"/><rect x="675.29" y="659.4" width="2.69" height="1.6"/><rect x="677.99" y="658.4" width="2.69" height="2.6"/><rect x="680.68" y="654.2" width="2.69" height="6.8"/><rect x="683.37" y="630.4" width="2.69" height="30.6"/><rect x="686.06" y="609.3" width="2.69" height="51.7"/><rect x="688.75" y="594.6" width="2.69" height="66.4"/><rect x="691.44" y="580.6" width="2.69" height="80.4"/><rect x="694.14" y="569.6" width="2.69" height="91.4"/><rect x="696.83" y="569.6" width="2.69" height="91.4"/><rect x="699.52" y="537.4" width="2.69" height="123.6"/><rect x="702.21" y="528.5" width="2.69" height="132.5"/><rect x="704.9" y="520.6" width="2.69" height="140.4"/><rect x="707.59" y="506.1" width="2.69" height="154.9"/><rect x="710.28" y="510.6" width="2.69" height="150.4"/><rect x="712.98" y="488.8" width="2.69" height="172.2"/><rect x="715.67" y="497.1" width="2.69" height="163.9"/><rect x="718.36" y="493" width="2.69" height="168"/><rect x="721.05" y="478.9" width="2.69" height="182.1"/><rect x="723.74" y="469.3" width="2.69" height="191.7"/><rect x="726.43" y="479.7" width="2.69" height="181.3"/><rect x="729.12" y="474.1" width="2.69" height="186.9"/><rect x="731.82" y="483.4" width="2.69" height="177.6"/><rect x="734.51" y="485.2" width="2.69" height="175.8"/><rect x="737.2" y="454.5" width="2.69" height="206.5"/><rect x="739.89" y="491.1" width="2.69" height="169.9"/><rect x="742.58" y="470.4" width="2.69" height="190.6"/><rect x="745.27" y="485.7" width="2.69" height="175.3"/><rect x="747.97" y="461.9" width="2.69" height="199.1"/><rect x="750.66" y="465.2" width="2.69" height="195.8"/><rect x="753.35" y="474.1" width="2.69" height="186.9"/><rect x="756.04" y="456.8" width="2.69" height="204.2"/><rect x="758.73" y="466.3" width="2.69" height="194.7"/><rect x="761.42" y="489.9" width="2.69" height="171.1"/><rect x="764.11" y="486.2" width="2.69" height="174.8"/><rect x="766.81" y="492.8" width="2.69" height="168.2"/><rect x="769.5" y="499" width="2.69" height="162"/><rect x="772.19" y="515.3" width="2.69" height="145.7"/><rect x="774.88" y="498.7" width="2.69" height="162.3"/><rect x="777.57" y="512.4" width="2.69" height="148.6"/><rect x="780.26" y="498.1" width="2.69" height="162.9"/><rect x="782.95" y="499.3" width="2.69" height="161.7"/><rect x="785.65" y="508.3" width="2.69" height="152.7"/><rect x="788.34" y="506.4" width="2.69" height="154.6"/><rect x="791.03" y="520.9" width="2.69" height="140.1"/><rect x="793.72" y="528.8" width="2.69" height="132.2"/><rect x="796.41" y="525.6" width="2.69" height="135.4"/><rect x="799.1" y="542.1" width="2.69" height="118.9"/><rect x="801.8" y="544.4" width="2.69" height="116.6"/><rect x="804.49" y="537.7" width="2.69" height="123.3"/><rect x="807.18" y="542.4" width="2.69" height="118.6"/><rect x="809.87" y="545.3" width="2.69" height="115.7"/><rect x="812.56" y="547.8" width="2.69" height="113.2"/><rect x="815.25" y="557.3" width="2.69" height="103.7"/><rect x="817.94" y="563.1" width="2.69" height="97.9"/><rect x="820.64" y="551.4" width="2.69" height="109.6"/><rect x="823.33" y="562.3" width="2.69" height="98.7"/><rect x="826.02" y="564.5" width="2.69" height="96.5"/><rect x="828.71" y="568.7" width="2.69" height="92.3"/><rect x="831.4" y="574.7" width="2.69" height="86.3"/><rect x="834.09" y="578.1" width="2.69" height="82.9"/><rect x="836.78" y="584" width="2.69" height="77"/><rect x="839.48" y="567.9" width="2.69" height="93.1"/><rect x="842.17" y="583.5" width="2.69" height="77.5"/><rect x="844.86" y="588.8" width="2.69" height="72.2"/><rect x="847.55" y="587.1" width="2.69" height="73.9"/><rect x="850.24" y="593.7" width="2.69" height="67.3"/><rect x="852.93" y="592.2" width="2.69" height="68.8"/><rect x="855.63" y="594.3" width="2.69" height="66.7"/><rect x="858.32" y="593.1" width="2.69" height="67.9"/><rect x="861.01" y="598.2" width="2.69" height="62.8"/><rect x="863.7" y="602" width="2.69" height="59"/><rect x="866.39" y="607.9" width="2.69" height="53.1"/><rect x="869.08" y="612.7" width="2.69" height="48.3"/><rect x="871.77" y="606.4" width="2.69" height="54.6"/><rect x="874.47" y="610.2" width="2.69" height="50.8"/><rect x="877.16" y="617.5" width="2.69" height="43.5"/><rect x="879.85" y="608.5" width="2.69" height="52.5"/><rect x="882.54" y="614.5" width="2.69" height="46.5"/><rect x="885.23" y="619.8" width="2.69" height="41.2"/><rect x="887.92" y="623" width="2.69" height="38"/><rect x="890.61" y="620.6" width="2.69" height="40.4"/><rect x="893.31" y="624.3" width="2.69" height="36.7"/><rect x="896" y="624.7" width="2.69" height="36.3"/><rect x="898.69" y="624" width="2.69" height="37"/><rect x="901.38" y="624.3" width="2.69" height="36.7"/><rect x="904.07" y="623.2" width="2.69" height="37.8"/><rect x="906.76" y="629.2" width="2.69" height="31.8"/><rect x="909.46" y="632.3" width="2.69" height="28.7"/><rect x="912.15" y="632" width="2.69" height="29"/><rect x="914.84" y="634" width="2.69" height="27"/><rect x="917.53" y="636.8" width="2.69" height="24.2"/><rect x="920.22" y="636.8" width="2.69" height="24.2"/><rect x="922.91" y="635.1" width="2.69" height="25.9"/><rect x="925.6" y="636.3" width="2.69" height="24.7"/><rect x="928.3" y="638.5" width="2.69" height="22.5"/><rect x="930.99" y="639.9" width="2.69" height="21.1"/><rect x="933.68" y="641" width="2.69" height="20"/><rect x="936.37" y="642.9" width="2.69" height="18.1"/><rect x="939.06" y="645.1" width="2.69" height="15.9"/><rect x="941.75" y="643.7" width="2.69" height="17.3"/><rect x="944.44" y="645.1" width="2.69" height="15.9"/><rect x="947.14" y="645.9" width="2.69" height="15.1"/><rect x="949.83" y="645.9" width="2.69" height="15.1"/><rect x="952.52" y="644" width="2.69" height="17"/><rect x="955.21" y="647.4" width="2.69" height="13.6"/><rect x="957.9" y="649.9" width="2.69" height="11.1"/><rect x="960.59" y="648.2" width="2.69" height="12.8"/><rect x="963.29" y="650.1" width="2.69" height="10.9"/><rect x="965.98" y="649.3" width="2.69" height="11.7"/><rect x="968.67" y="649.3" width="2.69" height="11.7"/><rect x="971.36" y="651.6" width="2.69" height="9.4"/><rect x="974.05" y="650.5" width="2.69" height="10.5"/><rect x="976.74" y="652.4" width="2.69" height="8.6"/><rect x="979.43" y="652.2" width="2.69" height="8.8"/><rect x="982.13" y="650.8" width="2.69" height="10.2"/><rect x="984.82" y="652.7" width="2.69" height="8.3"/><rect x="987.51" y="653.1" width="2.69" height="7.9"/><rect x="990.2" y="653.5" width="2.69" height="7.5"/><rect x="992.89" y="654.4" width="2.69" height="6.6"/><rect x="995.58" y="653.1" width="2.69" height="7.9"/><rect x="998.27" y="654.2" width="2.69" height="6.8"/><rect x="1000.97" y="654.4" width="2.69" height="6.6"/><rect x="1003.66" y="655" width="2.69" height="6"/><rect x="1006.35" y="655.2" width="2.69" height="5.8"/><rect x="1009.04" y="655.3" width="2.69" height="5.7"/><rect x="1011.73" y="655.3" width="2.69" height="5.7"/><rect x="1014.42" y="655.6" width="2.69" height="5.4"/><rect x="1017.12" y="655.6" width="2.69" height="5.4"/><rect x="1019.81" y="656.5" width="2.69" height="4.5"/><rect x="1022.5" y="656.9" width="2.69" height="4.1"/><rect x="1025.19" y="656.9" width="2.69" height="4.1"/><rect x="1027.88" y="656.1" width="2.69" height="4.9"/><rect x="1030.57" y="657.8" width="2.69" height="3.2"/><rect x="1033.26" y="657.8" width="2.69" height="3.2"/><rect x="1035.96" y="657.8" width="2.69" height="3.2"/><rect x="1038.65" y="658.4" width="2.69" height="2.6"/><rect x="1041.34" y="658.7" width="2.69" height="2.3"/><rect x="1044.03" y="658.4" width="2.69" height="2.6"/><rect x="1046.72" y="658.61" width="2.69" height="2.39"/><rect x="1049.41" y="658.8" width="2.69" height="2.2"/><rect x="1052.1" y="658.98" width="2.69" height="2.02"/><rect x="1054.8" y="659.14" width="2.69" height="1.86"/><rect x="1057.49" y="659.29" width="2.69" height="1.71"/><rect x="1060.18" y="659.42" width="2.69" height="1.58"/><rect x="1062.87" y="659.55" width="2.69" height="1.45"/><rect x="1065.56" y="659.67" width="2.69" height="1.33"/><rect x="1068.25" y="659.77" width="2.69" height="1.23"/><rect x="1070.95" y="659.87" width="2.69" height="1.13"/><rect x="1073.64" y="659.96" width="2.69" height="1.04"/><rect x="1076.33" y="660.04" width="2.69" height="0.96"/><rect x="1079.02" y="660.12" width="2.69" height="0.88"/><rect x="1081.71" y="660.19" width="2.69" height="0.81"/><rect x="1084.4" y="660.26" width="2.69" height="0.74"/><rect x="1087.09" y="660.31" width="2.69" height="0.69"/><rect x="1089.79" y="660.37" width="2.69" height="0.63"/><rect x="1092.48" y="660.42" width="2.69" height="0.58"/><rect x="1095.17" y="660.47" width="2.69" height="0.53"/><rect x="1097.86" y="660.51" width="2.69" height="0.49"/><rect x="1100.55" y="660.55" width="2.69" height="0.45"/><rect x="1103.24" y="660.58" width="2.69" height="0.42"/><rect x="1105.93" y="660.62" width="2.69" height="0.38"/><rect x="1108.63" y="660.65" width="2.69" height="0.35"/><rect x="1111.32" y="660.68" width="2.69" height="0.32"/><rect x="1114.01" y="660.7" width="2.69" height="0.3"/><rect x="1116.7" y="660.73" width="2.69" height="0.27"/><rect x="1119.39" y="660.75" width="2.69" height="0.25"/><rect x="1122.08" y="660.77" width="2.69" height="0.23"/><rect x="1124.78" y="660.79" width="2.69" height="0.21"/></g>
<line x1="657.6" y1="398.2" x2="657.6" y2="661.8" stroke="#222" stroke-width="1.3"/>
<line x1="657" y1="661.2" x2="1197" y2="661.2" stroke="#333" stroke-width="1.3"/>
<line x1="655" y1="398.8" x2="657.6" y2="398.8" stroke="#222" stroke-width="1.2"/>
<text x="654" y="402.5" font-size="10.3" font-weight="bold" text-anchor="end" fill="#111">0.025</text>
<line x1="655" y1="451.3" x2="657.6" y2="451.3" stroke="#222" stroke-width="1.2"/>
<text x="654" y="455" font-size="10.3" font-weight="bold" text-anchor="end" fill="#111">0.020</text>
<line x1="655" y1="503.8" x2="657.6" y2="503.8" stroke="#222" stroke-width="1.2"/>
<text x="654" y="507.5" font-size="10.3" font-weight="bold" text-anchor="end" fill="#111">0.015</text>
<line x1="655" y1="556.3" x2="657.6" y2="556.3" stroke="#222" stroke-width="1.2"/>
<text x="654" y="560" font-size="10.3" font-weight="bold" text-anchor="end" fill="#111">0.010</text>
<line x1="655" y1="608.8" x2="657.6" y2="608.8" stroke="#222" stroke-width="1.2"/>
<text x="654" y="612.5" font-size="10.3" font-weight="bold" text-anchor="end" fill="#111">0.005</text>
<line x1="655" y1="661.2" x2="657.6" y2="661.2" stroke="#222" stroke-width="1.2"/>
<text x="654" y="664.9" font-size="10.3" font-weight="bold" text-anchor="end" fill="#111">0.000</text>
<line x1="657.8" y1="661.2" x2="657.8" y2="664.2" stroke="#222" stroke-width="1.1"/>
<text transform="translate(660.2,672.3) rotate(-45)" font-size="10.4" font-weight="bold" text-anchor="end" fill="#111">0</text>
<line x1="671.26" y1="661.2" x2="671.26" y2="664.2" stroke="#222" stroke-width="1.1"/>
<text transform="translate(673.66,672.3) rotate(-45)" font-size="10.4" font-weight="bold" text-anchor="end" fill="#111">5</text>
<line x1="684.71" y1="661.2" x2="684.71" y2="664.2" stroke="#222" stroke-width="1.1"/>
<text transform="translate(687.11,672.3) rotate(-45)" font-size="10.4" font-weight="bold" text-anchor="end" fill="#111">10</text>
<line x1="698.17" y1="661.2" x2="698.17" y2="664.2" stroke="#222" stroke-width="1.1"/>
<text transform="translate(700.57,672.3) rotate(-45)" font-size="10.4" font-weight="bold" text-anchor="end" fill="#111">15</text>
<line x1="711.63" y1="661.2" x2="711.63" y2="664.2" stroke="#222" stroke-width="1.1"/>
<text transform="translate(714.03,672.3) rotate(-45)" font-size="10.4" font-weight="bold" text-anchor="end" fill="#111">20</text>
<line x1="725.09" y1="661.2" x2="725.09" y2="664.2" stroke="#222" stroke-width="1.1"/>
<text transform="translate(727.49,672.3) rotate(-45)" font-size="10.4" font-weight="bold" text-anchor="end" fill="#111">25</text>
<line x1="738.54" y1="661.2" x2="738.54" y2="664.2" stroke="#222" stroke-width="1.1"/>
<text transform="translate(740.94,672.3) rotate(-45)" font-size="10.4" font-weight="bold" text-anchor="end" fill="#111">30</text>
<line x1="752" y1="661.2" x2="752" y2="664.2" stroke="#222" stroke-width="1.1"/>
<text transform="translate(754.4,672.3) rotate(-45)" font-size="10.4" font-weight="bold" text-anchor="end" fill="#111">35</text>
<line x1="765.46" y1="661.2" x2="765.46" y2="664.2" stroke="#222" stroke-width="1.1"/>
<text transform="translate(767.86,672.3) rotate(-45)" font-size="10.4" font-weight="bold" text-anchor="end" fill="#111">40</text>
<line x1="778.92" y1="661.2" x2="778.92" y2="664.2" stroke="#222" stroke-width="1.1"/>
<text transform="translate(781.32,672.3) rotate(-45)" font-size="10.4" font-weight="bold" text-anchor="end" fill="#111">45</text>
<line x1="792.38" y1="661.2" x2="792.38" y2="664.2" stroke="#222" stroke-width="1.1"/>
<text transform="translate(794.77,672.3) rotate(-45)" font-size="10.4" font-weight="bold" text-anchor="end" fill="#111">50</text>
<line x1="805.83" y1="661.2" x2="805.83" y2="664.2" stroke="#222" stroke-width="1.1"/>
<text transform="translate(808.23,672.3) rotate(-45)" font-size="10.4" font-weight="bold" text-anchor="end" fill="#111">55</text>
<line x1="819.29" y1="661.2" x2="819.29" y2="664.2" stroke="#222" stroke-width="1.1"/>
<text transform="translate(821.69,672.3) rotate(-45)" font-size="10.4" font-weight="bold" text-anchor="end" fill="#111">60</text>
<line x1="832.75" y1="661.2" x2="832.75" y2="664.2" stroke="#222" stroke-width="1.1"/>
<text transform="translate(835.15,672.3) rotate(-45)" font-size="10.4" font-weight="bold" text-anchor="end" fill="#111">65</text>
<line x1="846.2" y1="661.2" x2="846.2" y2="664.2" stroke="#222" stroke-width="1.1"/>
<text transform="translate(848.6,672.3) rotate(-45)" font-size="10.4" font-weight="bold" text-anchor="end" fill="#111">70</text>
<line x1="859.66" y1="661.2" x2="859.66" y2="664.2" stroke="#222" stroke-width="1.1"/>
<text transform="translate(862.06,672.3) rotate(-45)" font-size="10.4" font-weight="bold" text-anchor="end" fill="#111">75</text>
<line x1="873.12" y1="661.2" x2="873.12" y2="664.2" stroke="#222" stroke-width="1.1"/>
<text transform="translate(875.52,672.3) rotate(-45)" font-size="10.4" font-weight="bold" text-anchor="end" fill="#111">80</text>
<line x1="886.58" y1="661.2" x2="886.58" y2="664.2" stroke="#222" stroke-width="1.1"/>
<text transform="translate(888.98,672.3) rotate(-45)" font-size="10.4" font-weight="bold" text-anchor="end" fill="#111">85</text>
<line x1="900.03" y1="661.2" x2="900.03" y2="664.2" stroke="#222" stroke-width="1.1"/>
<text transform="translate(902.43,672.3) rotate(-45)" font-size="10.4" font-weight="bold" text-anchor="end" fill="#111">90</text>
<line x1="913.49" y1="661.2" x2="913.49" y2="664.2" stroke="#222" stroke-width="1.1"/>
<text transform="translate(915.89,672.3) rotate(-45)" font-size="10.4" font-weight="bold" text-anchor="end" fill="#111">95</text>
<line x1="926.95" y1="661.2" x2="926.95" y2="664.2" stroke="#222" stroke-width="1.1"/>
<text transform="translate(929.35,672.3) rotate(-45)" font-size="10.4" font-weight="bold" text-anchor="end" fill="#111">100</text>
<line x1="940.41" y1="661.2" x2="940.41" y2="664.2" stroke="#222" stroke-width="1.1"/>
<text transform="translate(942.81,672.3) rotate(-45)" font-size="10.4" font-weight="bold" text-anchor="end" fill="#111">105</text>
<line x1="953.87" y1="661.2" x2="953.87" y2="664.2" stroke="#222" stroke-width="1.1"/>
<text transform="translate(956.26,672.3) rotate(-45)" font-size="10.4" font-weight="bold" text-anchor="end" fill="#111">110</text>
<line x1="967.32" y1="661.2" x2="967.32" y2="664.2" stroke="#222" stroke-width="1.1"/>
<text transform="translate(969.72,672.3) rotate(-45)" font-size="10.4" font-weight="bold" text-anchor="end" fill="#111">115</text>
<line x1="980.78" y1="661.2" x2="980.78" y2="664.2" stroke="#222" stroke-width="1.1"/>
<text transform="translate(983.18,672.3) rotate(-45)" font-size="10.4" font-weight="bold" text-anchor="end" fill="#111">120</text>
<line x1="994.24" y1="661.2" x2="994.24" y2="664.2" stroke="#222" stroke-width="1.1"/>
<text transform="translate(996.64,672.3) rotate(-45)" font-size="10.4" font-weight="bold" text-anchor="end" fill="#111">125</text>
<line x1="1007.69" y1="661.2" x2="1007.69" y2="664.2" stroke="#222" stroke-width="1.1"/>
<text transform="translate(1010.09,672.3) rotate(-45)" font-size="10.4" font-weight="bold" text-anchor="end" fill="#111">130</text>
<line x1="1021.15" y1="661.2" x2="1021.15" y2="664.2" stroke="#222" stroke-width="1.1"/>
<text transform="translate(1023.55,672.3) rotate(-45)" font-size="10.4" font-weight="bold" text-anchor="end" fill="#111">135</text>
<line x1="1034.61" y1="661.2" x2="1034.61" y2="664.2" stroke="#222" stroke-width="1.1"/>
<text transform="translate(1037.01,672.3) rotate(-45)" font-size="10.4" font-weight="bold" text-anchor="end" fill="#111">140</text>
<line x1="1048.07" y1="661.2" x2="1048.07" y2="664.2" stroke="#222" stroke-width="1.1"/>
<text transform="translate(1050.47,672.3) rotate(-45)" font-size="10.4" font-weight="bold" text-anchor="end" fill="#111">145</text>
<line x1="1061.53" y1="661.2" x2="1061.53" y2="664.2" stroke="#222" stroke-width="1.1"/>
<text transform="translate(1063.93,672.3) rotate(-45)" font-size="10.4" font-weight="bold" text-anchor="end" fill="#111">150</text>
<line x1="1074.98" y1="661.2" x2="1074.98" y2="664.2" stroke="#222" stroke-width="1.1"/>
<text transform="translate(1077.38,672.3) rotate(-45)" font-size="10.4" font-weight="bold" text-anchor="end" fill="#111">155</text>
<line x1="1088.44" y1="661.2" x2="1088.44" y2="664.2" stroke="#222" stroke-width="1.1"/>
<text transform="translate(1090.84,672.3) rotate(-45)" font-size="10.4" font-weight="bold" text-anchor="end" fill="#111">160</text>
<line x1="1101.9" y1="661.2" x2="1101.9" y2="664.2" stroke="#222" stroke-width="1.1"/>
<text transform="translate(1104.3,672.3) rotate(-45)" font-size="10.4" font-weight="bold" text-anchor="end" fill="#111">165</text>
<line x1="1115.36" y1="661.2" x2="1115.36" y2="664.2" stroke="#222" stroke-width="1.1"/>
<text transform="translate(1117.76,672.3) rotate(-45)" font-size="10.4" font-weight="bold" text-anchor="end" fill="#111">170</text>
<line x1="1128.81" y1="661.2" x2="1128.81" y2="664.2" stroke="#222" stroke-width="1.1"/>
<text transform="translate(1131.21,672.3) rotate(-45)" font-size="10.4" font-weight="bold" text-anchor="end" fill="#111">175</text>
<line x1="1142.27" y1="661.2" x2="1142.27" y2="664.2" stroke="#222" stroke-width="1.1"/>
<text transform="translate(1144.67,672.3) rotate(-45)" font-size="10.4" font-weight="bold" text-anchor="end" fill="#111">180</text>
<line x1="1155.73" y1="661.2" x2="1155.73" y2="664.2" stroke="#222" stroke-width="1.1"/>
<text transform="translate(1158.13,672.3) rotate(-45)" font-size="10.4" font-weight="bold" text-anchor="end" fill="#111">185</text>
<line x1="1169.18" y1="661.2" x2="1169.18" y2="664.2" stroke="#222" stroke-width="1.1"/>
<text transform="translate(1171.59,672.3) rotate(-45)" font-size="10.4" font-weight="bold" text-anchor="end" fill="#111">190</text>
<line x1="1182.64" y1="661.2" x2="1182.64" y2="664.2" stroke="#222" stroke-width="1.1"/>
<text transform="translate(1185.04,672.3) rotate(-45)" font-size="10.4" font-weight="bold" text-anchor="end" fill="#111">195</text>
<line x1="1196.1" y1="661.2" x2="1196.1" y2="664.2" stroke="#222" stroke-width="1.1"/>
<text transform="translate(1198.5,672.3) rotate(-45)" font-size="10.4" font-weight="bold" text-anchor="end" fill="#111">200</text>
<text transform="translate(618.5,529.5) rotate(-90)" font-size="10.5" font-weight="bold" text-anchor="middle" fill="#111">Frequency</text>
<text x="896" y="701.5" font-size="10.7" font-weight="bold" fill="#111">Peptide Size</text>
</svg></body></html>
